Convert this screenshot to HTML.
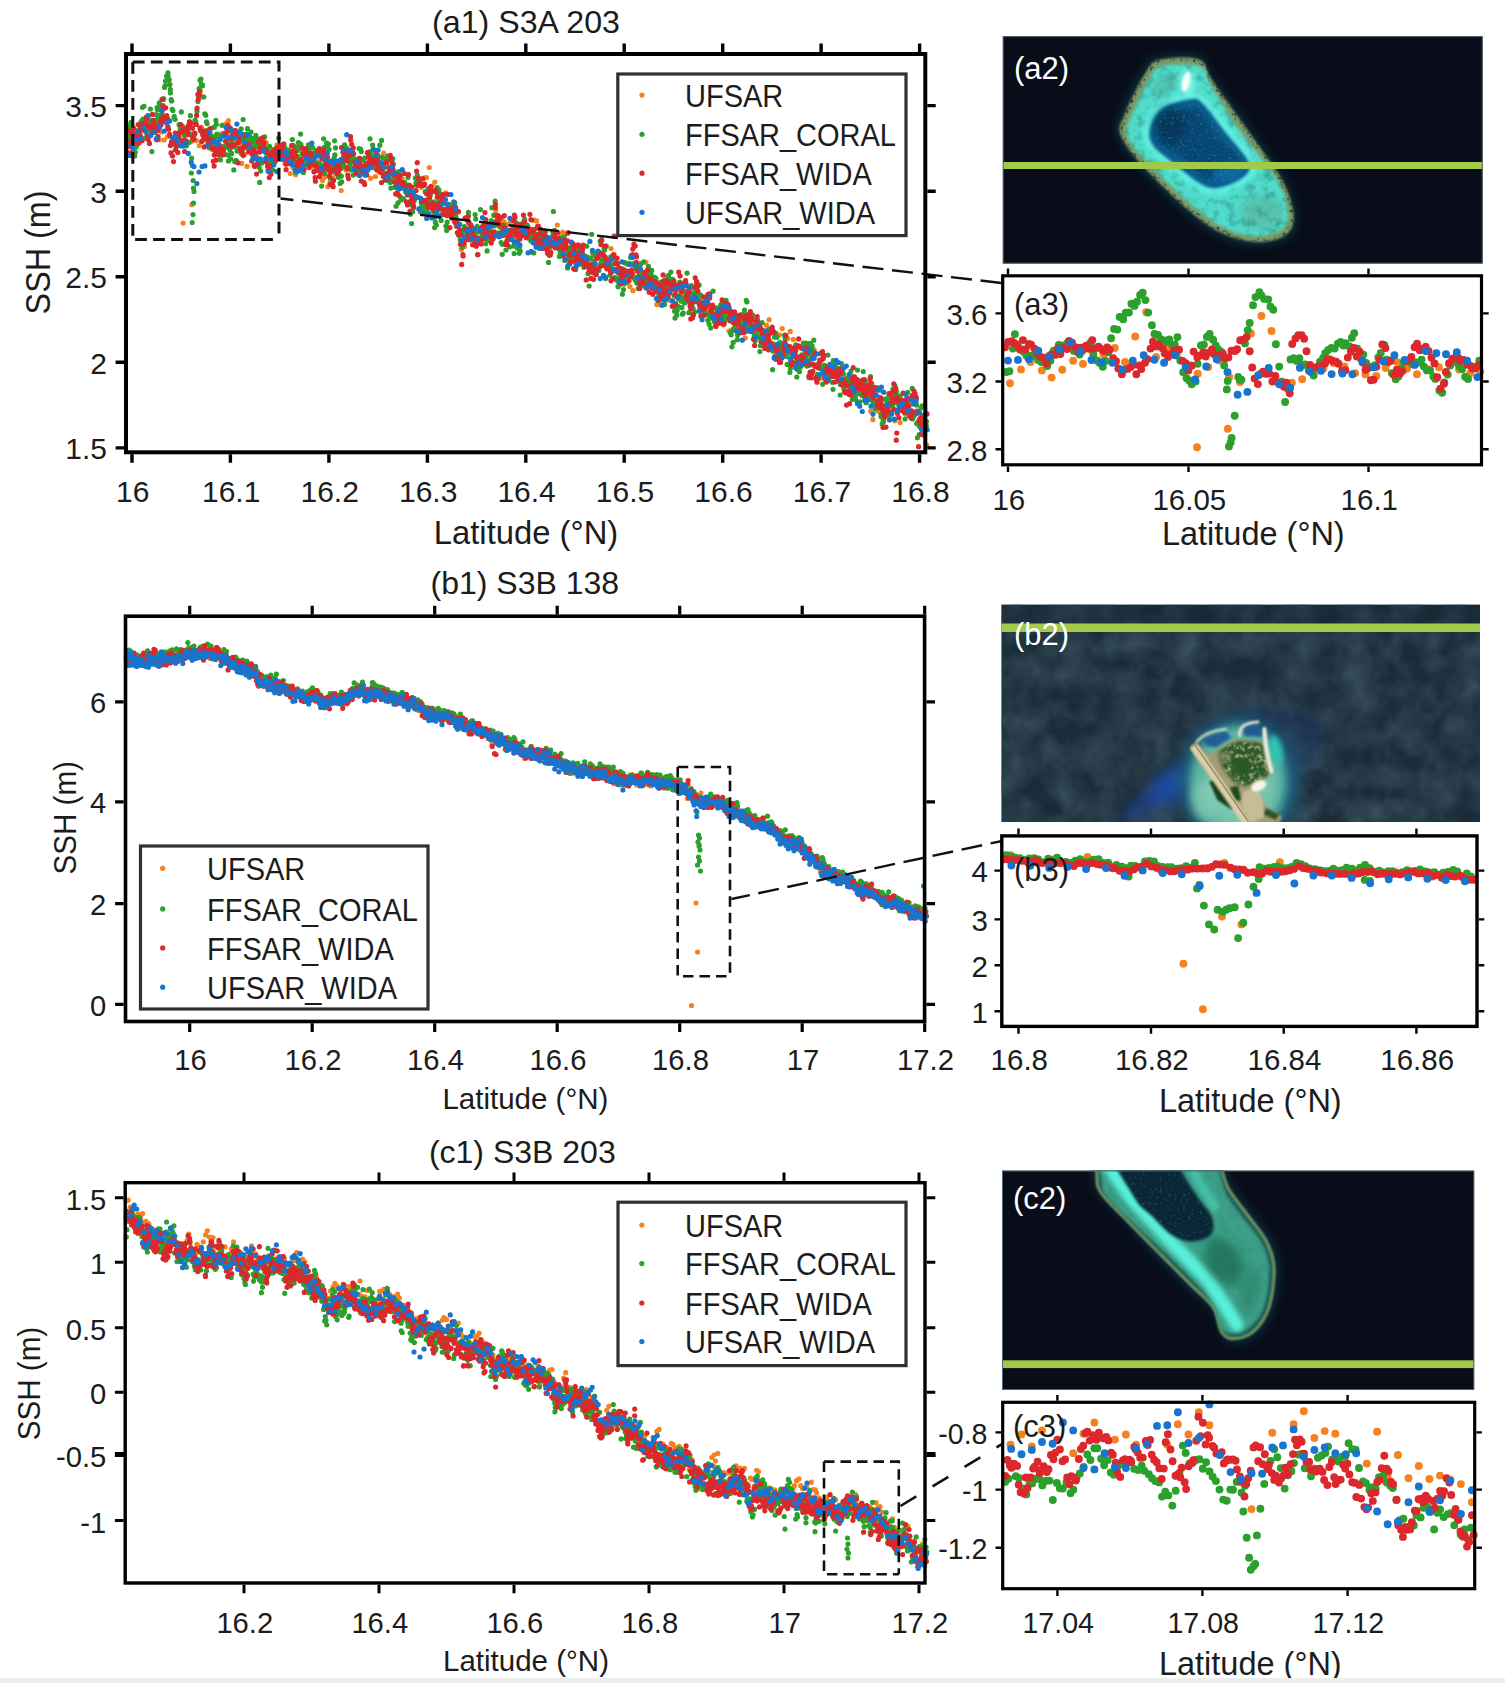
<!DOCTYPE html>
<html lang="en"><head><meta charset="utf-8"><title>SSH along-track comparison</title>
<style>html,body{margin:0;padding:0;background:#fff}svg{display:block}text{font-family:'Liberation Sans', Arial, Helvetica, sans-serif}</style></head><body>
<svg width="1505" height="1683" viewBox="0 0 1505 1683">
<rect width="1505" height="1683" fill="#fff"/>
<defs>
<clipPath id="ca2"><rect x="1002.7" y="36.1" width="480.1" height="227.6"/></clipPath>
<clipPath id="cb2"><rect x="1001.3" y="604.4" width="478.7" height="217.6"/></clipPath>
<clipPath id="cc2"><rect x="1002" y="1170.5" width="472.3" height="219.5"/></clipPath>
<filter id="bl0" x="-30%" y="-30%" width="160%" height="160%" color-interpolation-filters="sRGB"><feGaussianBlur stdDeviation="0.8"/></filter>
<filter id="bl1" x="-30%" y="-30%" width="160%" height="160%" color-interpolation-filters="sRGB"><feGaussianBlur stdDeviation="1.5"/></filter>
<filter id="bl2" x="-30%" y="-30%" width="160%" height="160%" color-interpolation-filters="sRGB"><feGaussianBlur stdDeviation="2.5"/></filter>
<filter id="bl3" x="-30%" y="-30%" width="160%" height="160%" color-interpolation-filters="sRGB"><feGaussianBlur stdDeviation="4"/></filter>
<filter id="bl4" x="-30%" y="-30%" width="160%" height="160%" color-interpolation-filters="sRGB"><feGaussianBlur stdDeviation="7"/></filter>
<filter id="bl5" x="-30%" y="-30%" width="160%" height="160%" color-interpolation-filters="sRGB"><feGaussianBlur stdDeviation="12"/></filter>
<filter id="sea" x="0" y="0" width="100%" height="100%" color-interpolation-filters="sRGB"><feTurbulence type="fractalNoise" baseFrequency="0.035" numOctaves="3" seed="7" result="n"/><feColorMatrix in="n" type="matrix" values="0 0 0 0 0.22  0 0 0 0 0.31  0 0 0 0 0.36  1.3 1.1 0 0 -0.85"/></filter>
<filter id="speck" x="0" y="0" width="100%" height="100%" color-interpolation-filters="sRGB"><feTurbulence type="fractalNoise" baseFrequency="0.35" numOctaves="2" seed="3" result="n"/><feColorMatrix in="n" type="matrix" values="0 0 0 0 0.25  0 0 0 0 0.75  0 0 0 0 0.75  2.2 0 0 0 -1.25"/><feComposite in2="SourceGraphic" operator="in"/></filter>
<filter id="speck2" x="0" y="0" width="100%" height="100%" color-interpolation-filters="sRGB"><feTurbulence type="fractalNoise" baseFrequency="0.22" numOctaves="2" seed="9" result="n"/><feColorMatrix in="n" type="matrix" values="0 0 0 0 0.72  0 0 0 0 0.70  0 0 0 0 0.55  3.0 0 0 0 -1.35"/><feComposite in2="SourceGraphic" operator="in"/></filter>
<filter id="mottle" x="0" y="0" width="100%" height="100%" color-interpolation-filters="sRGB"><feTurbulence type="fractalNoise" baseFrequency="0.11" numOctaves="3" seed="11" result="n"/><feColorMatrix in="n" type="matrix" values="0 0 0 0 0.20  0 0 0 0 0.56  0 0 0 0 0.50  1.8 0 0 0 -0.8"/><feComposite in2="SourceGraphic" operator="in"/></filter>
<filter id="mottle2" x="0" y="0" width="100%" height="100%" color-interpolation-filters="sRGB"><feTurbulence type="fractalNoise" baseFrequency="0.3" numOctaves="2" seed="5" result="n"/><feColorMatrix in="n" type="matrix" values="0 0 0 0 0.10  0 0 0 0 0.16  0 0 0 0 0.08  0 3.2 0 0 -1.55"/><feComposite in2="SourceGraphic" operator="in"/></filter>
</defs>
<g clip-path="url(#ca2)">
<rect x="1002.7" y="36.1" width="480.1" height="227.6" fill="#080d19"/>
<path d="M1157.1 56.5C1166.5 53.9 1189.3 52.3 1198.5 55.5C1207.7 58.8 1205.5 66.8 1212.1 76C1218.7 85.2 1229.6 98.8 1238.3 110.7C1246.9 122.6 1255.8 134.9 1264 147.1C1272.1 159.4 1281.7 172.5 1287.2 184C1292.6 195.6 1296.3 207.6 1296.7 216.4C1297.1 225.2 1295.5 232.1 1289.7 236.9C1283.9 241.8 1272.2 245.1 1261.9 245.5C1251.7 245.9 1239.5 243.7 1228.3 239.4C1217.1 235.1 1208.6 231 1194.6 219.9C1180.6 208.8 1157.1 186.8 1144.2 172.7C1131.3 158.6 1120.8 145.6 1117.1 135.3C1113.3 125 1117.7 121.5 1121.9 110.8C1126 100.2 1136.1 80.5 1141.9 71.4C1147.8 62.4 1147.6 59.2 1157.1 56.5Z" fill="#0c2f3c" filter="url(#bl3)"/>
<path d="M1159 60C1168.1 57.5 1190.2 56.2 1199 59.5C1207.8 62.8 1205.8 70.9 1212 80C1218.2 89.1 1228 102.8 1236 114C1244 125.2 1252.1 136.1 1260 147.5C1267.9 158.9 1277.9 171.4 1283.5 182.5C1289.1 193.6 1292.9 205.4 1293.5 214C1294.1 222.6 1292.6 229.3 1287 234C1281.4 238.7 1269.9 241.8 1260 242C1250.1 242.2 1238.2 239.8 1227.5 235.5C1216.8 231.2 1208.8 226.7 1195.5 216C1182.2 205.3 1160.4 184.8 1148 171.5C1135.6 158.2 1124.8 145.8 1121 136C1117.2 126.2 1121.6 122.8 1125.5 112.5C1129.4 102.2 1138.9 83.2 1144.5 74.5C1150.1 65.8 1149.9 62.5 1159 60Z" fill="#7d9a68" filter="url(#bl0)"/>
<path d="M1162.4 66.1C1170.9 63.9 1191.6 63 1199.8 66.4C1208.1 69.9 1206.4 78.1 1211.8 87C1217.2 95.9 1225.2 109.6 1232.1 119.8C1238.9 130 1245.5 138.1 1253 148.1C1260.5 158.1 1271.2 169.5 1277 179.8C1282.8 190.1 1287 201.6 1287.9 209.8C1288.7 218 1287.4 224.5 1282.2 228.9C1277 233.2 1266 235.9 1256.6 235.9C1247.3 235.8 1236 233.1 1226.1 228.6C1216.2 224.2 1209 219.1 1197.1 209.2C1185.2 199.3 1166.2 181.4 1154.7 169.4C1143.1 157.4 1131.7 146.2 1127.9 137.2C1124.1 128.2 1128.3 125 1131.8 115.5C1135.4 105.9 1143.9 88.1 1149 79.8C1154.1 71.6 1153.9 68.3 1162.4 66.1Z" fill="#4fdccc" filter="url(#bl1)"/>
<ellipse cx="1262" cy="212" rx="22" ry="17" fill="#5fae93" opacity=".55" filter="url(#bl3)"/>
<ellipse cx="1165" cy="85" rx="16" ry="10" fill="#4fae9a" opacity=".5" filter="url(#bl2)" transform="rotate(-40 1165 85)"/>
<path d="M1161.9 65.2C1170.5 63 1191.4 62 1199.7 65.5C1208 68.9 1206.4 77.1 1211.8 86C1217.3 94.9 1225.6 108.6 1232.6 119C1239.7 129.3 1246.5 137.8 1254 148C1261.6 158.2 1272.2 169.8 1278 180.2C1283.7 190.6 1287.9 202.2 1288.7 210.4C1289.5 218.7 1288.2 225.2 1282.9 229.6C1277.6 234 1266.5 236.8 1257.1 236.8C1247.7 236.8 1236.3 234.1 1226.3 229.6C1216.2 225.2 1208.9 220.1 1196.8 210.2C1184.7 200.2 1165.4 181.9 1153.7 169.7C1142.1 157.5 1130.7 146.2 1126.9 137.1C1123.1 127.9 1127.4 124.7 1130.9 115C1134.5 105.4 1143.2 87.4 1148.4 79.1C1153.5 70.8 1153.4 67.5 1161.9 65.2Z" fill="#3fb8a8" filter="url(#mottle)" opacity=".9"/>
<path d="M1159.7 61.3C1168.7 58.9 1190.5 57.6 1199.2 61C1207.9 64.4 1206 72.5 1212 81.5C1218 90.5 1227.4 104.2 1235.2 115.2C1242.9 126.3 1250.7 136.5 1258.5 147.6C1266.3 158.7 1276.5 171 1282.1 181.9C1287.7 192.8 1291.7 204.6 1292.3 213.1C1292.9 221.6 1291.5 228.3 1286 232.9C1280.5 237.5 1269.1 240.5 1259.3 240.7C1249.5 240.9 1237.8 238.4 1227.2 234C1216.6 229.7 1208.8 225 1195.8 214.5C1182.9 204 1161.7 184.1 1149.4 171.1C1137.2 158 1126.2 145.9 1122.5 136.3C1118.7 126.6 1123 123.2 1126.9 113.1C1130.7 103 1140 84.3 1145.5 75.6C1150.9 67 1150.8 63.8 1159.7 61.3Z" fill="none" stroke="#000" stroke-width="5" filter="url(#mottle2)" opacity=".75"/>
<path d="M1189 96.5C1195.7 95.7 1195.7 94.1 1202.3 100C1208.9 105.9 1220.6 121.4 1228.8 131.9C1237 142.4 1248.4 155.3 1251.3 163C1254.3 170.7 1251.5 173.7 1246.5 178.2C1241.5 182.7 1228.7 188.6 1221.4 190.2C1214 191.7 1210.2 191.3 1202.3 187.5C1194.4 183.6 1182.6 174.2 1173.8 167.1C1165 159.9 1153.8 151.6 1149.5 144.5C1145.2 137.4 1146.1 130.9 1148.2 124.4C1150.3 117.8 1155.2 109.9 1162 105.3C1168.8 100.6 1182.2 97.4 1189 96.5Z" fill="none" stroke="#62f2e6" stroke-width="9" filter="url(#bl2)" opacity=".85"/>
<path d="M1189.5 99.5C1195.8 98.8 1195.9 97.4 1202 103C1208.1 108.6 1218.2 123.2 1226 133C1233.8 142.8 1245.5 154.8 1248.5 162C1251.5 169.2 1248.8 172.2 1244 176.5C1239.2 180.8 1227 186.2 1220 187.5C1213 188.8 1209.3 188.2 1202 184.5C1194.7 180.8 1184.2 171.7 1176 165C1167.8 158.3 1156.7 151.1 1152.5 144.5C1148.3 137.9 1149.1 131.7 1151 125.5C1152.9 119.3 1157.6 111.8 1164 107.5C1170.4 103.2 1183.2 100.2 1189.5 99.5Z" fill="#0a5c8e" filter="url(#bl1)"/>
<path d="M1191.1 108.4C1196.3 108 1196.7 107.3 1201.1 112C1205.5 116.6 1211.2 128.5 1217.7 136.4C1224.1 144.2 1236.8 153.2 1240 159.1C1243.2 164.9 1240.6 168 1236.6 171.4C1232.6 174.8 1221.8 178.8 1215.9 179.5C1209.9 180.2 1206.6 179 1201.1 175.5C1195.5 172.1 1189.1 164 1182.5 158.8C1175.9 153.6 1165.4 149.5 1161.5 144.5C1157.6 139.5 1157.9 133.9 1159.3 128.9C1160.8 123.8 1164.8 117.6 1170.1 114.1C1175.4 110.7 1186 108.7 1191.1 108.4Z" fill="#073f6c" opacity=".75" filter="url(#bl2)"/>
<ellipse cx="1170" cy="125" rx="16" ry="18" fill="#06304f" opacity=".7" filter="url(#bl3)"/>
<ellipse cx="1228" cy="172" rx="16" ry="9" fill="#0f73ad" opacity=".7" filter="url(#bl2)" transform="rotate(-15 1228 172)"/>
<path d="M1190.2 103.4C1196 102.9 1196.2 101.8 1201.6 107C1206.9 112.2 1215.1 125.5 1222.3 134.5C1229.5 143.5 1241.7 154.1 1244.7 160.7C1247.8 167.3 1245.1 170.3 1240.7 174.2C1236.3 178.1 1224.7 182.9 1218.2 183.9C1211.6 185 1208.1 184.1 1201.6 180.5C1195 176.9 1186.4 168.3 1178.9 162.3C1171.4 156.2 1160.5 150.4 1156.5 144.5C1152.5 138.6 1153 132.7 1154.7 127C1156.4 121.3 1160.8 114.4 1166.7 110.5C1172.6 106.5 1184.4 104 1190.2 103.4Z" fill="#fff" filter="url(#speck)" opacity=".55"/>
<ellipse cx="1187" cy="83" rx="8" ry="13" fill="#8ffff0" opacity=".7" filter="url(#bl2)"/>
<ellipse cx="1186" cy="82" rx="3.8" ry="10" fill="#f8fffb" filter="url(#bl0)" transform="rotate(12 1186 82)"/>
<rect x="1002.7" y="162" width="480.1" height="7" fill="#a1ca4b"/>
</g>
<rect x="1003.2" y="36.6" width="479.1" height="226.6" fill="none" stroke="#5a6470" stroke-width="1"/>
<text x="1014" y="78.5" font-size="31" text-anchor="start" fill="#fff">(a2)</text>
<g clip-path="url(#cb2)">
<rect x="1001.3" y="604.4" width="478.7" height="217.6" fill="#1a2c39"/>
<rect x="1001.3" y="604.4" width="478.7" height="217.6" filter="url(#sea)"/>
<rect x="1001.3" y="604.4" width="478.7" height="19" fill="#13202e" opacity=".3"/>
<ellipse cx="1171" cy="786" rx="25" ry="15" fill="#1b4fae" opacity=".9" filter="url(#bl4)" transform="rotate(-38 1171 786)"/>
<ellipse cx="1142" cy="806" rx="24" ry="9" fill="#1b3f96" opacity=".7" filter="url(#bl4)" transform="rotate(-35 1142 806)"/>
<ellipse cx="1300" cy="742" rx="26" ry="30" fill="#1d3a68" opacity=".45" filter="url(#bl4)"/>
<ellipse cx="1262" cy="716" rx="30" ry="10" fill="#1d3a68" opacity=".45" filter="url(#bl4)"/>
<ellipse cx="1239" cy="781" rx="60" ry="65" fill="#1d5f80" filter="url(#bl4)"/>
<ellipse cx="1238" cy="782" rx="48" ry="56" fill="#5cb6a2" filter="url(#bl3)"/>
<ellipse cx="1240" cy="786" rx="34" ry="42" fill="#86ccb6" opacity=".7" filter="url(#bl3)"/>
<ellipse cx="1205" cy="800" rx="14" ry="20" fill="#8fd0b8" opacity=".55" filter="url(#bl3)"/>
<ellipse cx="1276" cy="750" rx="6" ry="15" fill="#2fc4b4" filter="url(#bl2)" transform="rotate(-12 1276 750)"/>
<path d="M1202.9 737.8L1225.3 730.7L1231.6 737.8L1215.7 747.4L1206.1 745.8Z" fill="#215f94" filter="url(#bl1)"/>
<path d="M1242.8 725.9L1258.8 724.3L1261.9 736.3L1244.4 736.3Z" fill="#1f5a90" filter="url(#bl1)"/>
<path d="M1190.2 748.2C1189.5 745.9 1194.6 742.9 1196.6 743.4C1198.5 744 1205.5 754.2 1209.3 753.8C1213.1 753.4 1229.6 740.6 1234.8 739.4C1240.1 738.2 1258.7 739.9 1261.9 741.8C1265.2 743.7 1266.7 755.3 1267.5 758.6C1268.4 761.9 1271.4 772 1270.7 774.5C1270 777.1 1261.7 782.3 1260.4 784.1C1259 785.9 1256.4 789.7 1257.2 792.1C1258 794.5 1265.9 805.6 1268.3 808C1270.7 810.4 1280.1 814.6 1281.1 816C1282 817.4 1281.4 821.7 1277.9 822.4C1274.4 823 1251.6 825.4 1246 822.4C1240.4 819.3 1226.4 797.7 1222.1 792.1C1217.8 786.5 1206.1 770.9 1202.9 766.6C1199.7 762.2 1190.8 750.5 1190.2 748.2Z" fill="#a39c76" filter="url(#bl0)"/>
<path d="M1218.9 751.4C1220.5 748.9 1233.8 742.2 1238 741.4C1242.2 740.6 1258.4 741.8 1261.1 743.4C1263.9 745.1 1265.2 754.6 1265.9 757.8C1266.6 761 1268.9 773.2 1268 775.3C1267.2 777.5 1259.5 778.3 1257.5 779.3C1255.4 780.4 1249.9 785.3 1247.6 785.7C1245.3 786 1237.4 784.7 1234.8 782.8C1232.3 780.9 1223.7 769.7 1222.1 766.6C1220.5 763.4 1217.3 753.9 1218.9 751.4Z" fill="#2c5a2a" filter="url(#bl1)"/>
<path d="M1218.9 751.4C1220.5 748.9 1233.8 742.2 1238 741.4C1242.2 740.6 1258.4 741.8 1261.1 743.4C1263.9 745.1 1265.2 754.6 1265.9 757.8C1266.6 761 1268.9 773.2 1268 775.3C1267.2 777.5 1259.5 778.3 1257.5 779.3C1255.4 780.4 1249.9 785.3 1247.6 785.7C1245.3 786 1237.4 784.7 1234.8 782.8C1232.3 780.9 1223.7 769.7 1222.1 766.6C1220.5 763.4 1217.3 753.9 1218.9 751.4Z" fill="#b8b08c" filter="url(#speck2)" opacity=".9"/>
<path d="M1215.7 753.8L1228.5 750.6L1231.6 760.2L1222.1 765Z" fill="#8a8a66" opacity=".6" filter="url(#bl1)"/>
<path d="M1231.6 760.2L1247.6 757L1250.8 772.9L1238 776.1Z" fill="#2a5a24" filter="url(#bl0)"/>
<path d="M1209.3 781.7L1215.7 779.3L1236.4 804.8L1231.6 809.6L1217.3 800Z" fill="#173f1b" filter="url(#bl0)"/>
<path d="M1265.9 808L1279.5 814.4L1275.5 820L1263.5 814.4Z" fill="#2c5526" filter="url(#bl0)"/>
<path d="M1230 787.3L1238 785.7L1241.2 800L1234 801.6Z" fill="#1f4a20" filter="url(#bl0)"/>
<path d="M1193.7 746.1L1247.6 824" stroke="#dccfa8" stroke-width="8.2" filter="url(#bl0)"/>
<path d="M1195 745L1250 824" stroke="#8c8462" stroke-width="1.3"/>
<path d="M1242.8 792.1L1257.2 787.3L1263.5 801.6L1263.5 817.6L1250.8 822.4L1241.2 804.8Z" fill="#c6bd98" filter="url(#bl0)"/>
<ellipse cx="1258.8" cy="785.7" rx="8" ry="5" fill="#f6f4ea" filter="url(#bl0)" transform="rotate(-25 1259 786)"/>
<path d="M1264.3 729.1Q1265.9 753.8 1271.5 771.3" stroke="#f0ead8" stroke-width="4.2" fill="none" stroke-linecap="round" filter="url(#bl0)"/>
<path d="M1239.6 735.5Q1238.8 722.7 1258 721.9" stroke="#e4e2cc" stroke-width="3" fill="none" stroke-linecap="round" filter="url(#bl0)"/>
<path d="M1196.6 741.8Q1206.1 730.7 1226.1 729.1" stroke="#c4d4bc" stroke-width="2.6" fill="none" stroke-linecap="round" filter="url(#bl0)"/>
<rect x="1001.3" y="623.5" width="478.7" height="8.5" fill="#a1ca4b"/>
</g>
<text x="1014" y="645" font-size="31" text-anchor="start" fill="#fff">(b2)</text>
<g clip-path="url(#cc2)">
<rect x="1002" y="1170.5" width="472.3" height="219.5" fill="#080d19"/>
<path d="M1090.6 1131.4C1072.5 1137 1091.1 1159.4 1091.9 1169.1C1092.8 1178.8 1090.4 1181 1095.6 1189.6C1100.8 1198.2 1113.4 1209.4 1123.3 1220.4C1133.1 1231.4 1143.7 1244 1154.6 1255.6C1165.6 1267.1 1178.9 1280.2 1188.9 1289.9C1198.9 1299.5 1209 1305.5 1214.7 1313.4C1220.3 1321.3 1219.4 1332.2 1222.8 1337.3C1226.1 1342.5 1229.2 1344.3 1234.7 1344.2C1240.3 1344.1 1249.8 1342.1 1256.2 1336.7C1262.6 1331.3 1269.3 1322.9 1273.2 1311.8C1277.2 1300.7 1279.9 1281.7 1279.8 1269.9C1279.7 1258.1 1277.1 1251 1272.5 1241.2C1267.9 1231.4 1259 1220.7 1252.2 1211.3C1245.4 1201.9 1240.6 1197.3 1231.9 1184.6C1223.2 1171.9 1223.6 1143.9 1200.1 1135C1176.5 1126.1 1108.6 1125.7 1090.6 1131.4Z" fill="#0b2b3a" filter="url(#bl3)"/>
<path d="M1094 1135C1076.7 1140.3 1095 1162.5 1096 1172C1097 1181.5 1094.7 1183.7 1100 1192C1105.3 1200.3 1118.1 1211.6 1128 1222C1137.9 1232.4 1149.2 1244 1159.5 1254.5C1169.8 1265 1181 1276 1190 1285C1199 1294 1208.2 1300.6 1213.5 1308.5C1218.8 1316.4 1218.2 1327.3 1221.5 1332.5C1224.8 1337.7 1227.7 1339.5 1233 1339.5C1238.3 1339.5 1247.4 1337.7 1253.5 1332.5C1259.6 1327.3 1265.9 1319.2 1269.5 1308.5C1273.1 1297.8 1275.3 1279.7 1275 1268.5C1274.7 1257.3 1272 1250.6 1267.5 1241.5C1263 1232.4 1254.3 1222.8 1248 1214C1241.7 1205.2 1237.5 1201.3 1229.5 1189C1221.5 1176.7 1222.6 1149 1200 1140C1177.4 1131 1111.3 1129.7 1094 1135Z" fill="#1d5c58" filter="url(#bl0)"/>
<path d="M1094.7 1135.7C1077.5 1141 1095.8 1163.1 1096.8 1172.6C1097.8 1182 1095.5 1184.2 1100.9 1192.5C1106.2 1200.8 1119 1212 1128.9 1222.3C1138.9 1232.6 1150.3 1244 1160.5 1254.3C1170.7 1264.6 1181.4 1275.2 1190.2 1284C1199 1292.9 1208.1 1299.6 1213.3 1307.5C1218.4 1315.4 1218 1326.4 1221.2 1331.5C1224.5 1336.7 1227.4 1338.5 1232.7 1338.6C1237.9 1338.6 1246.9 1336.8 1253 1331.7C1259 1326.5 1265.2 1318.4 1268.8 1307.8C1272.3 1297.3 1274.4 1279.3 1274 1268.2C1273.7 1257.2 1271 1250.5 1266.5 1241.6C1262 1232.6 1253.4 1223.2 1247.2 1214.5C1240.9 1205.9 1236.9 1202.1 1229 1189.9C1221.2 1177.6 1222.4 1150 1200 1141C1177.6 1132 1111.9 1130.5 1094.7 1135.7Z" fill="none" stroke="#7f9c5c" stroke-width="2.6" filter="url(#bl0)"/>
<path d="M1098.5 1139.7C1082 1144.6 1100.1 1166.6 1101.3 1175.8C1102.5 1185 1100.2 1187.1 1105.7 1195.1C1111.2 1203.2 1124.1 1214.4 1134.2 1224.1C1144.2 1233.8 1156.3 1244 1165.8 1253.1C1175.4 1262.2 1183.7 1270.5 1191.4 1278.7C1199.1 1286.8 1207.3 1294.2 1212 1302.2C1216.7 1310.1 1216.7 1321 1219.8 1326.2C1223 1331.4 1225.7 1333.3 1230.8 1333.4C1235.8 1333.5 1244.4 1331.9 1250 1327C1255.7 1322.1 1261.5 1314.3 1264.6 1304.2C1267.8 1294.1 1269.4 1277 1268.8 1266.7C1268.2 1256.3 1265.4 1250.1 1261 1241.9C1256.6 1233.7 1248.3 1225.4 1242.5 1217.5C1236.8 1209.7 1233.5 1206.6 1226.4 1194.7C1219.3 1182.9 1221.2 1155.7 1199.9 1146.5C1178.6 1137.3 1114.9 1134.8 1098.5 1139.7Z" fill="#3c9f86" filter="url(#bl1)"/>
<path d="M1097.4 1138.6C1080.8 1143.6 1098.9 1165.6 1100.1 1174.9C1101.2 1184.2 1098.9 1186.3 1104.4 1194.4C1109.8 1202.5 1122.7 1213.8 1132.7 1223.6C1142.7 1233.4 1154.7 1244 1164.4 1253.4C1174.1 1262.9 1183.1 1271.8 1191.1 1280.1C1199.1 1288.5 1207.5 1295.7 1212.3 1303.6C1217.2 1311.6 1217.1 1322.5 1220.2 1327.7C1223.4 1332.9 1226.2 1334.7 1231.3 1334.8C1236.4 1334.9 1245.1 1333.2 1250.8 1328.3C1256.6 1323.3 1262.5 1315.4 1265.8 1305.2C1269 1295 1270.7 1277.6 1270.2 1267.1C1269.7 1256.5 1266.9 1250.2 1262.5 1241.8C1258.1 1233.4 1249.7 1224.8 1243.8 1216.7C1237.9 1208.6 1234.4 1205.3 1227.1 1193.4C1219.8 1181.4 1221.6 1154.1 1199.9 1145C1178.3 1135.9 1114.1 1133.6 1097.4 1138.6Z" fill="#000" filter="url(#mottle)" opacity=".8"/>
<path d="M1103 1158 L1131 1198 L1172 1243 L1209 1281 L1227 1309 L1237 1325" stroke="#58efd8" stroke-width="13.5" fill="none" stroke-linecap="round" filter="url(#bl2)"/>
<path d="M1182 1150 L1201 1185 L1217 1210" stroke="#46c0a8" stroke-width="9" fill="none" filter="url(#bl2)"/>
<ellipse cx="1224" cy="1262" rx="17" ry="25" fill="#176248" opacity=".62" filter="url(#bl3)" transform="rotate(-30 1224 1262)"/>
<ellipse cx="1250" cy="1290" rx="8" ry="22" fill="#2a7c62" opacity=".6" filter="url(#bl3)" transform="rotate(15 1250 1290)"/>
<path d="M1108 1140C1113.3 1130.5 1153.8 1134.8 1166 1140C1178.2 1145.2 1176.2 1162 1181.5 1171.5C1186.8 1181 1192.4 1189.3 1197.5 1197C1202.6 1204.7 1209.8 1211.2 1212 1217.5C1214.2 1223.8 1214 1231 1210.5 1235C1207 1239 1197.4 1241.5 1191 1241.5C1184.6 1241.5 1178.5 1239.2 1172 1235C1165.5 1230.8 1158.3 1222.3 1152 1216C1145.7 1209.7 1141.3 1209.7 1134 1197C1126.7 1184.3 1102.7 1149.5 1108 1140Z" fill="#0a2536" filter="url(#bl1)"/>
<path d="M1109.5 1141.4C1114.5 1132.2 1154.3 1136.6 1166.2 1142C1178.1 1147.3 1176 1164.2 1180.9 1173.4C1185.8 1182.6 1190.6 1190 1195.5 1197.2C1200.4 1204.4 1207.9 1210.6 1210.2 1216.7C1212.4 1222.7 1212.4 1229.8 1209 1233.6C1205.7 1237.5 1196.4 1239.8 1190.2 1239.7C1184 1239.6 1178.1 1237.2 1172 1233C1165.9 1228.8 1159.5 1220.7 1153.5 1214.7C1147.5 1208.7 1143.3 1209.3 1136 1197.1C1128.7 1184.9 1104.4 1150.5 1109.5 1141.4Z" fill="#fff" filter="url(#speck)" opacity=".45"/>
<rect x="1002" y="1360.3" width="472.3" height="7.8" fill="#a1ca4b"/>
</g>
<rect x="1002.5" y="1171" width="471.3" height="218.5" fill="none" stroke="#5a6470" stroke-width="1"/>
<text x="1013" y="1208.5" font-size="31" text-anchor="start" fill="#fff">(c2)</text>
<path d="M127.1 147.2h0M129.5 139.7h0M132 142.7h0M135.1 152.6h0M137.9 137.9h0M140.8 138h0M142.9 121h0M145.4 137.9h0M148.3 125.2h0M151 120.1h0M153.4 125.7h0M156.7 121h0M159.4 139.6h0M161.8 132h0M164.1 140h0M167.5 136.7h0M169.4 135.8h0M172.1 144.1h0M175.2 140.5h0M177.4 142.2h0M180.4 141.9h0M183.2 127.9h0M185.8 132.6h0M188.3 125.3h0M191.2 141.6h0M193.7 139.2h0M196.4 140.6h0M199.3 145.7h0M201.5 127.2h0M204.2 140h0M207 145.8h0M209.9 146.9h0M212.5 149.7h0M215 141.9h0M217.8 143.9h0M220.3 134.2h0M222.9 133.3h0M225.8 123.8h0M228.4 120.7h0M231.1 134.8h0M233.7 141.8h0M236.3 141.9h0M239 144.2h0M241.8 163.4h0M244.4 154.5h0M247 166.4h0M249.9 149.1h0M252.7 144.2h0M255.3 140.9h0M257.9 143.5h0M260.4 146.1h0M263.1 140.3h0M266.2 142.5h0M268.5 154.2h0M271.1 152.9h0M274.1 150.9h0M276.9 145h0M279.1 157.1h0M282.4 150.7h0M285 163.4h0M287.5 163h0M290.3 173.5h0M292.9 167.5h0M295.6 174.7h0M297.8 169.3h0M301.2 161.8h0M303.9 165.4h0M306.1 155.7h0M308.9 162.3h0M311.3 158.4h0M314.1 170.3h0M316.8 165.1h0M319.5 161.1h0M322.6 180.5h0M325.1 177.1h0M327.8 186.8h0M330.1 182.7h0M333 178.3h0M335.5 174h0M338.4 176.5h0M341.2 190.5h0M343.8 162.7h0M346 170.1h0M349.3 154.9h0M351.5 153.8h0M354.6 169.5h0M357.3 164.1h0M359.3 171.8h0M362.2 172.9h0M365.2 172.5h0M367.8 169h0M370.6 178.3h0M372.7 167.7h0M375.5 176.5h0M378.1 171.1h0M380.8 165.3h0M383.6 153.1h0M386.3 161.4h0M389.2 172.3h0M392.2 162.8h0M394.9 174.8h0M397.5 173.6h0M400.1 185.7h0M402.1 178.5h0M405.2 184.7h0M408 190.4h0M410.3 187.6h0M413.3 195.7h0M415.8 197.8h0M418.5 178.9h0M421.2 187.3h0M424.1 177.9h0M426.5 177.6h0M429.3 167.5h0M432.1 186h0M434.8 182.1h0M437 198h0M439.7 195.5h0M442.8 196.8h0M445.6 192.8h0M447.8 204.2h0M450.4 207.2h0M453.5 216.2h0M456.1 226.2h0M458.3 232.5h0M461.3 249.4h0M464.4 246.4h0M466.8 235h0M469.7 223.1h0M472.1 228.6h0M475 232.3h0M477.1 230.7h0M480.3 230.3h0M483 235.3h0M485.1 230.9h0M488.4 240.5h0M490.5 225.7h0M493.8 215.4h0M495.8 210.8h0M498.9 217.2h0M501.6 218.3h0M504 221.5h0M506.7 224.9h0M509.8 223h0M512.5 239.3h0M514.8 228.7h0M517.4 229.5h0M520.2 239h0M523.2 225.1h0M525.7 228.7h0M528 226.5h0M530.6 229.5h0M534 220h0M536.5 220.9h0M538.9 237.6h0M541.4 239.8h0M544 240.7h0M547.3 253h0M549.8 239.7h0M552.4 243.6h0M555 244.7h0M557.3 225h0M560.5 234.4h0M562.7 232h0M565.3 245.2h0M568.7 254.2h0M570.8 247.9h0M574.1 252.9h0M576.1 264h0M578.9 255.3h0M581.8 258.8h0M584.4 266.4h0M587.4 257.4h0M589.5 261.5h0M592.3 268h0M595.2 263.6h0M597.4 256.4h0M600.5 266.4h0M603.1 259.2h0M605.9 260.5h0M608.7 266.8h0M611.1 248.6h0M614.1 254.3h0M616.9 262.2h0M619.3 280.2h0M622.2 278.1h0M624.2 276.9h0M627.4 282.2h0M629.9 286.5h0M632.9 290.7h0M634.8 276.8h0M637.9 280.5h0M640.9 278.5h0M643.4 279h0M645.8 262.3h0M648.9 283.8h0M651 280.4h0M654.3 286h0M656.8 304.6h0M659.7 304.6h0M661.8 297.4h0M664.9 296.4h0M667.3 300.1h0M670.4 300.3h0M672.6 301.3h0M675.1 296.1h0M677.7 285.1h0M680.5 294.6h0M683.1 291.2h0M686.4 301h0M688.5 296.1h0M691.5 309.1h0M693.8 297.4h0M696.8 300.4h0M699.7 298.1h0M702.5 305.3h0M704.6 307.2h0M707.3 309.8h0M709.8 315.3h0M713 315.8h0M715.1 322.3h0M718 322.5h0M720.7 323.3h0M723.3 324.9h0M726.3 318.7h0M729.1 331h0M731.9 330.2h0M734.4 322.9h0M737.2 315.7h0M739.9 322.6h0M741.9 332.4h0M745.2 338.1h0M747.6 323.3h0M750.3 323.8h0M752.6 324.6h0M755.5 325.7h0M757.9 330h0M760.8 328.4h0M763.6 335.7h0M766.4 325.2h0M769.1 319.7h0M771.5 329.9h0M774.5 337.2h0M776.8 337.1h0M779.4 334.8h0M782.2 328.6h0M785 342.7h0M787.8 338.6h0M790.2 331.4h0M793.4 339.4h0M795.4 362.5h0M798.8 357.6h0M800.9 365.8h0M803.4 364.5h0M806.5 362h0M809.2 360.8h0M811.8 348.3h0M814.1 349.5h0M817.2 366.8h0M819.8 378.5h0M822.7 377h0M825.3 380.1h0M827.6 372.7h0M830.5 373.4h0M832.9 365.5h0M836.2 371.9h0M838.2 369.5h0M841.2 371h0M844.2 378.1h0M846.8 380.4h0M849.5 390.4h0M851.8 375.9h0M854.5 393.1h0M857 390.2h0M859.9 383.5h0M862.8 395.6h0M865.2 388.6h0M868.3 398.5h0M870.7 411.3h0M872.9 419.7h0M876.2 410h0M878.3 411.3h0M881 399.5h0M884 407h0M886.8 414.2h0M889.5 409h0M892.1 409.3h0M894.8 420.8h0M897.4 413.9h0M900.1 422.5h0M903.1 411.3h0M905.2 413.8h0M907.8 414.1h0M910.6 399.1h0M913.2 415.1h0M915.8 413.7h0M918.9 424.7h0M921.2 425.1h0M924.5 430.6h0M926.8 445.1h0M183.1 223.1h0M191.9 204.7h0M200.5 91h0M202.5 97h0M169.9 84h0" stroke="#f5821f" stroke-width="5.2" stroke-linecap="round" fill="none"/>
<path d="M127.4 134.5h0M127.4 138.2h0M128.6 129.3h0M129 132.3h0M129.4 126.9h0M130.4 136.3h0M130.5 125h0M130.9 122.4h0M131.7 139.4h0M132.5 131.4h0M133.5 135.4h0M133.4 139h0M134.7 156h0M135.2 152.3h0M135.7 145.1h0M136.2 147.1h0M136.9 133.9h0M137.1 145h0M138.2 134.6h0M138.5 130.2h0M139.7 124.7h0M139.7 136h0M140.9 123.6h0M141.2 121.3h0M142.1 129.7h0M142.5 107.3h0M142.9 119.2h0M143.4 126.6h0M144 106.3h0M144.6 123.7h0M145.3 129h0M146.1 138h0M146.8 136.7h0M147.1 135.9h0M147.9 129.2h0M148.7 129.8h0M148.9 121.5h0M149.8 120.3h0M150.4 109h0M150.6 130.3h0M151.6 123.5h0M151.9 151.6h0M152.9 130.3h0M153.6 132.2h0M153.7 128.7h0M154.9 127.1h0M155.7 124.1h0M156 120.1h0M156.5 114.7h0M157.1 107.5h0M157.4 109.4h0M158.5 115.6h0M159.3 102.9h0M159.7 106.7h0M160.6 118h0M160.6 118.2h0M161.8 113.1h0M162 110.8h0M162.5 107.1h0M163.6 98.6h0M163.7 99.3h0M164.6 87.4h0M165.1 85.8h0M165.5 81h0M166.6 76.2h0M166.8 76h0M167.9 72.8h0M168.1 75.9h0M169.2 79.8h0M169.7 84.8h0M170.4 89.6h0M170.4 93h0M171.2 99.7h0M171.7 101h0M172.2 109.3h0M172.9 110.4h0M174 117.3h0M174.2 116.4h0M175.1 119.3h0M175.7 145.5h0M176.4 147h0M176.6 133.5h0M177.6 139.5h0M178.1 139.9h0M179.1 124.7h0M179 133.7h0M179.6 125.5h0M180.2 129.7h0M181.3 111.9h0M181.5 130.7h0M182.6 126.6h0M182.7 131.1h0M183.8 130h0M184.6 135.4h0M185 142.1h0M185.2 141.4h0M186.1 145.8h0M186.4 145.7h0M187.5 134.7h0M187.9 128.4h0M188.9 142.6h0M189.6 133.5h0M190 134.5h0M190.4 115.7h0M191.4 173h0M191.6 158h0M192.4 165.5h0M193.1 180.5h0M193.5 188h0M194.4 133.1h0M195.1 120.2h0M195.7 123.7h0M195.8 121.8h0M196.9 110.4h0M197 111.3h0M197.9 101.4h0M198.4 96.4h0M199.1 88.5h0M200 80.3h0M200.5 79.6h0M200.9 79h0M201.4 84.2h0M202.4 84.8h0M202.5 85.8h0M203.7 97h0M203.8 97h0M204.8 113.9h0M205.3 114.4h0M205.8 115.3h0M206.4 121.8h0M207.1 123.6h0M207.8 130.3h0M208.4 141.2h0M209.2 147.7h0M209.6 138.2h0M210.2 138.5h0M210.9 135.7h0M211.1 140.4h0M212 136.3h0M212.5 144h0M213.5 127.6h0M214 147.5h0M214.4 127.2h0M214.7 137.6h0M215.9 120.3h0M216.4 124.2h0M216.8 134.2h0M217.4 136.5h0M218 141.8h0M218.4 152.8h0M219.2 150.5h0M219.9 159.3h0M220.4 159.8h0M220.9 152.9h0M221.8 135.5h0M222 125.3h0M223.4 134.5h0M223.4 134.8h0M224.5 146.4h0M224.6 134.8h0M225.2 154.3h0M226.1 146.6h0M226.9 140.7h0M227.3 144h0M227.9 155h0M228.5 160.9h0M228.9 148.2h0M229.7 149.6h0M230.6 158.8h0M231.3 140.1h0M231.6 153.4h0M232.4 144h0M232.7 133.5h0M233.8 147h0M233.8 169.9h0M234.8 161.7h0M235.6 160.5h0M236 161.8h0M236.4 160.7h0M237.2 151.1h0M237.7 142.6h0M238.7 149.8h0M239.2 148.6h0M240 138.4h0M240.6 151.2h0M241.1 128.9h0M241.5 140.8h0M242.5 149.2h0M242.6 137h0M243.1 119.5h0M244.4 146.6h0M244.3 134.7h0M245.4 147.6h0M245.9 138.6h0M246.7 134.9h0M246.9 134.1h0M247.5 128.7h0M248.6 142h0M248.6 141.9h0M249.3 135.1h0M250 146.6h0M251.1 132h0M251 139.7h0M252.1 141.8h0M252.2 138.3h0M253.2 155.5h0M253.8 148.2h0M254.8 142.9h0M254.9 140.7h0M255.9 135.4h0M256.4 147.2h0M257.1 142.5h0M257.4 138.6h0M258 159.4h0M258.7 144.9h0M259.2 167.2h0M259.7 182.4h0M260.7 171.1h0M261.2 162.8h0M261.9 144.8h0M262.2 162.8h0M263.2 146.8h0M263.3 147.5h0M264.2 146.9h0M264.6 136.9h0M265.9 148.9h0M265.9 158h0M266.8 153.7h0M267.3 156h0M267.6 148.8h0M268.7 153.5h0M269.5 152.1h0M269.5 146.4h0M270.3 162.1h0M271.3 170.5h0M271.3 165.8h0M272.6 163.6h0M272.8 170h0M273.5 163.2h0M274 149.4h0M275.1 161.7h0M275.3 153h0M275.8 148.7h0M276.9 154.2h0M277.2 155.7h0M278 152.7h0M278.7 138.2h0M279.4 152.9h0M280.1 151.7h0M280.4 158.6h0M281.3 152h0M281.6 148.5h0M282.5 148h0M283 150.4h0M283.1 154.7h0M283.9 144h0M284.6 147.4h0M285.1 153.9h0M285.7 155.5h0M286.8 159.2h0M287 155.5h0M288 149.8h0M288.3 151.8h0M289.3 150.6h0M289.7 156.7h0M290.4 162.7h0M290.8 157h0M291.1 156h0M291.6 145.7h0M292.4 139.5h0M293.5 145.6h0M294 161.3h0M294.7 162h0M294.7 163.5h0M295.8 172.6h0M296.6 147.1h0M296.7 156.2h0M297.4 156.3h0M298 150.3h0M298.4 142.6h0M299.1 159.3h0M299.7 159.6h0M300.6 134.1h0M300.9 144.4h0M301.6 147.2h0M302.2 153.5h0M302.9 154.9h0M303.4 172.5h0M304.5 156.3h0M304.5 153.8h0M305.5 155.1h0M305.9 164.6h0M306.4 160.5h0M307.6 155.6h0M307.9 164.3h0M308.5 144.8h0M309 149.7h0M309.9 158.8h0M310.4 157.8h0M311.2 144.1h0M312.1 153.4h0M312.5 147.7h0M312.9 164h0M313.5 153.6h0M314 158.3h0M314.9 164.4h0M315.1 162.7h0M316 150.7h0M316.9 152.1h0M317.2 163.2h0M317.6 151.8h0M318.7 155.5h0M319.2 163.6h0M319.5 166.4h0M320.3 170.4h0M321 172.1h0M321.6 186.1h0M322.6 165.7h0M323.1 154.5h0M323.6 138.8h0M324.2 147.4h0M324.8 173.4h0M325.1 156h0M325.5 162.8h0M326.5 154.8h0M326.7 143.1h0M327.4 145.7h0M328.4 143.8h0M329.1 149.4h0M329.6 170.4h0M330.3 178.2h0M330.7 161.6h0M331.2 164.1h0M331.8 167.8h0M332.5 166.7h0M333.4 169h0M334.1 158.2h0M334.6 140.8h0M334.9 154.9h0M335.5 147.9h0M336.6 172.6h0M337.1 167.3h0M337.7 161.7h0M338.4 177.3h0M338.7 171.3h0M339.7 175.8h0M340.1 183.4h0M340.9 168.6h0M341.3 176.2h0M341.7 181.8h0M342.6 162.4h0M343.5 162.3h0M343.6 156.5h0M344.6 144.9h0M344.7 166.6h0M345.8 158.9h0M346.2 147.6h0M347.2 154.7h0M347.1 158.7h0M347.9 160.2h0M348.5 157.3h0M349.7 162.9h0M349.8 165h0M350.1 163.3h0M350.8 169.9h0M351.6 160.4h0M352.4 169.1h0M352.8 158h0M353.2 175.1h0M353.8 168.5h0M355 168h0M355.2 159.1h0M355.9 171.1h0M357 173.9h0M357.5 169.8h0M358.2 167h0M358.6 158.9h0M359.1 148.6h0M360 168.9h0M360.6 149h0M361.3 151.6h0M361.6 159.8h0M362.2 169.2h0M362.7 169.9h0M363.1 170.6h0M363.7 160.1h0M364.8 158h0M364.9 166.4h0M365.8 163.6h0M366.5 164.5h0M367 169.2h0M367.9 167.6h0M368.5 157h0M368.8 152h0M369.3 162.6h0M370 138.8h0M370.7 153.7h0M371.4 151.3h0M371.7 157.7h0M372.6 145h0M372.9 150.1h0M373.9 163.1h0M374.7 163.6h0M374.8 162.7h0M375.9 168.6h0M376.2 158.8h0M377.3 159.3h0M377.8 155.2h0M378.2 166.3h0M378.6 156.9h0M379.8 145.2h0M380.1 162.9h0M380.9 167.7h0M381.6 140.4h0M382.1 163.1h0M382.4 157.4h0M383.3 174.1h0M383.5 176.4h0M384.1 176h0M385.1 173.1h0M385.8 176h0M386.2 180.5h0M386.4 159.6h0M387.6 156.2h0M388.2 159.2h0M388.5 167.1h0M389.7 173.6h0M390.3 182.4h0M390.4 179.6h0M390.9 188.1h0M392.1 180.2h0M392.1 181.3h0M392.7 158.5h0M393.4 164.3h0M394.4 177.1h0M394.9 187h0M395.4 187.5h0M396.1 206.2h0M396.6 184.9h0M397.4 192.5h0M398 202.9h0M398.7 171.7h0M398.8 188.4h0M399.5 188.7h0M400.3 196.9h0M401.1 200h0M401.6 187.7h0M402.4 186.3h0M403.2 182.6h0M403.4 198.9h0M404 183.7h0M404.6 182.4h0M405 189h0M405.6 192.1h0M406.6 186.4h0M407.2 190.5h0M407.8 185.2h0M408 177.6h0M409 189.9h0M409.4 189.9h0M409.9 201.8h0M410.5 214.2h0M411.6 223.6h0M412.2 205.3h0M412.6 211.8h0M413.1 204.4h0M413.6 207.7h0M414.3 200.6h0M415.4 178h0M416.1 185.1h0M416 182.9h0M417.3 175.2h0M417.3 181.1h0M418.5 179h0M419.1 197.7h0M419.2 180.6h0M420.1 208.7h0M420.5 211.8h0M421.5 203.7h0M421.7 208.8h0M422.3 211.8h0M423.5 206.3h0M424 200.3h0M424.7 210.7h0M425.2 191.7h0M425.5 203h0M425.9 200.6h0M427.2 211.9h0M427.8 208h0M428.2 188.9h0M429.1 204.1h0M429.4 192.9h0M430.3 194.9h0M430.9 201.8h0M431.2 206.9h0M431.4 201.9h0M432.7 203.6h0M432.8 217.6h0M433.5 202h0M434.3 214.2h0M434.6 227.6h0M435.4 222.4h0M436.4 225.1h0M436.7 210.3h0M437.1 187.5h0M438.1 195.5h0M438.4 202.2h0M438.8 189.9h0M440.1 193.6h0M440.2 206h0M441.1 220.4h0M441.5 208.8h0M442.2 214.2h0M443.2 209.5h0M443.8 211.4h0M443.9 209.7h0M444.8 213.2h0M445.2 210h0M445.9 226.1h0M446.7 230.4h0M447.2 222.2h0M447.8 208.8h0M448.5 213.3h0M449 204.6h0M449.8 207.7h0M450.4 205.3h0M450.8 206h0M451.5 208h0M452.5 215.4h0M452.7 212.9h0M453.7 208.5h0M453.8 208.3h0M454.7 202.6h0M455 206h0M455.6 213h0M456 216.6h0M456.8 225.7h0M457.5 225h0M458.3 234.8h0M459.1 235.6h0M459.7 224.2h0M460.3 239.8h0M461.1 231.1h0M461.3 241.8h0M461.9 234h0M462.2 247.3h0M463.1 240.5h0M463.9 240.3h0M464.5 226.7h0M464.7 228.6h0M465.9 231h0M466.6 228.9h0M467.2 239.7h0M467.7 221.1h0M468.4 212.3h0M468.5 216.1h0M469 228.8h0M469.9 240h0M470.6 225.9h0M471 228.8h0M471.9 237.7h0M472.3 228.6h0M472.7 229h0M473.5 228.7h0M474.3 232.2h0M475.1 214.5h0M475.7 219h0M476.4 231.9h0M477.1 226.4h0M477 237.4h0M477.6 254.8h0M478.8 242.1h0M479.2 238.7h0M480 232.1h0M480.5 209.5h0M481.3 227.6h0M482 236.8h0M482.5 228.2h0M482.6 239.2h0M483.3 233.2h0M484.2 232.8h0M484.5 227.8h0M485 228.2h0M485.7 243.8h0M486.9 229h0M487.1 250.9h0M487.8 240.4h0M488.3 237.2h0M488.7 237.3h0M489.9 231h0M490.6 227h0M491.2 220.5h0M491.9 207.7h0M492.2 225.9h0M492.6 222.2h0M493.6 222.2h0M494.1 215.2h0M494.7 225.8h0M495.1 201.1h0M495.8 224.6h0M496.4 221.1h0M497.1 234.3h0M497.8 232.9h0M498.4 235h0M499.2 234.9h0M499.4 225.3h0M500.1 226.9h0M500.8 236h0M501.2 242.5h0M502.2 254.3h0M502.3 244.3h0M503.6 225.1h0M503.9 225.3h0M504.4 232h0M504.8 235.2h0M506 244.5h0M505.9 250h0M507 240.6h0M507.2 234.9h0M507.7 237.5h0M508.7 235.4h0M509.6 246.8h0M510.3 238.1h0M510.7 230.7h0M511.2 239.7h0M511.9 235.6h0M512.6 234.9h0M513.4 226.1h0M513.7 246.1h0M514.1 253.7h0M514.5 226.4h0M515.6 227.9h0M516.5 222.9h0M517.1 232.9h0M517.5 248.2h0M517.8 248.3h0M518.3 247.1h0M519.2 253.3h0M519.6 246.7h0M520.2 251.2h0M520.8 224.2h0M521.4 230.2h0M522.3 231.6h0M522.9 225.4h0M523.9 226.2h0M524.2 224.2h0M524.7 219.4h0M525.3 233.3h0M525.9 230.8h0M526.5 236.5h0M527.3 225.3h0M528.1 235.8h0M528.7 233.8h0M528.9 238.3h0M529.6 234.4h0M530.3 237.5h0M530.9 241h0M531.2 251.9h0M531.9 236.7h0M532.6 231.1h0M533.3 243h0M533.8 252.9h0M534.5 238.1h0M535.1 243.5h0M535.8 234.1h0M536.7 237.1h0M536.8 240.7h0M537.4 228.3h0M538.1 242.1h0M538.9 247.6h0M539.3 238h0M540.5 237.1h0M540.7 233.6h0M541.2 245h0M541.6 236.7h0M542.7 230.5h0M543.1 237.5h0M543.4 246.5h0M544.6 243.6h0M545.4 242.3h0M545.7 240.3h0M546.5 236.7h0M547.2 248.3h0M547.4 240.9h0M548.5 262.4h0M548.5 253.8h0M549.3 255.3h0M550 247.2h0M550.2 254.8h0M551 244.8h0M551.7 244.4h0M552.5 231.3h0M552.9 235.6h0M553.4 211.5h0M554.6 230.4h0M555.2 241.7h0M555.9 242.4h0M556.2 238.7h0M556.6 247.5h0M557.7 243.9h0M558 241.9h0M558.8 249.1h0M559.4 256.4h0M560 238.3h0M560.6 252.4h0M560.8 243.1h0M561.7 239.5h0M562.4 244.8h0M563 249.5h0M563.2 251.2h0M564.3 236.9h0M564.8 260.4h0M565.1 246.5h0M566.4 253.8h0M566.5 250.8h0M567.6 268h0M567.7 267.1h0M568.6 259h0M569.5 264.1h0M569.7 248.4h0M570.5 247.2h0M570.6 256.8h0M571.6 247.7h0M572.5 260h0M572.5 255.1h0M573.6 268.5h0M574.1 249.3h0M574.9 262h0M575.3 262.5h0M575.7 269.6h0M576.8 262.3h0M576.8 254.9h0M577.9 257.8h0M578.5 247.7h0M578.6 252.5h0M579.6 264.1h0M580 252.7h0M580.4 263.9h0M581.5 253h0M581.9 251.3h0M582.4 256.8h0M583.5 256.3h0M584 267.3h0M584.9 260.8h0M585.5 256.1h0M585.7 261.5h0M586.7 246.2h0M586.8 257.1h0M587.5 264h0M588 273.7h0M589.1 264.8h0M589.1 286h0M590 269.6h0M590.5 265.8h0M590.9 257.9h0M591.7 234.3h0M592.7 252.7h0M593.5 263.4h0M593.7 264.7h0M594.1 261.6h0M594.5 255h0M595.7 255.5h0M596.5 253.4h0M596.7 269.4h0M597.7 269.6h0M598.1 253.4h0M598.9 270.4h0M598.9 251.8h0M599.7 253.6h0M600.2 241h0M600.8 263.1h0M601.5 239.4h0M602 259.9h0M603 260h0M603.7 263.7h0M604.1 248.3h0M604.6 249.9h0M605.6 278.6h0M606.3 246.2h0M606.8 263.8h0M607.3 268.9h0M607.8 267.3h0M608.6 266.4h0M608.9 260.3h0M610 275h0M610.3 266.8h0M610.8 256.9h0M611.7 265.5h0M612 270.4h0M612.9 270h0M613.6 256h0M613.8 269.9h0M614.9 262.8h0M615 277.7h0M615.9 278h0M616.4 280h0M616.7 278.9h0M618.1 286.7h0M618.2 280.6h0M619 283.8h0M619.8 283.4h0M620.5 284.3h0M620.7 276.9h0M621.4 268.6h0M622.4 294.2h0M622.8 282.6h0M623.5 289.6h0M624.2 284h0M624.8 280.3h0M624.9 262.7h0M625.4 271h0M626.2 282.4h0M626.8 264.1h0M627.2 274.5h0M628.5 263.9h0M629.1 263.3h0M629.4 271.5h0M630.3 275.9h0M630.6 257.4h0M631.1 255.6h0M632.3 257.7h0M632.6 256.5h0M633.2 263.9h0M633.6 264.6h0M634.3 278.4h0M635.3 280.2h0M635.7 268.6h0M636.5 264h0M636.8 283.1h0M637.8 269.9h0M638.2 288.6h0M638.8 267.5h0M639.5 272.4h0M639.6 274.4h0M640.7 271.8h0M641.1 263.7h0M642 280h0M642.3 285.3h0M643.3 274.5h0M643.6 261.8h0M644.3 279h0M644.6 281.8h0M645.3 283.3h0M646.2 282h0M646.9 271.1h0M646.9 279.4h0M647.5 270h0M648.4 266.4h0M649.3 278.3h0M649.4 273h0M650.2 274.6h0M651.2 274.7h0M651.7 270.4h0M652.2 283.4h0M652.5 284.6h0M653.8 279.1h0M654.4 277.3h0M655 290.3h0M655 277.9h0M655.9 278.4h0M656.6 287.9h0M657.5 284.1h0M658.1 300.8h0M658.7 294.5h0M659.4 297.8h0M659.7 295.7h0M659.9 294.8h0M661 290.9h0M661 282.2h0M662.2 293.7h0M662.9 285.7h0M663.4 290h0M663.9 299.1h0M664.6 304.5h0M664.8 280.2h0M666.1 287.6h0M666.3 287h0M666.7 291.7h0M667.8 276.8h0M668.6 275.3h0M668.6 277.4h0M669.2 285.4h0M669.9 280.5h0M670.7 287.8h0M670.9 272.1h0M672 281.8h0M672.5 279.4h0M673.3 280.4h0M674.1 295.5h0M674.6 311.2h0M675 318.1h0M675.2 309.5h0M675.8 303.4h0M676.8 315.1h0M677.2 310.6h0M678.4 298.6h0M678.5 306.5h0M679.5 296.7h0M679.9 282h0M680.7 286.9h0M681.2 301.2h0M681.9 307.6h0M682.4 314.2h0M683.2 313.2h0M683.6 297.6h0M683.9 298.5h0M684.6 303h0M685.2 301.9h0M685.8 292.9h0M686.4 291.6h0M687.1 273.1h0M688.1 299.4h0M688.6 301.8h0M688.9 312.7h0M689.5 297.6h0M690.3 293.5h0M690.8 287.8h0M691.4 285.7h0M692 304.7h0M693.1 308.3h0M693.6 314.8h0M693.8 292.7h0M694.7 311.9h0M695.3 301.6h0M696 298.4h0M696.6 282h0M696.8 295.9h0M697.7 290.9h0M698.1 284.7h0M699.2 285.1h0M699.3 300.9h0M700.4 294.8h0M700.9 307.7h0M701.2 316.5h0M702.3 306.2h0M702.9 302.7h0M703.1 309.7h0M703.9 301.9h0M704.4 312.4h0M705.3 305.9h0M705.6 303.8h0M706 314h0M706.9 304.1h0M707.7 314.5h0M707.9 320.2h0M709.1 324.2h0M709.6 313.4h0M709.7 318.4h0M710.7 328h0M711.3 306.1h0M711.9 308.9h0M712.5 307.9h0M713.1 291.2h0M713.6 317.3h0M714.3 321.3h0M715.1 322.3h0M715.4 325.1h0M716.3 308.2h0M716.5 308.2h0M717.4 312.4h0M717.8 311.4h0M718.9 313.4h0M719.7 307h0M719.8 312.5h0M720.9 304.6h0M721.1 318.3h0M722.1 316.1h0M722.4 311.3h0M722.9 316.4h0M723.6 315h0M724.4 321.4h0M725.2 320.8h0M725.6 316.9h0M726.1 300.3h0M726.3 318.5h0M727.7 304.2h0M727.7 318.1h0M728.2 306.6h0M728.9 313.6h0M730 316.4h0M730.6 333.2h0M731.2 331.9h0M731.2 334.8h0M731.9 346.8h0M733.2 342.4h0M733.6 330.4h0M733.7 328.7h0M734.6 312.7h0M734.9 316.4h0M735.7 326h0M736.3 320.3h0M737.3 339.7h0M737.6 335h0M738.1 333.8h0M739.2 323.4h0M739.9 329.3h0M739.9 319.7h0M741 327.1h0M741.4 327.4h0M742.1 314.7h0M743 318.7h0M743.7 314.5h0M744.2 323.5h0M744.5 310.1h0M745.5 324.8h0M746.1 331.4h0M746.3 300.4h0M746.9 301.9h0M747.6 314.6h0M748.5 317.2h0M748.6 315h0M749.3 324h0M749.8 327.9h0M750.7 320.1h0M751.1 320.7h0M751.6 319.8h0M752.5 314.9h0M752.9 328.7h0M753.9 326.1h0M754.2 335.9h0M755.4 337.1h0M755.2 340.7h0M756 334.8h0M756.9 319.3h0M757.5 320.1h0M758 331.1h0M759 336.5h0M759.7 336.9h0M759.9 351.6h0M760.4 345.7h0M761.5 339h0M762 331.4h0M762.1 322.7h0M763.4 345.5h0M763.6 340.9h0M763.9 334.2h0M764.7 336h0M765.8 347.4h0M766 343.1h0M766.6 348.4h0M767 333.3h0M768.1 330h0M768.4 335.2h0M769.4 330.6h0M769.4 329h0M770.4 345.6h0M771 343.1h0M771.4 344.5h0M772.6 369.7h0M772.9 351.1h0M773.5 344.1h0M774.2 349.2h0M774.6 337.1h0M775.5 333h0M776.1 347.5h0M776.7 353.1h0M776.9 337.1h0M777.7 354.3h0M778.4 352h0M779.4 349.9h0M779.9 342.4h0M780.2 361.5h0M780.8 346.9h0M781.5 346.3h0M782 352.4h0M782.6 356h0M783.5 344.2h0M784.2 352.7h0M784.6 335.2h0M785 338.2h0M785.7 355.1h0M786.6 356.6h0M787.1 364.4h0M787.8 352.3h0M788.3 353h0M789 349h0M789.8 363.6h0M789.9 372.5h0M790.4 368.6h0M791 352.8h0M792.3 350.6h0M792.5 364h0M793.5 352.2h0M793.8 364.3h0M794 354.2h0M795.1 348.7h0M795.8 344.8h0M796.2 356.6h0M796.8 377h0M797.6 369.6h0M798.3 356.9h0M799 367.1h0M799.4 371.7h0M800.3 367.1h0M800.4 362.2h0M800.9 359.9h0M801.9 354.8h0M802.5 363.6h0M803.4 343.1h0M803.5 355.2h0M803.9 347.6h0M805 355.7h0M805.8 343h0M805.9 357.7h0M807 366.1h0M807.5 347.6h0M807.8 360.7h0M808.9 377.6h0M809.4 365.3h0M809.7 343.3h0M810.8 355.6h0M810.8 344.5h0M811.9 349.1h0M812.1 345.8h0M812.9 351.4h0M813.8 340.2h0M813.8 353.1h0M814.9 353.2h0M815.7 366.6h0M816.1 365h0M816.9 377.6h0M817.5 374.4h0M818.2 377.5h0M818.8 367.2h0M819.4 363.5h0M819.7 366.4h0M820.3 368.6h0M821.3 353.1h0M821.3 366.3h0M822.1 359.5h0M822.6 384.3h0M823.2 369.3h0M824.3 373.7h0M824.3 365.3h0M825.4 372.3h0M826.1 371.9h0M826.8 367.5h0M826.7 366.3h0M827.8 377h0M827.9 355.1h0M828.7 380.4h0M829.4 369.4h0M830.4 364.6h0M830.6 371.1h0M831.2 376.2h0M832.3 382.3h0M832.3 375h0M833 389.3h0M833.4 360.6h0M834.2 373.7h0M834.7 369.9h0M835.4 364.9h0M836.5 368.3h0M836.9 368.1h0M837.5 370.5h0M838.2 380.9h0M838.5 368.9h0M839.2 381.4h0M840.3 384.4h0M840.2 395h0M841.5 363.5h0M842.2 371.6h0M842.3 369.1h0M843.4 373.9h0M843.8 388.4h0M844.2 383.2h0M844.7 391.5h0M845.8 379.3h0M846.1 384.8h0M847.1 381.6h0M847.1 391.5h0M848 378.1h0M848.5 384.6h0M849.6 381h0M849.5 377.4h0M850.7 386.4h0M851 371.1h0M851.7 388.9h0M852.3 399.3h0M853 384.7h0M853.7 381.2h0M853.9 387.7h0M855.1 382.8h0M855.2 397.1h0M855.6 399.4h0M856.8 380.9h0M857.5 370.1h0M858.1 380.9h0M858.6 386.8h0M859 393.7h0M859.9 401.8h0M860.6 382h0M861 391.2h0M861.6 387.5h0M862.1 395.7h0M863.1 393.7h0M863.3 371.5h0M864.3 379.6h0M864.8 400h0M865.4 380.9h0M866.1 402.7h0M866.5 386.3h0M867.3 392.6h0M867.3 385.3h0M868.6 394.4h0M868.9 387.2h0M869.7 394.2h0M870.5 376.5h0M870.8 384.8h0M871.8 383.9h0M871.7 393.5h0M872.6 400.5h0M873.2 403.1h0M874.1 387.9h0M874.4 401.5h0M875.1 408.4h0M875.4 401.8h0M876.2 405.9h0M876.9 402.3h0M877.8 387.8h0M877.8 404.2h0M878.5 401.2h0M879.6 390.2h0M879.8 397.4h0M881 416.4h0M881 414.9h0M882.2 424h0M882.8 418.4h0M883.1 421.9h0M883.6 421.5h0M884.2 406.6h0M884.7 399h0M885.4 414.4h0M885.9 408.5h0M886.9 402.4h0M887.1 403.4h0M888.4 397.3h0M888.3 397.5h0M889.4 416.2h0M890.1 414.9h0M890.2 405.1h0M891.3 400h0M891.3 394.8h0M892.5 405.9h0M892.9 389h0M893.2 389.7h0M894.2 394.4h0M894.9 385.8h0M895.5 402.7h0M896.2 392.7h0M896.6 391.8h0M897 410.2h0M897.9 410.8h0M898.9 405.3h0M899.4 401.9h0M900.1 396.1h0M900 398.6h0M900.7 409.3h0M901.3 401.2h0M902.1 408.3h0M902.5 409.9h0M903.1 402h0M904 403.6h0M904.5 404.8h0M905 419h0M905.7 412.3h0M906.6 406.1h0M906.8 402.8h0M907.8 392.4h0M908.5 411.2h0M909.2 415.7h0M909.4 401h0M910 411.5h0M910.8 411.1h0M911.8 417.9h0M912.3 388.4h0M912.7 419h0M913.4 413.9h0M914 415.9h0M914.1 401.5h0M915.4 398.6h0M915.6 403.6h0M916.5 404.9h0M916.7 423.6h0M917.4 437.8h0M918.1 424.3h0M919.2 434.5h0M919.8 426.8h0M919.7 419.2h0M920.9 408.1h0M920.9 424.3h0M922.1 405.9h0M922.5 415.6h0M923.5 417.5h0M923.4 416.5h0M924.1 423.8h0M924.7 427.6h0M925.3 425.8h0M926.3 425.6h0M926.5 421.4h0M194 191.4h0M193 214.6h0M192.2 222.5h0M193.5 203h0" stroke="#2ca02c" stroke-width="5.2" stroke-linecap="round" fill="none"/>
<path d="M126.7 151.7h0M127.2 154.1h0M128.4 143.9h0M128.9 131.6h0M129.1 131.1h0M130.1 146.5h0M131 140.9h0M131.1 152.8h0M131.7 134h0M132.2 155.9h0M133.3 143.4h0M133.7 128.4h0M134.4 133.3h0M135.2 135.6h0M136 139.5h0M135.9 138.7h0M137.1 135.3h0M137.7 143.1h0M138.1 124.6h0M138.9 134.8h0M139.1 142.8h0M139.8 133.9h0M140.2 129.2h0M141 137.2h0M142.1 140.7h0M142.4 125.4h0M143.4 123.5h0M143.7 126.2h0M144.1 129.2h0M145 125.2h0M145.3 131.1h0M146.5 119h0M146.3 117.2h0M147.1 124.9h0M147.9 136h0M148.2 139.6h0M149.5 143.4h0M150.1 127.7h0M150.4 127.6h0M151 126.7h0M151.5 133h0M152.4 114.4h0M153.1 120.5h0M153.8 123.7h0M153.8 132h0M154.9 127.7h0M155.4 132.1h0M155.6 126.4h0M156.3 139.4h0M157.4 139.8h0M158 136.7h0M158.1 130.4h0M158.8 128.3h0M159.4 127.5h0M160.2 122.2h0M161.1 124.7h0M161.2 120.3h0M162 99.3h0M163.1 116.6h0M162.9 105.6h0M163.9 108.6h0M164.5 117.2h0M164.8 121.3h0M165.7 107.8h0M166.7 115.5h0M167.3 117.5h0M167.8 127.6h0M167.9 126.6h0M168.6 129.2h0M169.6 134.3h0M169.9 135.5h0M170.4 145.4h0M171 152.9h0M171.5 141.9h0M172.6 156h0M173.5 161.6h0M173.9 138.3h0M174.4 142.9h0M175.4 133.1h0M175.5 149.9h0M176.4 139.8h0M176.7 144.7h0M177.7 139.9h0M177.8 152.4h0M179 136.7h0M179.4 140.4h0M179.6 133h0M180.8 124.7h0M181.3 131h0M181.6 132.2h0M182.4 141.4h0M183 141.5h0M183.4 140.3h0M184.6 151.5h0M184.7 129.2h0M185.8 140.7h0M186.5 128.4h0M186.4 130.4h0M187.3 130.1h0M187.9 134.3h0M188.6 125.7h0M189.5 121.6h0M190 124.2h0M190.2 123.2h0M190.9 123h0M192 127.9h0M192.5 137.5h0M192.5 128.3h0M193.4 139.6h0M193.8 139.2h0M194.4 134.5h0M195 133.3h0M196.2 124.4h0M196.6 115.4h0M197.1 108.1h0M197.9 94.3h0M198.3 99.5h0M199.4 94.8h0M199.4 91.3h0M199.9 128h0M200.6 130.8h0M201.7 141.4h0M201.9 131.5h0M202.7 134.8h0M203.7 137.9h0M204.3 146.9h0M204.8 130.9h0M205.4 132.4h0M205.8 134.1h0M206.8 133.3h0M207.4 138.2h0M207.4 134.9h0M207.9 140.6h0M209.2 130.4h0M209.8 129.2h0M210.3 128.7h0M210.3 142.9h0M211.1 140.6h0M212.1 139.6h0M212.4 148.5h0M213.2 161.3h0M214.1 166.1h0M214.2 155h0M215.3 150.7h0M215.7 152.2h0M215.9 160.2h0M216.6 147.2h0M217.2 152.2h0M218.4 151.2h0M218.4 154.4h0M219.2 149.7h0M220.2 145.9h0M220.3 148.1h0M221.3 152.4h0M221.5 149.6h0M222 152.4h0M222.8 155h0M223.5 149.9h0M224.1 134.5h0M224.7 133.4h0M225.5 141.3h0M226.1 135.8h0M227.1 131.5h0M227.2 130.8h0M227.9 125.4h0M228.2 127.2h0M228.9 145.3h0M229.7 138.5h0M230.4 128h0M230.9 146.3h0M231.7 144.7h0M232.4 136.5h0M232.8 137.8h0M233.5 132.5h0M234.3 131.3h0M234.7 130.7h0M235.1 145.2h0M235.6 130.6h0M236.2 132.4h0M237.5 134.8h0M238.1 162.8h0M238.6 142.3h0M239.3 138.4h0M239.5 135.5h0M240.3 149.2h0M240.8 149.1h0M241.7 153.7h0M242 152h0M242.7 154.6h0M243.3 155.6h0M243.7 146.2h0M244.8 135.5h0M245.1 143h0M245.9 135.5h0M246.3 147.1h0M246.9 145.9h0M247.7 145h0M248.4 144h0M248.5 152h0M249.2 144.6h0M250.5 149.7h0M251 150.5h0M251.7 161.1h0M252.2 154.3h0M252.4 152h0M253.3 149.5h0M253.6 150h0M254.4 165.7h0M254.8 166.4h0M256 152.5h0M256.5 174.1h0M256.9 157.5h0M257.1 163.9h0M258.3 160h0M258.4 142.1h0M259.6 152.1h0M260.1 148.5h0M260.4 147.6h0M261.1 138.8h0M261.6 148.9h0M262.4 137.8h0M263.5 142.8h0M264 142.9h0M264.1 147h0M264.6 151.6h0M265.9 161.5h0M265.8 160.3h0M266.7 151.9h0M267.5 166.2h0M268 170.8h0M268.7 170h0M269.3 177.6h0M270.2 166h0M270.3 155.8h0M270.9 174.3h0M272.1 154.7h0M272 154.2h0M272.8 151h0M273.2 156.9h0M274.1 151.9h0M274.5 153.6h0M275.3 160.3h0M276.4 155.8h0M276.7 155.6h0M277 148.7h0M277.9 147.6h0M278.3 154.8h0M278.9 153.8h0M279.8 145.7h0M280.6 152.4h0M281 154.9h0M281.2 154h0M281.9 151.2h0M282.4 148.6h0M283.5 144.1h0M283.9 158.6h0M284.5 159.2h0M284.9 156.2h0M286.1 164.2h0M286.1 169.7h0M287.1 163.7h0M287.8 158.3h0M288.7 161.3h0M289.1 160.1h0M289.2 162.7h0M290.2 163.4h0M290.5 155.1h0M291.3 152.2h0M291.8 160.1h0M292.2 145.4h0M292.9 158.9h0M293.5 150.6h0M294.8 156.7h0M295.4 156.3h0M295.4 151.8h0M296 165.7h0M296.9 169h0M297.8 161.6h0M298.5 164.7h0M298.7 162.1h0M299.7 161.6h0M299.8 169.4h0M301 159.7h0M301.6 160.9h0M301.7 164.4h0M302.6 148.5h0M303.4 154.1h0M303.6 149h0M304.1 169.6h0M304.9 149.3h0M305.8 148.6h0M306.1 152.9h0M306.4 156.1h0M307.4 156.1h0M307.8 157h0M308.6 154.5h0M309.2 167.6h0M309.8 164.1h0M310.1 159.8h0M311.1 153.5h0M311.4 160.4h0M312.1 156.8h0M312.9 159.9h0M313.8 165.3h0M314 171.9h0M315.1 177.7h0M315.4 181.2h0M315.9 165.2h0M316.5 170.5h0M317.4 168h0M317.9 152h0M318.6 151h0M319.4 148.7h0M319.6 176.7h0M319.9 176.1h0M320.9 173.4h0M321.5 171.1h0M322.2 155.7h0M322.5 159.1h0M323.1 152.6h0M323.8 150.1h0M324.7 168.7h0M325.3 158h0M325.6 164.9h0M326.8 165h0M327.5 157.1h0M327.6 162.1h0M328.6 165.2h0M328.9 169.9h0M329.5 176h0M330 184.3h0M330.5 172.5h0M331 171.6h0M331.9 171h0M332.6 185.2h0M333.1 186.7h0M333.6 180.4h0M334.8 163.5h0M335.1 167.1h0M335.9 169.1h0M336.3 167.5h0M337.3 173.8h0M337.9 172.9h0M338.6 165.5h0M338.4 171.1h0M339.7 167.5h0M339.8 164.3h0M340.3 160.4h0M341.5 147.6h0M341.8 161h0M342.3 160.4h0M342.9 152.3h0M344.1 150.5h0M344.7 154.7h0M345.3 159h0M345.7 151.6h0M346.2 152.8h0M347.2 168.4h0M347.8 175.2h0M347.8 160.8h0M348.5 178.6h0M349 155.5h0M350.2 152.5h0M350.6 136.6h0M350.7 139.9h0M351.7 144.4h0M352.3 151h0M353.3 147.8h0M353.5 153.7h0M354.6 162.3h0M355.1 165.3h0M355.1 165.9h0M355.7 164.5h0M356.3 173.2h0M357.6 165.7h0M357.8 166.8h0M358.7 162.7h0M358.8 167.5h0M359.8 158.3h0M360.3 163.9h0M361.3 181.1h0M361.8 169h0M362 171.3h0M363.2 170.9h0M363.5 168.5h0M364.1 182.7h0M364.7 184.4h0M365.1 166.2h0M366 173.6h0M366.7 174.9h0M366.9 163.9h0M367.4 152.7h0M368.7 156.5h0M369.2 156.9h0M369.3 161.5h0M370.6 163.2h0M370.9 162h0M371.2 167.2h0M372.3 160.7h0M372.7 164.3h0M373.7 161.3h0M374.3 160.7h0M374.9 163h0M375.1 160.3h0M375.8 150.6h0M376.2 154.7h0M376.9 169.7h0M377.6 160.5h0M378 162h0M378.4 167.1h0M379.6 170.2h0M380.2 169.1h0M380.3 172.3h0M381.5 182.6h0M381.7 167.9h0M382.3 168.7h0M383.4 175.8h0M383.7 167h0M384.7 162.7h0M385.3 179.1h0M385.4 176.6h0M386.5 162.7h0M387.1 173.4h0M387.3 179.1h0M388.1 178.5h0M388.9 168h0M389.6 170.9h0M390.2 169.4h0M390.3 155.3h0M391 159.6h0M392.2 163.1h0M392.7 168.1h0M393 169.3h0M393.8 174.5h0M394.4 182h0M395 173.2h0M395.7 193.9h0M396.3 183.9h0M396.8 193.4h0M397.4 175.9h0M398.1 180h0M398.5 195.1h0M399.5 182.2h0M399.4 179.5h0M400.1 175.5h0M401.1 182.4h0M401.6 183.4h0M402.1 183h0M402.6 182.8h0M403.7 185h0M404.4 173.5h0M405 187.9h0M405.4 187.9h0M405.6 187.6h0M406.3 201.8h0M407.5 204.9h0M407.5 195h0M408.4 174.7h0M409.3 194.8h0M409.6 185.4h0M410 211h0M410.6 201.3h0M411.7 197.2h0M411.8 187.2h0M413 201.9h0M412.9 201.2h0M413.6 206.5h0M414.7 197.1h0M415.3 196h0M416.1 190.5h0M416.6 171.1h0M417.3 162.7h0M417.8 185.3h0M418.5 178.1h0M419 178.5h0M419.4 183h0M420.5 183.3h0M420.8 185.3h0M421.4 201.5h0M421.9 184.4h0M422.8 178.7h0M423.3 185.5h0M424.2 185.3h0M424.6 184.1h0M425.3 200.5h0M425.6 201.7h0M426.6 193.8h0M426.6 200h0M427.8 205.4h0M428 194.2h0M428.5 206.9h0M429.6 190h0M429.6 197.5h0M430.7 186.7h0M431.1 192h0M432 191.1h0M432.4 203.2h0M432.9 210.2h0M433.6 204.8h0M434.2 208.1h0M434.7 204.8h0M435.7 207.5h0M435.7 190h0M436.3 192.5h0M437.6 197h0M437.9 208.7h0M438.2 205.9h0M438.9 216.1h0M439.8 203.5h0M440.8 208.8h0M440.8 196.9h0M441.6 200.5h0M442.3 200.3h0M443.1 194.5h0M443.1 196.7h0M443.9 200.9h0M444.5 213.7h0M445 214.7h0M446 209h0M446.9 215.6h0M447.1 210.6h0M447.6 194.3h0M448.1 209.2h0M449.2 215.5h0M449.8 227.7h0M450.1 208.9h0M451 214.4h0M451.8 218.1h0M451.9 212.6h0M452.9 213.3h0M453.3 212.3h0M454.3 207h0M454.5 221.5h0M455.3 222.6h0M455.8 208.4h0M456.8 221.8h0M457.4 232.6h0M457.6 226.3h0M458.2 225.4h0M458.5 211.7h0M459.8 229.9h0M460.1 234.7h0M460.4 244.3h0M461.4 241.1h0M461.7 264.4h0M462.9 254.5h0M463.1 256h0M464.1 243.4h0M464.5 239.5h0M465.1 218h0M465.5 229h0M466.5 237.6h0M467.2 238.6h0M467.6 234.4h0M467.9 216.6h0M468.9 223h0M469.1 239.1h0M470.3 230h0M470.9 233h0M471.1 225.4h0M472 232.7h0M472.5 234.5h0M472.6 244.8h0M473.8 236.3h0M474.5 242.8h0M474.8 243.3h0M475.5 240h0M476.4 244.5h0M476.3 246.2h0M477.6 238.5h0M477.9 254.5h0M478.3 242h0M478.8 239.7h0M480.2 241.6h0M480.5 240.2h0M481.1 244h0M481.8 231.4h0M482.5 226.6h0M482.6 228.9h0M483.5 225.6h0M484.1 233.6h0M484.4 238.6h0M485 212.6h0M485.7 219.7h0M486.4 234.4h0M487.1 228.4h0M488.1 225h0M488.6 226.1h0M488.7 233.3h0M489.6 233.9h0M490.6 235.9h0M491.1 237.3h0M491.3 242.9h0M492.4 232.6h0M493 235.9h0M493.2 238.8h0M493.9 231.8h0M494.9 222.6h0M495.4 207.6h0M495.4 204.3h0M496.8 216.3h0M496.9 215.6h0M497.4 223.8h0M498.2 215.6h0M498.7 220.8h0M499.8 224.4h0M500 235.1h0M500.4 217.6h0M501.2 232.7h0M501.9 234.4h0M502.6 235.3h0M502.9 230.7h0M504.2 227.7h0M504.3 215.7h0M505 228.2h0M505.5 244.4h0M506.3 242.5h0M507.3 244.8h0M507.8 230.5h0M508.4 237.3h0M508.9 231.7h0M509 238.5h0M510 234.9h0M510.5 232.9h0M510.9 230.2h0M511.5 231h0M512.8 219.8h0M512.9 231.7h0M513.8 220.7h0M514.4 215.1h0M515 217.4h0M515.8 225.1h0M516.1 228.3h0M516.4 235.6h0M517.8 240.1h0M517.7 233.3h0M518.7 233.3h0M519.4 227.6h0M519.5 239h0M520.6 225h0M520.9 226.8h0M521.3 236h0M522.7 227.2h0M523.2 229.8h0M523.5 215.2h0M524 221.9h0M524.7 222h0M525.4 236h0M525.9 233.5h0M526.3 237.7h0M527.4 228.9h0M528 233.2h0M528.7 233.5h0M528.8 230.8h0M529.9 229.3h0M529.9 214.3h0M530.9 219.5h0M531.8 220h0M531.8 229.5h0M532.7 232.5h0M533.5 239.7h0M534 229.7h0M534.4 238.7h0M535.6 236.2h0M535.9 243.6h0M536.5 242.1h0M537.3 239.9h0M537.5 226.4h0M538.3 226h0M538.8 242.7h0M539.4 233.5h0M540.4 229.1h0M541.1 247.9h0M541.5 240.1h0M542.3 244.5h0M542.5 248.5h0M543.1 235.9h0M543.9 239h0M544.5 238.6h0M545.3 231.7h0M545.9 242.7h0M546.1 237.7h0M546.9 249.8h0M547.8 253.4h0M548 244.7h0M548.6 239.6h0M549 238.6h0M550.1 254.9h0M550.8 252.4h0M550.9 245.3h0M552 242.8h0M552.4 244.7h0M553.2 242.6h0M553.3 237.1h0M554.5 234.5h0M555 247.8h0M555.6 240.1h0M556.2 243h0M556.4 247.5h0M557.6 232.6h0M558.2 238.3h0M558.6 244.4h0M559.3 247h0M559.6 242.8h0M560.3 241.8h0M561.3 240.5h0M561.6 240.9h0M562.1 247.1h0M563.3 255.9h0M563.5 248.4h0M563.8 246.8h0M564.8 240.5h0M565.3 246.1h0M565.7 244.1h0M566.3 247.9h0M567.5 240.9h0M567.6 233.2h0M568.2 232.7h0M569 255.5h0M569.9 263.5h0M570.5 261.7h0M570.6 253.4h0M571.3 255.7h0M572.4 252.8h0M572.8 243.6h0M573.4 247.4h0M574.4 248.4h0M574.3 269.2h0M575.6 256.5h0M575.5 260.8h0M576.3 245.7h0M577.2 253.2h0M578.1 244.9h0M578.6 253.4h0M578.8 256.9h0M579.8 260.3h0M580.2 257.6h0M580.6 254.6h0M581.7 248.6h0M582.3 253.1h0M582.5 249.3h0M583.1 245.2h0M583.9 262.6h0M584.4 258.4h0M584.7 266.2h0M585.6 261.4h0M586.2 279.9h0M586.6 265.2h0M587.4 264.6h0M588.4 266.9h0M588.7 265.5h0M589.3 270.4h0M590.3 271.8h0M591 278.4h0M591.1 265h0M591.8 267.7h0M592.4 271h0M593.2 272.8h0M593.6 279.3h0M594.6 268.6h0M594.6 272.8h0M595.9 274.4h0M596.3 274.4h0M596.6 258.4h0M597.2 269.5h0M598.1 258.1h0M598.9 254.5h0M599.5 254h0M599.7 266.8h0M600.9 244.6h0M601.2 253.3h0M601.7 240.5h0M602.2 254.8h0M602.9 254.2h0M603.4 254.8h0M604.1 265.6h0M605.1 246.1h0M605.3 257.1h0M605.6 259.1h0M606.8 268.6h0M607.4 261.1h0M608 266.9h0M608.5 260.2h0M608.8 262.7h0M609.6 261h0M610.5 271.3h0M611 280.8h0M611.5 272.3h0M612.4 278.8h0M613.1 257.2h0M613.3 254.9h0M614.2 236.2h0M614.5 257.3h0M615.4 263.4h0M615.7 263.2h0M616.6 268.8h0M617.1 258h0M617.7 263.8h0M618.5 272.9h0M619.1 273.3h0M619.9 268.4h0M620.1 283h0M620.7 283.3h0M621.6 276.2h0M622.4 281h0M622.6 273.8h0M622.9 272.4h0M623.5 269.6h0M624.7 275.7h0M624.9 271.5h0M625.6 274.2h0M626.5 275.1h0M626.7 275.7h0M627.5 271.2h0M628.4 273.8h0M629 280.7h0M629.6 272.1h0M630.3 273.7h0M630.5 276.7h0M631.6 269.9h0M632.3 273.7h0M632.5 254.7h0M632.8 249.1h0M633.9 244h0M634 244.9h0M635.2 246.1h0M635.9 254.8h0M636.2 262.3h0M636.5 256.7h0M637.2 271.1h0M638.3 278.3h0M638.3 277.2h0M639.4 283.5h0M639.8 288.4h0M640.4 281.2h0M641 283.3h0M641.8 283.5h0M642.7 280.2h0M642.7 281.7h0M643.3 282.7h0M644.3 272.3h0M644.5 273.6h0M645.6 285h0M646.4 287.9h0M646.9 277.1h0M647.3 287.2h0M647.7 270.1h0M648.8 278.3h0M649.2 292.3h0M649.7 281.3h0M650.3 279.1h0M651 279.1h0M651.6 282.6h0M652 288.2h0M652.8 294.3h0M653.7 283.8h0M654 281.7h0M654.7 286.2h0M654.9 291.8h0M655.7 289.5h0M656.4 290.7h0M656.8 282.7h0M658.1 288.8h0M658.2 300.2h0M659.2 299.3h0M660 294.1h0M660.4 299.2h0M660.7 285.1h0M661.4 294.9h0M661.8 291.7h0M662.8 289h0M663.1 274.9h0M663.7 281h0M664.4 296.8h0M665.4 284.1h0M666 295.7h0M666.3 280.5h0M666.8 290.7h0M667.8 291.9h0M668.1 296.7h0M668.9 282.9h0M669.1 284.3h0M669.8 293h0M670.8 287.8h0M671.4 290.1h0M672.2 306.3h0M672.8 287.8h0M673.5 287.6h0M674 281.2h0M674.1 284.5h0M675.3 294.3h0M675.3 305.1h0M676.3 290.1h0M677.1 296.9h0M677.5 287.2h0M677.8 285.5h0M678.7 272.2h0M679.5 287.5h0M680.1 276h0M680.6 283.5h0M681.3 286.2h0M681.4 291.9h0M682.1 290.5h0M682.7 283.8h0M683.6 283.9h0M684.3 285.9h0M685.1 284.4h0M685.6 280.5h0M686.1 283.9h0M686.6 297.9h0M687.1 295h0M688.1 299.9h0M688.7 291.4h0M689.2 292.4h0M690.1 305.9h0M690.8 318.9h0M690.7 308.5h0M691.6 303.5h0M692.6 317.7h0M693 314.7h0M693.8 301.3h0M694 297.3h0M694.8 287.4h0M695.2 277.8h0M695.6 286.3h0M696.7 281.6h0M697.4 285.8h0M697.7 290.7h0M698.3 301.8h0M699.3 304.3h0M699.9 307h0M700.1 309.4h0M700.9 315.6h0M701.3 303.9h0M701.8 309.8h0M702.7 304.8h0M703.5 296.8h0M704.2 315.3h0M704.9 303h0M704.8 308.6h0M705.7 306.8h0M706.6 306h0M706.8 297.9h0M707.8 302.8h0M708 294.4h0M709.1 296.9h0M709.5 293.8h0M709.7 298.1h0M710.8 310.6h0M711.4 309.3h0M712 312.2h0M712.6 305.1h0M713.2 307.8h0M714.1 317.8h0M714.1 314.5h0M714.8 317.2h0M715.9 314.9h0M716 326.5h0M716.5 321.1h0M717.4 316.4h0M717.8 323.6h0M719 322.3h0M719.3 316.8h0M719.8 311.8h0M720.9 322.8h0M721.4 308.9h0M722.1 299.9h0M722.5 311.8h0M723.1 310.6h0M723.7 309.4h0M724.1 323.9h0M724.7 303.5h0M725.2 311.5h0M726.2 303.3h0M726.7 308.8h0M727.4 307.8h0M728.1 305.9h0M728.3 305h0M729.3 318.4h0M729.9 312.7h0M730.3 321h0M730.7 311.4h0M731.7 320.7h0M732.5 318.9h0M733.2 317.5h0M733.6 323.1h0M734.2 314h0M734.4 311.9h0M735.1 315h0M736.2 316.9h0M736.9 330.9h0M737.1 320.9h0M737.8 320.4h0M738.1 324.5h0M739 319.4h0M739.9 315.2h0M740.2 329.8h0M741 332.7h0M741.9 331.9h0M742.1 330.1h0M742.9 327.8h0M743.7 329.1h0M744 332.6h0M744.4 318.1h0M745.2 320.7h0M746.1 315.9h0M746.5 317.4h0M746.9 316.7h0M747.3 319.5h0M748.1 319.8h0M749 316.6h0M749.3 322.2h0M749.9 313.4h0M750.4 311.7h0M751.6 320.1h0M752 318.7h0M752.8 331.2h0M753.3 326h0M753.5 339.3h0M754.6 345.4h0M755.2 327.4h0M755.3 327.5h0M756.4 321.8h0M757.2 316.5h0M757.3 328.4h0M758 328h0M758.4 324.2h0M759.6 326h0M759.8 328.6h0M760.3 328.7h0M761 341.4h0M762.1 333.3h0M762.2 340.7h0M763.2 342.6h0M763.3 330.7h0M764.3 338.6h0M764.7 348.4h0M765.7 343.9h0M766.2 331.8h0M766.9 336.2h0M767.1 332.3h0M768.2 336.1h0M768.4 349.8h0M768.8 339.7h0M770.1 333.2h0M770.7 345.4h0M770.6 343h0M771.8 346.7h0M772.2 327.2h0M772.6 329.9h0M773.9 332.2h0M774.2 347.1h0M774.5 356.9h0M775.3 358.8h0M775.8 359.3h0M776.3 350.3h0M777.4 346h0M777.5 347.8h0M778.8 352.5h0M779.2 357h0M779.6 362.5h0M780.6 362.3h0M780.5 357.2h0M781.6 358.3h0M781.9 355h0M782.8 355.1h0M783.3 345.8h0M783.7 347.9h0M784.9 350.4h0M784.8 342.6h0M785.9 335.3h0M786.3 345.3h0M787.4 348h0M787.5 346.5h0M788 348.5h0M789.2 350.8h0M789.9 346.6h0M789.9 350.6h0M791.1 360.6h0M791.6 364.9h0M792 361.8h0M792.2 356.7h0M793.2 350.3h0M794 348.2h0M794.3 350.9h0M795 353.4h0M795.8 350.8h0M796.6 357.8h0M797.1 362.3h0M797.5 363.6h0M797.9 345.8h0M798.7 338.9h0M799.1 346.2h0M799.6 346.9h0M800.9 361.2h0M801.5 348.2h0M801.9 355.8h0M802.8 362.3h0M803.3 357.6h0M803.4 360.3h0M804.5 362.4h0M804.9 363.5h0M805.2 348.1h0M806 351.7h0M806.6 348h0M807.5 350.8h0M807.7 353.1h0M808.9 363.9h0M809 375.9h0M810.1 372.2h0M810.4 373.3h0M811.1 377.8h0M811.7 373.9h0M812 373.4h0M812.8 371.3h0M813.2 364.3h0M814.1 356.1h0M814.7 366.2h0M815 353.2h0M816.1 377.7h0M816.2 379.4h0M817 382.2h0M817.7 377.8h0M818.2 367.8h0M819 363.1h0M819.8 360.1h0M820.2 361.3h0M820.6 353.5h0M821.3 353.5h0M822.1 354.2h0M822.5 351.5h0M823.3 358.6h0M824 355.4h0M824.9 378.4h0M825.4 373.4h0M826 369.7h0M826.4 382.1h0M827.3 367h0M827.4 368.6h0M828.4 367.8h0M829.1 367.5h0M829.5 372.1h0M830.4 364.5h0M830.9 371.1h0M831.3 373.3h0M832.2 370.8h0M832.6 376.4h0M832.9 375.9h0M834.1 369h0M834.7 370.4h0M834.9 382h0M835.9 373.1h0M836.6 377.1h0M836.5 373.3h0M837.2 371.9h0M838.2 377.4h0M839 374.3h0M839.6 380.3h0M840 371.9h0M840.9 368.7h0M840.9 372.4h0M841.7 381.2h0M842.3 384.9h0M842.8 384.1h0M843.6 380.2h0M844.3 385h0M844.5 391.8h0M845.6 383h0M846.1 392.9h0M846.6 405.1h0M847.1 386h0M848 385.3h0M848.8 391.6h0M849.3 394.5h0M849.6 403.7h0M850.1 392.9h0M850.9 394.9h0M851.8 378.4h0M852.2 378.1h0M853 381.7h0M853.2 367.6h0M854.5 376.8h0M854.9 381.9h0M855.5 385.1h0M856 389.1h0M856.3 387.4h0M857.2 379.6h0M857.8 383.5h0M858.8 384.5h0M859.3 384.7h0M859.8 385.5h0M860.2 389h0M861.1 383.7h0M861.6 384.7h0M862.3 389h0M862.6 380.1h0M863.6 392.9h0M864.1 379.9h0M864.9 385.5h0M865.5 396.3h0M865.7 392.6h0M866.8 393.4h0M866.8 393.8h0M867.4 387.9h0M868 386h0M868.7 386.5h0M869.9 391.8h0M870.2 378.4h0M870.6 382.5h0M871.7 389.1h0M872.4 396.7h0M872.3 388.4h0M872.9 395h0M874 398.1h0M874.7 391.6h0M875.3 387.5h0M875.9 388.5h0M876.2 389.9h0M876.6 389.4h0M877.4 405.2h0M878 401.5h0M879 407.8h0M879.7 403.3h0M879.8 399.1h0M880.9 398.1h0M880.9 402.3h0M882.2 405.7h0M882.5 409.9h0M883 427.4h0M883.6 413.1h0M883.9 414.5h0M884.7 417.2h0M885.2 410.7h0M886 427.1h0M887 411.2h0M887.4 408.7h0M887.8 412.3h0M888.9 393.5h0M889.4 403.9h0M889.6 412.1h0M890.1 394h0M890.7 394.1h0M891.9 392.5h0M892.2 398.5h0M892.8 401.9h0M893.8 383.9h0M894.3 409.6h0M894.4 391.7h0M895.3 389.4h0M895.9 388.5h0M896.6 400.3h0M897 397.4h0M897.5 412.7h0M898.8 417.7h0M899 401.1h0M899.8 406h0M900 400.7h0M901.2 407.7h0M901.4 405.4h0M902.2 410.6h0M902.4 400.5h0M903.1 393.1h0M903.8 404.4h0M904.7 412.5h0M905.1 400.2h0M905.5 407.1h0M906.8 405.9h0M907 404.1h0M907.7 398h0M908.1 409.6h0M909 405.9h0M909.3 412.3h0M910.3 415.7h0M911.1 417.9h0M911.8 414.2h0M911.7 410.9h0M912.3 395.7h0M912.9 399.4h0M914 391.1h0M914.1 398.4h0M915 393.4h0M915.8 396.8h0M916.5 398.1h0M916.9 411h0M917.4 413.2h0M917.9 412.8h0M918.9 420.7h0M919.6 412.9h0M920.3 420.8h0M920.3 418.3h0M921.5 425.3h0M921.6 434.4h0M922.6 419.4h0M922.8 425.1h0M923.3 418.7h0M924.2 435.2h0M924.6 429.3h0M926 427.8h0M925.8 427.9h0M927.1 413.9h0M918.6 446.7h0M896.3 440.2h0M896.8 433h0" stroke="#dc282d" stroke-width="5.2" stroke-linecap="round" fill="none"/>
<path d="M126.7 145.1h0M129.3 155.5h0M132.7 148.3h0M135.4 139.8h0M137.7 132h0M140.6 138.8h0M143.4 127.5h0M145.8 131.7h0M148 115.7h0M150.8 135.6h0M154.1 132h0M156.4 138.6h0M159.3 126.5h0M162 110.8h0M164.3 131h0M166.9 123.2h0M169.7 120.9h0M172.5 138.2h0M175.1 136.6h0M178 140.5h0M180.8 145.8h0M183.1 146.1h0M185.9 142.9h0M188.3 153.4h0M191.2 162.2h0M193.9 166.6h0M196.9 183.6h0M199 172h0M202.1 166.6h0M204.9 165.9h0M207.5 145h0M209.9 132.3h0M212.9 141.8h0M214.9 141.8h0M218 144.2h0M220.3 139.5h0M223.4 136.2h0M226.1 127.4h0M228.3 137.8h0M231.3 130.3h0M234.4 137.9h0M236.9 124.1h0M239.3 132.2h0M241.7 134.1h0M244.4 142h0M247.7 134.8h0M249.7 147.1h0M252.9 158.9h0M255.1 156.9h0M257.9 160.1h0M260.4 159h0M263.8 150.7h0M265.9 158.5h0M268.5 171.5h0M271.1 159.3h0M273.8 164.9h0M276.8 171.6h0M279.6 152h0M282.5 159.3h0M285.2 152.1h0M287.8 154.9h0M290.2 161.3h0M292.6 165h0M295.1 170.4h0M298.3 171.1h0M301.2 170.4h0M303.7 166.1h0M306.5 158.4h0M309.2 160.9h0M311.9 143h0M314.1 158.9h0M317.3 156h0M319.3 155.9h0M322 168.4h0M325 159.2h0M327.4 152.8h0M330.5 161.2h0M333.1 163.7h0M335.4 160.9h0M338.7 161h0M341.3 159.3h0M343.6 149.8h0M346.7 134.7h0M349.1 150.1h0M351.6 151h0M354 169.3h0M356.9 162.1h0M359.5 175.5h0M362.7 169.8h0M364.8 175.1h0M367.9 170.1h0M370.4 166.9h0M373.4 149.2h0M375.5 155.6h0M378.1 150.1h0M381.1 162.5h0M383.9 167.6h0M386.9 178h0M389.4 175.1h0M392.1 166.8h0M394.7 172.8h0M396.9 186.6h0M400.2 188.6h0M402.3 169.7h0M405.6 189.5h0M407.8 192.3h0M410.5 191.4h0M413.5 192.5h0M416.2 196.8h0M418.8 208.9h0M420.9 198.6h0M423.5 213.6h0M426.7 218.4h0M429.1 214.3h0M431.9 218h0M434.8 217.3h0M436.9 212.1h0M439.9 216.4h0M442.7 204h0M445.5 199.5h0M447.8 204.6h0M450.9 194.5h0M453.7 201.8h0M455.7 208.7h0M458.9 224.9h0M461.5 240.8h0M464.1 237h0M467.1 230.7h0M469.4 231h0M472 238.4h0M474.4 229h0M477.7 239.7h0M480.2 230.2h0M482.5 217.5h0M485.5 236.6h0M488.5 227.9h0M490.6 225.2h0M493.6 224h0M496.2 235.6h0M499 236.7h0M501.4 234.3h0M504 232.5h0M506.7 230.2h0M509.9 218.3h0M512.3 239.7h0M514.5 242.3h0M517.7 242.6h0M519.9 244.8h0M522.7 230.2h0M525.4 232.9h0M528 252.8h0M531.1 251.5h0M533.6 242.3h0M536.1 247.2h0M539.1 248.3h0M541.9 247.6h0M544.5 240.2h0M546.8 243.3h0M549.8 238.1h0M552.6 242.7h0M555.4 244.3h0M557.5 243.4h0M560.2 240.9h0M562.8 253.8h0M565.5 259.5h0M568 265.7h0M571.4 242h0M574 253.2h0M576.4 266.2h0M578.8 263.8h0M581.9 255h0M584.1 257.2h0M587 259.4h0M589.9 241.4h0M592.5 250.3h0M595.1 264h0M597.9 251.1h0M600.2 278.6h0M603.5 275.4h0M605.7 277.4h0M608.3 263.6h0M611.4 259h0M613.5 269.6h0M616.7 271.6h0M619.2 281.7h0M622.1 261.8h0M624.6 281.8h0M627.4 275.3h0M629.9 264.5h0M632.5 256.9h0M635.4 265.5h0M637.9 278.1h0M640.4 268.5h0M643.4 277.6h0M645.9 287.7h0M648.3 286.5h0M651.1 283.8h0M654.3 287.3h0M656.3 298.5h0M659.6 290.1h0M662.1 305.2h0M664.4 300.2h0M667.1 298.4h0M669.8 291.2h0M672.4 300.9h0M675.2 288.4h0M678 297.2h0M680.6 286.8h0M683.7 285.9h0M685.9 285.3h0M689 287.7h0M691.8 298.3h0M693.8 297.2h0M696.4 298.9h0M699.3 311.1h0M702.1 319.7h0M704.7 302.7h0M707.3 300.8h0M709.8 295.6h0M712.9 316.7h0M715.3 319.5h0M718.3 310.6h0M721 319.1h0M723.1 306.4h0M726.2 306h0M729.1 307.7h0M731.7 319.2h0M734.1 317.6h0M736.8 331h0M739.8 331.4h0M742.3 340.2h0M745.2 323.8h0M747.3 329.2h0M750.6 331.5h0M752.6 328.3h0M755.4 337.7h0M758 325.1h0M761.2 339.4h0M763.6 338.1h0M766 331.1h0M769.2 345.3h0M771.5 348.3h0M774.2 358h0M777.4 344.3h0M779.9 353.4h0M782 357.4h0M785.3 345.1h0M787.6 350.3h0M790.4 359.2h0M793 354.4h0M795.8 368.1h0M798.6 362.8h0M801.2 365.4h0M803.6 349.1h0M806.2 361.9h0M809.5 350.6h0M812 358.9h0M814.2 358.3h0M817.1 354h0M819.6 374.6h0M822.8 371h0M825 376.9h0M828.1 378.9h0M830.1 364.4h0M833.3 366.4h0M836.2 360.3h0M838.6 362.5h0M841.1 378.9h0M843.7 368.1h0M846.3 366.1h0M849.1 374.5h0M852.2 387.1h0M854.5 391.9h0M857.4 403.4h0M859.7 406.2h0M862.3 411.5h0M865.1 400.6h0M868.1 399.9h0M871 406.2h0M873 414.2h0M876.2 395h0M878.4 389.4h0M881.4 387.1h0M883.7 392.2h0M887 404.7h0M889.5 420h0M891.8 413.8h0M894.4 419.2h0M897.3 410.6h0M900.4 406.2h0M902.8 403h0M905.7 394.5h0M908.2 410.5h0M911 399.3h0M913.6 404h0M916.1 400.9h0M918.6 412.6h0M921.6 429.5h0M923.8 431.4h0M927.2 429.7h0" stroke="#1874cd" stroke-width="5.2" stroke-linecap="round" fill="none"/>
<path d="M126.8 657.1h0M127.5 655.1h0M128.8 658.6h0M129.8 658h0M130.5 660.3h0M131.4 657.1h0M132.8 658.4h0M133.6 659.1h0M134.6 661.3h0M135.1 656.1h0M136.6 661.1h0M137.5 659.8h0M138.4 656.4h0M139.7 660.6h0M140.6 660.3h0M141.8 662.8h0M142.5 659.9h0M143.7 659.7h0M144.6 659h0M145.6 663.2h0M146.2 660.2h0M147.7 660.2h0M148.9 665.6h0M149.6 660.7h0M150.8 658h0M151.8 660.8h0M152.2 662h0M153.5 660.4h0M154.4 658.7h0M155.2 661.3h0M156.2 663h0M157.8 662.1h0M158.6 659.8h0M159.9 658.5h0M160.3 660.1h0M161.5 656.2h0M162.5 657.7h0M163.3 658.9h0M164.8 657.7h0M165.9 655.1h0M166.5 658.6h0M167.7 654.3h0M168.8 659.8h0M169.6 659.5h0M170.2 661.5h0M171.4 655.9h0M172.4 656.4h0M173.8 659.5h0M174.5 660.1h0M175.2 654.1h0M176.7 655.9h0M177.4 654.2h0M178.2 656.6h0M179.8 659.2h0M180.7 653.4h0M181.9 655.1h0M182.4 650.8h0M183.9 654.3h0M184.9 653.8h0M185.7 654.2h0M186.6 650h0M187.4 653.6h0M188.9 653.3h0M189.3 654.5h0M190.3 653.1h0M191.2 651.4h0M192.6 652.9h0M193.4 654.9h0M194.5 658.4h0M195.7 654.7h0M197 652.2h0M197.2 653.9h0M198.5 655.6h0M199.4 654.6h0M200.8 654.9h0M201.8 650.3h0M202.5 656h0M203.4 656.8h0M204.7 655.1h0M205.8 651h0M206.5 650.8h0M207.4 649.6h0M208.3 655.8h0M209.8 658.3h0M210.8 653.9h0M211.6 653.6h0M212.7 652.2h0M213.6 654.6h0M214.2 653.8h0M215.6 654.7h0M216.9 653.3h0M217.8 653.1h0M218.5 655.1h0M219.4 655.2h0M220.2 653.3h0M221.6 656.5h0M222.3 657.9h0M223.6 656.2h0M224.8 659.7h0M225.7 659.2h0M226.8 657h0M227.8 659.7h0M228.2 658.8h0M229.9 662h0M230.4 661.2h0M231.4 663.3h0M232.3 664.8h0M233.9 661.6h0M235 663.1h0M235.3 667.4h0M237 663.2h0M237.9 662.3h0M238.5 664.4h0M239.2 664.9h0M240.2 664.5h0M241.3 661.1h0M242.9 666.9h0M243.5 668.2h0M244.7 662.2h0M245.7 668.9h0M246.9 672.2h0M247.2 662.6h0M248.9 671.2h0M249.3 672.5h0M250.4 670.7h0M251.6 671.4h0M252.4 673.3h0M253.3 674.9h0M254.7 673.8h0M255.9 675h0M256.5 679.4h0M258 673.9h0M258.7 676.8h0M259.5 676.3h0M260.5 679.9h0M261.3 680.8h0M262.8 683.9h0M263.6 686.4h0M264.4 683.5h0M265.9 685.4h0M266.6 684.2h0M267.7 684.3h0M269 687.5h0M269.2 682.1h0M270.3 688.1h0M271.9 684.8h0M272.4 684.5h0M273.3 681.7h0M274.3 683.8h0M275.4 685.3h0M276.3 689.4h0M277.9 685.1h0M278.6 687.1h0M279.8 686.5h0M280.5 692.6h0M282 689.1h0M282.3 690.7h0M283.9 688.4h0M284.4 690.3h0M285.5 687.7h0M286.5 688.7h0M287.9 688.8h0M288.6 692.9h0M289.4 692.2h0M290.6 692.4h0M292 691.9h0M292.7 692.2h0M293.7 693.7h0M294.4 692.9h0M295.5 696.5h0M296.6 693h0M297.3 688.9h0M298.6 693.7h0M299.4 697h0M300.7 694.3h0M301.7 696.3h0M303 698.2h0M303.5 696.3h0M305 694.8h0M305.5 695.3h0M306.4 693.9h0M308 699.7h0M308.4 696.9h0M309.2 700.1h0M310.7 699h0M311.6 696.8h0M312.5 695.1h0M313.3 696.3h0M314.5 697.8h0M315.3 695.1h0M316.3 697h0M317.8 695.9h0M318.8 696.4h0M319.8 696.4h0M320.5 700.5h0M321.5 703.4h0M322.3 705.9h0M323.5 704.2h0M324.4 708h0M325.5 703h0M326.4 706.7h0M327.9 703.1h0M328.7 702.4h0M329.7 703.1h0M330.6 700.2h0M332 703.6h0M333.1 700.4h0M333.3 699.8h0M334.9 700h0M335.6 701.5h0M336.8 701.2h0M338 699.8h0M338.6 703h0M339.6 699.8h0M340.7 699.2h0M341.7 701.2h0M342.9 703.8h0M344 701.3h0M344.4 704.5h0M345.8 699.2h0M346.7 698.5h0M347.3 699h0M348.5 695.9h0M349.5 698.8h0M351 694.6h0M351.3 696.5h0M352.7 697.1h0M353.6 694.7h0M354.4 690.9h0M355.4 690.2h0M357 693.7h0M357.8 689.4h0M358.3 689.1h0M360 690.9h0M360.4 691.1h0M361.8 692.4h0M362.4 691.9h0M363.9 693.2h0M365 691.3h0M365.8 689.8h0M366.4 694.1h0M367.3 691.7h0M368.5 694.8h0M369.8 694h0M370.3 696.7h0M371.9 695.1h0M372.7 692.1h0M373.6 691.7h0M374.8 692.2h0M376 691.3h0M376.4 691.3h0M377.4 690.2h0M378.9 689h0M379.4 691.4h0M380.8 694.2h0M381.7 694h0M382.6 692.1h0M383.9 695.8h0M385 696.3h0M386 693.4h0M386.5 697.2h0M387.7 700h0M388.5 694.8h0M389.8 700.4h0M391 698.4h0M391.4 695h0M393.1 695.9h0M393.5 699.3h0M394.9 699.3h0M395.9 696.4h0M397.1 697.5h0M397.5 695.7h0M398.4 696.3h0M399.5 697.8h0M400.9 698.8h0M401.6 697.2h0M402.8 697.7h0M403.8 697.6h0M404.8 701.6h0M406 701.9h0M406.8 702.7h0M407.7 698.3h0M409.1 703.6h0M409.7 701.5h0M411 702.8h0M411.5 703.6h0M412.8 703.8h0M413.3 703.6h0M414.9 702.1h0M415.8 704.3h0M417.1 704.1h0M417.8 710.1h0M418.8 710.7h0M419.6 708h0M420.8 709.2h0M421.7 707.2h0M423.1 709.5h0M424.1 710.1h0M425 715.2h0M426 716.3h0M426.4 711.6h0M427.7 714.8h0M428.9 715.7h0M429.9 718.4h0M430.5 713.6h0M431.5 715.5h0M432.3 716.8h0M433.9 709.5h0M434.8 709.7h0M435.8 715.1h0M436.8 716.4h0M437.3 715.9h0M438.9 716.8h0M439.5 715.3h0M440.4 715.1h0M441.6 717.3h0M442.4 717.2h0M443.5 716.8h0M445 712.7h0M445.6 719.2h0M447.1 719.2h0M447.6 717.1h0M448.8 720.2h0M449.5 719.8h0M450.4 718.1h0M451.9 721h0M452.4 719.1h0M453.9 721.7h0M454.8 722.3h0M455.4 718.2h0M456.4 725.1h0M457.4 720.4h0M458.5 723.6h0M459.6 717.5h0M461 722.5h0M461.5 721.3h0M463.1 722.1h0M463.8 722.5h0M464.8 724.8h0M465.6 727.8h0M467.1 728.3h0M467.7 724.3h0M469 728.5h0M469.8 729.1h0M470.8 726h0M471.7 725.1h0M472.7 732.3h0M473.7 731h0M475.1 730.3h0M475.8 731.1h0M476.5 730.3h0M478 727.8h0M479 727.9h0M479.8 733.1h0M481 728.3h0M481.7 731.5h0M482.4 734.9h0M483.9 729.4h0M484.8 733.2h0M485.8 728.9h0M486.5 730h0M488 738.4h0M488.8 736h0M489.5 733.4h0M491.1 735.1h0M492.1 744.5h0M492.5 738.5h0M494 739.5h0M494.9 739.2h0M495.6 741.5h0M496.4 742.7h0M498 738.2h0M498.4 742.6h0M500 740.8h0M500.4 742.6h0M501.9 742.9h0M502.5 740.7h0M503.9 742.1h0M504.9 742.2h0M505.9 741.1h0M507.1 742.3h0M508.1 744.4h0M508.6 748.4h0M509.8 745.1h0M510.6 745.9h0M512 748.9h0M512.5 742.1h0M513.9 753.2h0M514.7 748h0M515.9 746.8h0M516.6 748.6h0M517.6 748.1h0M519.1 746.2h0M519.5 748.9h0M520.6 750.4h0M521.5 751.3h0M522.4 753.4h0M524.1 751.5h0M524.8 758.4h0M525.8 754.7h0M527.1 753.9h0M527.6 755.6h0M528.5 753.7h0M529.9 751.7h0M531.1 753.1h0M531.6 752.7h0M532.5 756.4h0M533.7 752.5h0M534.6 757.2h0M536.1 754.7h0M536.7 757.5h0M538.2 751.5h0M538.5 756.7h0M539.6 755.1h0M540.9 758.3h0M542.2 753h0M543 757.9h0M544 754h0M545.2 758.6h0M546.1 757.1h0M546.7 759.1h0M548.1 757.5h0M548.7 756h0M550 758h0M551.1 762.2h0M551.5 760.3h0M552.7 759.7h0M554.1 755.9h0M555 760.5h0M556.1 760.3h0M556.5 760.7h0M558 764.5h0M558.5 760.3h0M560.1 761.2h0M561 763.5h0M561.5 765.7h0M563 764.9h0M563.4 767.3h0M564.5 768.5h0M565.5 764.1h0M566.9 766.2h0M567.7 768.9h0M568.8 769.9h0M569.7 766.7h0M570.7 765.8h0M571.9 767.5h0M572.9 773.3h0M574 769.4h0M574.7 772.5h0M575.8 769.8h0M576.8 768.6h0M577.6 768.3h0M578.5 769.7h0M579.7 771.1h0M580.9 771.9h0M582.2 769.8h0M582.8 772.4h0M583.8 771.9h0M584.8 772.9h0M585.7 768.1h0M587.2 770.4h0M587.7 771.9h0M589 769.8h0M590.2 770.4h0M591.2 770.3h0M591.5 773.6h0M592.9 776.5h0M593.6 774h0M594.6 772.4h0M595.8 773.5h0M597 771.3h0M598.2 771.1h0M598.7 774.1h0M600 771.4h0M600.5 774.7h0M602 773.3h0M602.8 771.3h0M603.9 771.7h0M604.6 773.1h0M605.6 773.3h0M607.2 777.7h0M607.9 775.6h0M609 771.4h0M610 773.6h0M610.6 772h0M611.9 772.5h0M612.9 777.7h0M614.1 783.7h0M614.6 778.2h0M616.2 777.2h0M617.1 777.7h0M617.9 780.1h0M618.9 780.5h0M619.6 784.9h0M620.6 778.4h0M621.9 779.8h0M622.6 781.7h0M624.2 779.4h0M624.7 781.8h0M625.7 783.6h0M626.8 784.6h0M627.9 782.8h0M629.2 781.9h0M629.5 782.6h0M630.5 779.3h0M632 774.7h0M633.2 779.8h0M634.2 782.4h0M634.8 778.9h0M635.6 780.9h0M636.7 785h0M638.2 779.7h0M638.8 779h0M639.6 778h0M640.7 781.1h0M642.1 775.7h0M642.7 782.4h0M644.2 780.2h0M644.5 781h0M645.6 778h0M646.5 782.1h0M648.2 783.5h0M648.7 785.3h0M649.9 779.8h0M650.9 785.9h0M652.1 774.8h0M653.3 780.7h0M653.5 780.2h0M654.6 783.5h0M656.2 780.8h0M657 781.1h0M657.5 777.5h0M658.6 786.4h0M660 780.7h0M660.9 781.5h0M661.9 781.5h0M662.6 783.2h0M664.2 783.4h0M665.1 786.3h0M666.1 780.1h0M666.9 781.6h0M668.2 783.5h0M669.2 785.3h0M670 782.2h0M670.8 784.6h0M672 778.1h0M673 783h0M674.1 786.3h0M675 781.9h0M676.1 790.5h0M677.2 785.1h0M677.9 787.8h0M678.9 788.3h0M680.1 781h0M680.6 787.1h0M682 791.4h0M682.6 788.6h0M684.2 787.3h0M685.2 788.5h0M685.5 789.5h0M686.6 789.8h0M687.5 798.5h0M689.2 792.2h0M690 791.2h0M691 794.9h0M692 795.3h0M692.7 798.8h0M693.5 795h0M694.6 803.3h0M695.9 800.4h0M696.7 802.2h0M697.8 801.9h0M699 802.3h0M700.3 802.9h0M700.8 805h0M702.1 802.7h0M702.8 801.8h0M704.1 804.6h0M705.2 805.4h0M705.7 807.1h0M707 804.1h0M707.7 802.4h0M709 801.5h0M709.8 799.2h0M710.6 806.3h0M711.9 800.8h0M712.6 799.4h0M713.8 804.7h0M715.1 804.5h0M716.2 804h0M717.2 806.3h0M718.3 799.4h0M719.3 804.5h0M719.8 799.7h0M721.1 800.9h0M722.1 805.5h0M723 807.6h0M724.1 808.9h0M724.8 806.8h0M726.2 808.3h0M726.8 806.6h0M727.9 810.2h0M728.6 813.5h0M730 806.9h0M731.2 807.2h0M731.9 808.2h0M732.7 809h0M733.6 808.6h0M734.6 810.2h0M735.7 809.2h0M736.9 814.1h0M737.7 810.3h0M739 811.9h0M740.1 818h0M741.1 818.3h0M742.2 814.8h0M742.7 815.1h0M744.2 816.6h0M745 816.1h0M745.9 813.7h0M746.8 817.3h0M748.3 818.4h0M748.7 816.4h0M750 822.8h0M750.9 822.5h0M751.6 817.1h0M752.7 826.3h0M753.8 825.8h0M754.8 823h0M755.7 822.7h0M757.1 823.6h0M757.8 824h0M759.2 820.4h0M760.2 823.3h0M761.2 824.9h0M761.6 825.6h0M762.8 822.6h0M764 826h0M765.1 828.4h0M766.2 824.5h0M767 829.9h0M768 827.6h0M769.3 830.1h0M769.6 828.5h0M771.2 826.2h0M772 831.4h0M772.7 829h0M774.3 831.6h0M775.1 831.5h0M775.8 832.7h0M776.6 833.5h0M778.1 835.6h0M778.6 834.7h0M779.9 836.8h0M781.3 838.4h0M782.1 834h0M783.2 839.9h0M784.3 835.6h0M785.2 840.2h0M785.8 840.5h0M786.9 839.4h0M788 843.3h0M789.3 842.4h0M789.9 843.2h0M790.6 842.2h0M792.3 842.8h0M792.7 842h0M793.8 844.3h0M795.3 840.6h0M796.4 846.2h0M797.2 845.6h0M798.2 843.2h0M798.9 844.8h0M799.9 842.6h0M801.1 846.3h0M802.2 847.8h0M802.6 850.2h0M804.3 848.9h0M805.3 847h0M805.7 851.9h0M807 856h0M808 850.1h0M809.1 854.8h0M809.7 854.4h0M810.9 857.8h0M812.3 859.8h0M813.3 859.2h0M814.1 859.5h0M815 862.3h0M816.2 864.5h0M816.8 863h0M817.8 864.7h0M819.4 867.7h0M819.7 868.6h0M820.8 872.1h0M822.3 871h0M823.3 869.5h0M823.8 868.5h0M824.8 874.2h0M826.1 871.4h0M826.8 873.8h0M827.9 872.5h0M828.9 873.7h0M829.7 873.6h0M830.9 872.6h0M831.8 873.6h0M833 878.6h0M833.9 871.9h0M834.9 880.1h0M835.8 877.6h0M837 874.2h0M837.8 881.2h0M839 880.1h0M840.1 878.7h0M841.4 878.9h0M841.8 879.8h0M843.1 876.3h0M844 879.8h0M844.8 879.6h0M845.7 879.8h0M847.2 881h0M847.9 880.6h0M849 884.9h0M849.8 881.7h0M851.2 878.8h0M852.4 886.4h0M853.4 885.9h0M853.8 885.2h0M854.9 887.6h0M855.9 885.4h0M856.8 885.9h0M858 888h0M859.4 886.5h0M860.1 887.4h0M861.4 890.5h0M862.4 889.9h0M863.2 892.8h0M864.2 888h0M865 892.1h0M866.1 891.9h0M866.7 894.7h0M867.7 891.4h0M869 894.3h0M870.2 892.3h0M871.2 887.9h0M871.8 890.1h0M872.9 893.7h0M873.8 893.1h0M874.8 891.4h0M876 893.6h0M876.8 894.2h0M877.8 895.5h0M878.8 898h0M880 899.1h0M880.7 898.2h0M881.9 899.3h0M883.2 900.4h0M884.2 904.3h0M885.4 895.5h0M886.1 902.6h0M887 905.9h0M887.9 904.1h0M889.1 901.5h0M890.1 899.1h0M890.9 902.4h0M892.1 901.2h0M892.8 904.6h0M894 903.1h0M894.8 901.5h0M895.9 904h0M896.8 904.2h0M897.7 905.9h0M898.9 902h0M900.4 903.7h0M901.1 904h0M902 907h0M902.9 905.2h0M904.4 907.5h0M905.2 907.8h0M906.4 907.1h0M907.2 908.9h0M907.9 906.2h0M908.8 909.6h0M909.8 912.4h0M910.9 909.7h0M912.1 912.3h0M913.2 914.5h0M914.2 912.4h0M915 912.5h0M915.9 912.7h0M917.3 909.4h0M918.1 914.4h0M918.9 915.9h0M920.4 912.2h0M920.8 916.1h0M921.9 914.1h0M923.4 915.4h0M923.8 916.7h0M925.4 917.2h0M926.1 916.8h0M699.5 845h0M696 903h0M697.5 952h0M691.5 1005.5h0M701 793h0" stroke="#f5821f" stroke-width="5.2" stroke-linecap="round" fill="none"/>
<path d="M126.5 655.6h0M127.4 658h0M128.2 651.8h0M129 650.2h0M129.7 654.8h0M130.2 654.1h0M130.5 651h0M131.3 655.8h0M132.1 660.7h0M133.2 655.2h0M133.5 655.8h0M134.3 659.2h0M135.5 655.4h0M136.1 655.6h0M137.1 655.1h0M137.2 656.7h0M138 664.2h0M138.7 656.1h0M139.2 660.9h0M140.1 657.7h0M140.8 658.2h0M141.8 659.9h0M142.6 656.2h0M143 656.7h0M143.8 659h0M145 659.2h0M145.4 664.7h0M145.9 655.1h0M146.6 653.9h0M147.6 650.8h0M148.6 662.3h0M149 655.7h0M149.9 656.9h0M150.3 653.7h0M151 653.6h0M151.6 658.1h0M152.6 653.9h0M153.8 659.5h0M153.9 662.1h0M154.9 657.7h0M155.3 658.4h0M156.4 652.9h0M156.9 661.4h0M158.1 654.6h0M158.8 654.8h0M159 654.6h0M160 660.4h0M161 656h0M161.5 657h0M161.9 653.2h0M162.6 652.4h0M163.9 652.1h0M163.9 654h0M165.3 655.3h0M165.8 652h0M166.7 657.6h0M167 654.5h0M168.2 656h0M168.9 658.3h0M169.7 651h0M170.3 657.1h0M171 657.3h0M171.3 651h0M172 649.8h0M172.8 657.1h0M173.7 656.7h0M174.8 655.2h0M175 659.9h0M176.1 649.4h0M176.6 648.9h0M177.1 655.9h0M178.3 658h0M179.2 657.7h0M179.4 653.1h0M180 650.7h0M180.9 649.5h0M181.8 654.2h0M182.6 651.1h0M183.1 651.8h0M183.9 654.2h0M184.6 653.7h0M185.8 652.5h0M186.2 650h0M186.7 650.2h0M187.8 642.6h0M188.2 655.7h0M188.8 647.5h0M189.9 651.5h0M190.4 651.6h0M191.2 651.2h0M192.1 647h0M192.4 654.2h0M193.4 647.3h0M194 646.1h0M194.5 650h0M195.6 651.3h0M196.5 651.5h0M197.3 653.4h0M197.6 653.6h0M198.5 654.3h0M199.1 649.5h0M199.9 648h0M200.7 647h0M201.4 649.4h0M202 651.7h0M203.2 646.1h0M203.7 649.8h0M204.2 651.2h0M204.9 654.7h0M206.1 652.7h0M206.2 654.2h0M207.6 644.1h0M208.3 653.2h0M208.5 654.5h0M209.4 651.4h0M210.4 649.5h0M211 646h0M211.4 648.7h0M212.1 656.1h0M212.7 658.6h0M213.6 651.1h0M214.5 657.1h0M214.9 651.6h0M216.3 650.8h0M217 647.7h0M217.2 656.3h0M218.3 650.7h0M218.5 649.9h0M219.8 653.2h0M220.3 655.5h0M221 652.2h0M222.2 653.1h0M222.7 655.4h0M222.9 655.3h0M223.9 649.7h0M224.5 656.2h0M225.2 662.6h0M226.4 662.9h0M226.6 651.6h0M227.6 659.7h0M228 658.1h0M229.4 662.3h0M229.4 660.1h0M230.2 664.1h0M230.9 661.5h0M231.7 658.4h0M232.8 659.3h0M233.6 660.6h0M234.5 663.2h0M235.3 657.2h0M235.8 657.4h0M236.4 663.1h0M236.9 659.6h0M238 662.5h0M238.4 660.4h0M239.5 662.7h0M239.7 665.7h0M241.1 662.4h0M241.5 661.8h0M242.5 660.9h0M242.8 660.1h0M243.9 665.2h0M244.7 662.3h0M245 664.4h0M246.1 664.5h0M246.9 661.2h0M247.5 666h0M247.9 665.6h0M248.6 669.4h0M249.5 672.7h0M250.5 671.4h0M251.1 666.3h0M251.4 671.8h0M252.3 671.8h0M252.7 673.1h0M254.1 672.7h0M254.6 670.6h0M255.6 666.3h0M256.3 676h0M257.1 671h0M257.8 674.9h0M257.9 672.9h0M259.3 676.8h0M259.5 677.3h0M260.5 678.1h0M261.4 677.4h0M261.8 675.3h0M262.8 676.7h0M263.1 681.1h0M263.9 681.2h0M264.5 681.3h0M265.5 679.5h0M266.5 680.5h0M266.6 676.9h0M267.4 678.6h0M268.6 676.6h0M268.9 681.6h0M269.7 683.4h0M270.8 679.3h0M270.9 675h0M272 682.5h0M272.8 679.2h0M273.8 687.7h0M274.4 682.4h0M274.7 678.4h0M275.3 683.8h0M276.4 674.2h0M277 688.8h0M277.6 686.6h0M278.2 683.8h0M279.3 681.7h0M279.8 688.2h0M281.1 687.2h0M281.1 691.9h0M282.1 686.5h0M282.8 691.3h0M283.4 680.6h0M284.7 689h0M285.2 687.7h0M286 685.4h0M286.7 691.8h0M287.7 688.7h0M288 687.7h0M288.9 686h0M289.1 691.4h0M290 687.4h0M290.9 694.4h0M291.9 688.6h0M292.2 689.2h0M293.5 690.8h0M293.7 689.4h0M294.3 690h0M294.9 691.6h0M295.8 689.9h0M296.4 692.3h0M297.7 689.2h0M298.4 694.2h0M298.9 692.4h0M299.7 696.7h0M300 693.8h0M300.8 694h0M302.2 691.6h0M302.5 691h0M303.1 693.6h0M304.1 694h0M304.7 696.2h0M305.4 693h0M306.5 698.7h0M306.8 692.5h0M307.6 691.6h0M308.6 699.7h0M308.7 698.1h0M309.5 693.8h0M310.7 689.8h0M311.2 692.6h0M311.8 697.4h0M312.5 687.9h0M313.7 690h0M314.6 690.6h0M315.2 693.2h0M315.4 690.5h0M316.1 692.3h0M317.4 699h0M317.7 694.2h0M318.4 693.3h0M319.5 697.9h0M319.7 696.2h0M320.8 695h0M321.9 697.9h0M322.1 700.5h0M323 701.8h0M323.8 699.4h0M324.2 703.2h0M324.9 701.1h0M326.2 699.7h0M327 701.8h0M327.2 704.8h0M328.3 697.1h0M329 700.6h0M329.3 699.2h0M330.2 693.7h0M331.1 695.3h0M332 698.9h0M332.4 693.5h0M332.8 699.9h0M333.9 700.3h0M335 700.8h0M335.5 702.7h0M336.2 700.3h0M336.9 697.2h0M337.6 697.6h0M338.5 695.5h0M339.3 697.8h0M339.8 698h0M340.5 694.3h0M341.4 692h0M341.6 695.6h0M342.7 699.5h0M343.5 694h0M343.7 695.3h0M344.8 695.1h0M345.6 694.9h0M346.5 696.1h0M347.1 697.9h0M348 695.5h0M348.8 696h0M349 695.3h0M350.2 693.1h0M350.4 690.7h0M351.3 690h0M351.8 693.6h0M352.6 688.4h0M353.2 690.3h0M354.2 682.9h0M355.3 691.6h0M355.7 688.6h0M356.4 688.4h0M357.4 685h0M358.2 690.4h0M358.9 688.6h0M359.6 694h0M359.9 686.2h0M360.8 690.3h0M361.4 690.7h0M362.5 682.2h0M363.3 689h0M364.1 690.4h0M364.7 690.9h0M365.2 690.5h0M366.2 689.6h0M366.3 689.4h0M367.1 692.6h0M368 689.3h0M368.8 692.5h0M369.7 690.2h0M369.9 692.5h0M370.7 688.9h0M372 687.2h0M372.4 682.7h0M372.8 682.6h0M374 684.1h0M374.4 691.4h0M375 687.2h0M376 691.7h0M376.6 693.1h0M377.2 686h0M378.1 692.3h0M379.1 690.6h0M379.5 689.5h0M380.3 692.1h0M380.9 687h0M381.7 687.4h0M382.3 692.6h0M383.5 688h0M384 690.2h0M384.4 692.5h0M385.7 690.8h0M385.9 691.7h0M386.6 695.8h0M387.4 689.7h0M388.5 692h0M389.2 692.2h0M389.6 699.3h0M390.7 700.7h0M391.4 700.3h0M392.3 693.2h0M392.7 699h0M393.6 698.1h0M394.5 693.2h0M395.1 698.6h0M395.6 694.6h0M396.6 698.2h0M397.2 696.5h0M398 694.6h0M398.8 694.5h0M399.7 698.5h0M400 696.6h0M401 695.8h0M401.8 698.5h0M402.2 692.4h0M402.6 699.5h0M403.7 697.1h0M404.4 694.8h0M405 696.5h0M406.1 695.3h0M406.4 701.8h0M407 699.6h0M408.3 700.9h0M409.2 702.1h0M409.5 700.2h0M410.6 699.2h0M410.8 703.2h0M412 698.2h0M412.2 701.1h0M413 703.3h0M414 698.3h0M414.2 702h0M415.6 701.6h0M415.8 709.2h0M417 701.3h0M417.8 699.9h0M418.1 700.7h0M419.1 703.1h0M419.9 703.1h0M420.7 701.9h0M421 703.4h0M421.8 703.6h0M422.3 704.6h0M423.6 708.7h0M423.7 709.8h0M424.7 707.4h0M425.4 715.4h0M425.9 708.9h0M427.4 707.5h0M427.8 710.6h0M428.5 710.9h0M429.4 718h0M430.1 714.6h0M430.6 713.9h0M431.5 712.2h0M431.9 708.1h0M433 708.9h0M433.1 717h0M434.6 712.2h0M434.8 712.8h0M435.5 711.1h0M436.7 713.3h0M437 712.2h0M438.1 711h0M438.3 708.4h0M439.7 713.6h0M440.5 714.3h0M440.7 710.6h0M441.8 715.4h0M441.9 714.8h0M443.1 713h0M444 710.6h0M444.7 710.9h0M444.9 711.8h0M445.6 715.7h0M446.3 712.4h0M447.7 719.4h0M448.1 711.7h0M448.9 716.2h0M449.6 716.6h0M450.2 721.4h0M450.9 715.6h0M451.9 712.9h0M452.1 717.7h0M453.5 716.7h0M453.9 713.8h0M454.9 716.1h0M455.3 721.3h0M456.1 717.3h0M456.7 716.9h0M457.3 722.9h0M458.1 718h0M458.7 728.3h0M460 716.9h0M460.3 714.1h0M461 718.1h0M461.5 717.4h0M463 721.3h0M463 720.9h0M464.3 724.5h0M465.2 726.9h0M465.2 726.3h0M466.4 724.5h0M467.2 725.7h0M467.7 723.1h0M468.6 729.4h0M468.9 727.7h0M470 724.3h0M470.9 721.4h0M471 726.2h0M472.4 720.6h0M472.6 725.2h0M473.7 724.9h0M474.6 725.3h0M475 723.4h0M475.6 724.6h0M476.4 731.3h0M477.5 732h0M478.1 731.9h0M478.8 723.6h0M479.5 726.6h0M480.1 727.9h0M481.1 727.8h0M481.5 732.9h0M482.2 732.7h0M482.8 730.4h0M483.6 731.9h0M484.1 729.4h0M485.6 728.8h0M485.9 733.4h0M486.4 733.6h0M487 734.7h0M488.2 735.7h0M489.1 734.9h0M489.2 731.6h0M490.3 730.2h0M490.7 734.5h0M491.7 737.5h0M492.7 734.2h0M493.1 731.1h0M494.1 735.2h0M494.6 736.9h0M495 737.7h0M496.4 739.6h0M496.8 736h0M497.9 733.3h0M498.1 739.1h0M498.8 735.8h0M499.8 740.6h0M500.5 735.5h0M500.9 734.3h0M502.1 743.6h0M502.7 741.9h0M503.5 741.9h0M504 744.2h0M505.1 742.6h0M505.2 738.7h0M506 749.9h0M507 744.6h0M507.6 737.5h0M508.4 741.1h0M508.9 741.7h0M510.2 739.5h0M510.5 743.7h0M511.5 746.3h0M512.3 740.5h0M512.6 747.2h0M513.8 737.5h0M513.9 742.3h0M515 739.3h0M515.6 745.4h0M516.6 743.3h0M517.2 744.6h0M518.2 745.4h0M518.8 743.8h0M519 746.9h0M520 749.9h0M520.5 746.7h0M521.7 748.9h0M522 747.3h0M523 741.8h0M524 752.7h0M524.3 753.5h0M524.9 750.2h0M526.1 753.9h0M526.3 749.9h0M527.3 754.3h0M528.2 752.4h0M528.5 749.8h0M529.6 754.8h0M530.1 750.3h0M531.2 746.4h0M532 750.6h0M532.6 750.2h0M533.2 753h0M533.9 754h0M534.4 752.4h0M535 752.7h0M536.2 750.3h0M537.2 758.7h0M537.6 754.7h0M538.2 749.6h0M538.8 752.3h0M540.1 750.1h0M540.3 751.2h0M540.8 752.2h0M541.5 752.9h0M542.5 755.2h0M543.1 751.8h0M543.8 754.4h0M544.5 755.3h0M545.4 754h0M546.2 748.4h0M546.7 752.8h0M547.7 752.5h0M548.6 760.7h0M549 755.4h0M550.1 756.8h0M550.7 750.2h0M551.7 756.6h0M552.3 756.7h0M552.8 758.1h0M553.3 758.1h0M554.2 757.2h0M554.8 754h0M555.6 761.7h0M556.8 758.9h0M557.3 765.6h0M558.2 757.8h0M558.8 758h0M559.3 762.2h0M559.9 758.2h0M561.1 753.5h0M561.7 760h0M562.2 760.4h0M562.8 763.5h0M563.6 761.3h0M564.8 766.6h0M565.4 761h0M565.7 770.8h0M566.5 765.7h0M567.3 765.7h0M567.9 762.4h0M568.8 763h0M569.8 773.3h0M570.7 764h0M571.2 767.3h0M571.9 771.6h0M572.5 769.8h0M572.9 762.8h0M574.3 765.5h0M574.9 766h0M575.2 766h0M576.1 764h0M577 769.4h0M577.7 763.4h0M578.1 768.5h0M579.3 768.4h0M579.8 768.1h0M580.6 768.1h0M581.3 767.6h0M582.2 766.6h0M582.9 768.1h0M583.5 768h0M584.4 765.1h0M584.7 761.9h0M585.7 769h0M586.5 766.9h0M586.9 771h0M587.4 770.6h0M588.7 769.9h0M589.2 772.4h0M590.3 763.9h0M590.5 768.1h0M591.3 771.3h0M592.2 765.6h0M593 777.5h0M593.8 773.9h0M594.5 774.4h0M595 774.1h0M595.6 768.3h0M596.8 772.2h0M597 770.4h0M597.8 768h0M598.9 769.5h0M599.3 767.6h0M600 763.8h0M601 767.5h0M601.4 772.3h0M602.3 766.3h0M603.4 767.4h0M603.7 769.8h0M604.4 770.8h0M605.1 768.4h0M605.7 767.1h0M607 772.5h0M607.3 771.8h0M608 771.6h0M608.7 767.1h0M609.8 772.8h0M610.5 769.7h0M611.3 772.9h0M611.4 772.1h0M612.2 770.2h0M613.3 767h0M614.4 778.1h0M615 774.6h0M615.8 777.9h0M616 778.1h0M616.9 778.7h0M618 780.7h0M618.2 773.4h0M619.4 775.2h0M619.7 774.4h0M620.3 771.7h0M621.6 776.2h0M621.9 779h0M623 773.3h0M623.3 784.6h0M624 780.1h0M624.9 777.1h0M625.9 783.1h0M626.4 783.2h0M626.8 780.6h0M628 779.8h0M628.8 778.9h0M629.4 778.2h0M630 775.4h0M630.4 776.8h0M631.7 776.3h0M631.8 776.1h0M632.7 775.4h0M633.3 777.7h0M634.1 776h0M634.7 779.8h0M635.5 778.5h0M636.6 778.3h0M637 776.6h0M638 781.1h0M638.9 777.4h0M639.6 777.8h0M639.8 777.9h0M640.9 773h0M641.4 773h0M642.2 774.2h0M643.2 779.3h0M643.6 780.6h0M644.4 777.3h0M645.7 780.1h0M646.2 778.7h0M647 777.9h0M647.6 772.4h0M648 778.7h0M648.6 776h0M649.5 778.8h0M650.7 774.6h0M650.8 781.7h0M651.9 779.8h0M652.7 774.9h0M653.3 779h0M653.8 783.5h0M654.9 777.6h0M655.4 779.5h0M655.9 778h0M656.7 774.6h0M657.9 782.9h0M658.7 783.1h0M659.2 776.2h0M660 775.1h0M660.7 779.5h0M661.1 783h0M661.7 780.4h0M662.9 777.8h0M663.2 782.3h0M663.9 781.9h0M664.6 788h0M665.5 780.7h0M666.3 776.6h0M667.1 776.6h0M667.8 788.2h0M668.2 784.6h0M669.5 780.4h0M670.3 775.5h0M671 785.3h0M671.8 778.9h0M672.6 780.8h0M672.7 789.8h0M673.5 785.7h0M674.4 782.9h0M674.9 783.1h0M676 780.2h0M676.5 785.2h0M677.5 781.8h0M678 785h0M678.5 784.8h0M679.7 786.7h0M680.1 779.9h0M681.1 792.7h0M681.9 790.3h0M682 786.4h0M683.3 788.8h0M683.5 784.7h0M684.4 787.2h0M685.4 790.1h0M685.8 785h0M686.6 785h0M687.1 791.3h0M687.8 790h0M688.9 793.3h0M689.4 791.9h0M690.3 791.6h0M691.2 788.5h0M691.6 793.2h0M692.3 794h0M693.2 792.6h0M694 791.5h0M695.1 794.5h0M695.7 798.1h0M696.1 794.7h0M697 797.5h0M697.3 799.5h0M698.2 799.9h0M699 802.7h0M700.1 801h0M700.2 797h0M701.3 798.1h0M701.7 802.2h0M702.6 801.6h0M703.7 800.2h0M704.4 800.7h0M705.1 802.6h0M705.6 805.5h0M706.8 799.3h0M706.8 798h0M707.9 804.9h0M708.3 797.9h0M709.6 796.4h0M709.7 799.3h0M710.7 794.2h0M711.3 799.8h0M712.3 798.6h0M713.2 797.5h0M713.4 802h0M714.2 796.8h0M715.3 797.7h0M715.7 798.4h0M716.2 801.5h0M717.1 797.8h0M717.8 804h0M718.6 801.9h0M719.3 803.7h0M720 802.1h0M720.9 802.7h0M721.4 803.5h0M722.5 806.8h0M723.3 801.5h0M723.5 802.7h0M724.7 805h0M725 805.9h0M726 808.2h0M726.6 805.3h0M727.5 800.4h0M727.9 803.9h0M728.6 803.3h0M730 812.1h0M730.2 808.5h0M730.8 813.1h0M731.7 805.3h0M732.5 806.6h0M733.3 806.2h0M733.7 804.2h0M734.6 805.8h0M735.7 808h0M736.3 812.5h0M737 802.6h0M737.6 806h0M738.1 813.4h0M739.2 811.5h0M739.9 816.5h0M740.2 812.1h0M741.1 816.9h0M742 811.1h0M742.8 813.5h0M743.6 812.8h0M743.8 811.2h0M744.8 812.8h0M745.9 813.4h0M746.6 810.4h0M747.4 816.8h0M748 809.7h0M748.9 812.6h0M749.6 817.1h0M750.1 814.5h0M750.4 817.7h0M751.7 816.8h0M752 820h0M752.8 819.5h0M754 827.1h0M754.3 820.8h0M754.8 815.6h0M756.1 823.1h0M756.3 819.2h0M757.5 826.1h0M758.1 820.4h0M758.7 821.4h0M759.4 825h0M759.9 824.4h0M761 821.1h0M761.3 819.9h0M762 818.8h0M762.8 818h0M763.9 822.4h0M764.4 822.6h0M765.2 823h0M765.8 825h0M766.5 826.4h0M767.5 816.2h0M768.3 829.8h0M768.6 822.7h0M769.4 824.7h0M770 825.7h0M771.3 821.8h0M772.1 823h0M772.9 828.5h0M773.7 826h0M773.7 828.1h0M774.8 828.1h0M775.8 834h0M776.2 830.9h0M777.3 830.3h0M777.9 834.7h0M778.4 832.6h0M779.1 832.1h0M779.8 833.7h0M780.4 830.7h0M781 833.3h0M781.9 832.7h0M783.1 835.6h0M783.2 837.7h0M784.3 836.7h0M785.3 829.8h0M785.4 836.5h0M786.5 839.5h0M787.3 838.4h0M787.5 837.4h0M788.8 838.7h0M789.4 835.8h0M790.3 839.5h0M791 842.4h0M791.3 841.5h0M791.9 835.6h0M793 842.2h0M793.9 837.6h0M794.6 838.1h0M795.1 841.9h0M796.1 840.2h0M796.6 844h0M797 848.2h0M797.8 843h0M799.1 837.5h0M799.4 843.1h0M800.1 850.2h0M801 844.4h0M802 842.1h0M802.6 848.7h0M803.2 850.7h0M803.8 847.6h0M804.4 845.9h0M805.5 850.6h0M806.2 851.6h0M806.9 851.7h0M807.9 856.7h0M808.1 855.2h0M809.3 852.1h0M809.7 849.4h0M810.7 854.3h0M811.2 853.8h0M811.8 859.8h0M812.9 856.7h0M813.7 857.9h0M814.2 857.4h0M814.5 857.9h0M815.2 859.4h0M816.3 863.2h0M817.1 856.2h0M817.3 858h0M818 865.8h0M819.3 865.7h0M819.9 864.6h0M820.7 866.8h0M821.1 866.3h0M822.3 857.5h0M822.6 865.4h0M823.1 859.5h0M824.3 863.3h0M824.9 865.4h0M825.6 867.5h0M826.3 871.5h0M827.5 867h0M828.1 867.5h0M828.8 866.5h0M829.2 869.9h0M829.8 872.3h0M831 873.2h0M831.5 872.5h0M831.8 873h0M833.3 871h0M833.7 869.6h0M834.2 875.9h0M835.2 877h0M835.7 873.7h0M836.7 875.8h0M837.1 882.3h0M838 873.1h0M838.4 871.6h0M839.8 877.7h0M840.3 875.4h0M840.7 875.3h0M842 880.6h0M842.6 872.2h0M843.5 879.4h0M843.8 879.1h0M844.6 874.4h0M845 880h0M846.1 877.4h0M846.7 880.3h0M847.6 883.3h0M848.2 876.3h0M849 880h0M850.1 881.6h0M850.6 878.5h0M850.9 879.4h0M851.6 877.4h0M852.2 879.6h0M853.7 881.9h0M853.8 880.6h0M855 883.2h0M855.3 884.8h0M856.3 883.9h0M857.2 889.1h0M857.4 889.2h0M858.8 884.4h0M859.1 885.2h0M860 883.1h0M860.5 881.2h0M861.3 888.1h0M862.1 882.6h0M863 896.9h0M863.3 888.8h0M864.3 893.1h0M865.1 888.6h0M866.1 889.4h0M866.3 883.8h0M867.1 889h0M868.2 889.4h0M868.7 890h0M869.6 893.4h0M870.4 885h0M870.8 886.2h0M871.4 889.5h0M872.6 890.5h0M872.9 891.2h0M873.5 892.4h0M874.8 890.9h0M875 894h0M875.9 895h0M876.9 894.8h0M877.1 896h0M878.4 891.4h0M879.1 896.9h0M879.9 893.3h0M880.2 894.4h0M880.8 897.4h0M881.9 904.7h0M882.2 892.3h0M883 895h0M884.2 898h0M884.9 898.1h0M885.2 896.2h0M886 900.5h0M886.8 902.2h0M887.9 901.9h0M888 896.8h0M888.7 891.8h0M889.4 900.6h0M890.7 897.5h0M891.3 905.5h0M891.5 904.4h0M892.3 905h0M893 900.1h0M893.9 899h0M894.7 896.3h0M895.8 901.4h0M896.6 902.9h0M896.9 903.1h0M898 898.2h0M898.8 907.1h0M899.4 910.7h0M899.6 902.7h0M900.8 905.9h0M901.4 900h0M901.8 904.2h0M902.5 902.9h0M903.9 907.9h0M904.2 906.8h0M905.2 911.6h0M905.5 910.4h0M906.3 903.1h0M907.5 909.4h0M908.1 907.6h0M908.5 912.3h0M909 902.7h0M910.5 907.7h0M910.9 917.1h0M911.5 908.7h0M912.1 907h0M913.4 912.1h0M913.4 910.9h0M914.4 909h0M915.2 905.9h0M916.3 909.6h0M916.3 910h0M917 906.7h0M917.7 910.9h0M918.9 907h0M919.9 908h0M920.2 913.9h0M921 914.1h0M921.9 912.2h0M922.1 908.9h0M923.1 910.7h0M924.2 918.6h0M925 910.4h0M925 908.4h0M925.9 911.7h0M697 812h0M698.5 835h0M699.5 838h0M698 842h0M699 846h0M700 850h0M698.5 857h0M699.5 861h0M697.5 865h0M700.5 871h0M923.5 886h0" stroke="#2ca02c" stroke-width="5.2" stroke-linecap="round" fill="none"/>
<path d="M126.7 656.9h0M127.2 661.4h0M128 661.3h0M128.8 653.7h0M129.1 655.6h0M130.2 660.7h0M130.9 664.8h0M131.2 661.2h0M132 658.5h0M132.9 657.8h0M133.5 656.5h0M134.1 653h0M135.5 658h0M136 661.9h0M136.3 659.8h0M137.6 661.5h0M138.3 659.2h0M139.2 658.9h0M139.5 661h0M140.3 665.1h0M141.4 656.4h0M142.1 657.2h0M142.2 655.4h0M143.6 653.2h0M143.7 658.2h0M144.4 655.6h0M145.7 658.4h0M146.4 656.8h0M146.8 658.1h0M147.7 658.6h0M148 657.6h0M148.8 656.9h0M150.2 653.4h0M150.2 657h0M151.2 659.9h0M152 657.6h0M152.6 661h0M153.4 653h0M154 649.4h0M155.2 660.4h0M155.3 650.4h0M156.7 659.8h0M157.1 663.9h0M157.4 660.1h0M158.6 659.8h0M159.4 661.9h0M160.1 656.3h0M160.6 657.8h0M161.7 665.1h0M161.8 660.9h0M163.3 659.7h0M163.5 658.2h0M164.2 655.7h0M164.7 661h0M166.2 665h0M166.6 660.5h0M167.2 656.9h0M168.3 654.5h0M168.3 654.9h0M169.3 657.3h0M170.4 662.9h0M171.1 654.8h0M171.4 653h0M172.7 658h0M172.7 655.6h0M173.8 656.1h0M174.9 661.6h0M175.5 656.7h0M175.9 655.5h0M176.8 659.9h0M177.6 657.3h0M177.9 660.1h0M179 656.5h0M179.7 658h0M180.7 655.7h0M181.2 652.9h0M182.1 657.8h0M182.1 661h0M183.1 650.4h0M183.7 654.7h0M184.9 655h0M185.2 658.3h0M185.9 652.5h0M186.8 652.9h0M187.2 653.3h0M188.4 652h0M188.8 656.5h0M190.2 657.2h0M190.3 650.3h0M191.1 656.9h0M192.2 657.9h0M192.8 655.5h0M193.3 659h0M193.9 654.3h0M194.9 656.4h0M195.7 652.3h0M196.4 654.2h0M196.7 657.9h0M197.7 651.8h0M198.6 650.4h0M199.5 654.6h0M199.9 649h0M200.7 653.2h0M201.8 653h0M201.8 649.4h0M203.3 655.6h0M203.5 660.1h0M204.5 646h0M204.8 645.9h0M206.2 650.7h0M206.9 652.9h0M207 656.3h0M207.7 653h0M208.5 653.2h0M209.5 649.6h0M210.2 654.2h0M211.1 649.9h0M211.8 654.5h0M212.2 656.2h0M213.1 653.2h0M213.5 657.6h0M214.8 655.7h0M215.4 652.6h0M215.9 654.4h0M216.5 647.7h0M217.2 653.6h0M218.3 649h0M219.2 652.1h0M220 652.8h0M220.4 657.6h0M221.2 660.9h0M222.2 654.5h0M222.6 657h0M223 657.2h0M223.7 660.1h0M224.4 655.9h0M225.1 660.7h0M226.3 655.9h0M227.2 663.1h0M227.3 658.2h0M228.1 669.9h0M229.4 665.7h0M230.1 665.5h0M230.8 661.6h0M231 661.1h0M232 662.6h0M232.7 657.3h0M233.7 663.9h0M234.5 666.7h0M234.7 664.1h0M235.3 661.4h0M236.6 661.3h0M237.3 661h0M237.8 667.8h0M238.8 662.1h0M239.5 662.2h0M240.1 664.6h0M240.5 661.9h0M241.5 663.9h0M241.8 667.3h0M243.2 663.3h0M243.3 666.1h0M244.2 667.4h0M245.2 665.6h0M245.8 668h0M246.9 665.2h0M247 672.1h0M247.8 667.1h0M248.5 672.2h0M249.7 671.9h0M250.5 674.7h0M250.7 672.9h0M251.5 663.9h0M252 667.1h0M253.3 673.9h0M253.6 676.2h0M254.5 674.7h0M255.1 672.5h0M256.3 680.8h0M256.5 677.1h0M257.7 684.2h0M258.5 679.6h0M258.6 686.1h0M260 674.4h0M260.5 681.5h0M260.9 682.4h0M261.8 680.7h0M262.9 683.5h0M263.5 681.9h0M264.4 682.1h0M264.5 683.1h0M265.6 686h0M265.8 684.7h0M267.3 680.9h0M267.3 685.7h0M268.4 679.2h0M269.3 684.3h0M269.5 678.1h0M270.5 681.7h0M271.1 682.9h0M272 682.9h0M273.1 682.6h0M273.2 687.7h0M273.9 683.9h0M274.9 681.9h0M275.5 685.7h0M276.3 688.6h0M277.4 684.2h0M277.7 687.7h0M278.3 688.2h0M279.3 682.9h0M280.2 690.5h0M280.7 688.3h0M281.8 690.1h0M282 682.3h0M283.3 688.3h0M283.3 687h0M284.4 687h0M285.3 686.5h0M285.5 690.5h0M286.7 690.4h0M287.6 692.2h0M287.7 694.3h0M288.5 688h0M289.3 691.3h0M290.1 692.6h0M290.5 697.1h0M291.9 693h0M292.3 686.1h0M293 689.7h0M294.1 692.5h0M294.4 693h0M295.3 693h0M295.9 692.2h0M296.9 692.6h0M297.6 692.7h0M298.2 690.5h0M299.3 696.6h0M299.8 693.7h0M300.8 693.5h0M301.3 700.6h0M302 694.1h0M302.9 697.9h0M303.4 697h0M303.8 701.6h0M304.9 699.8h0M305.3 695.4h0M306.3 701h0M306.8 700.1h0M307.9 695.5h0M308.4 696.2h0M308.9 695.5h0M309.7 694.7h0M310.7 694.2h0M311.5 696h0M312.1 691.8h0M312.7 694.6h0M313.2 697.8h0M314.1 698.4h0M315.1 695.8h0M315.6 701.1h0M316.6 699.8h0M317.2 690.6h0M317.8 697.9h0M318.9 696.3h0M319.7 695.5h0M319.8 697h0M320.9 701h0M321.6 701.5h0M322.1 698.1h0M322.6 697.9h0M324 701.5h0M324.7 700.9h0M325.3 700.6h0M326.2 703.1h0M326.5 700.6h0M327.2 697.4h0M328.2 701h0M328.6 703.3h0M329.5 708.8h0M330.5 699.7h0M330.8 696.8h0M331.8 700.9h0M332.1 702.4h0M332.8 702.3h0M333.9 702.6h0M334.4 701.2h0M335 693.5h0M335.8 698.9h0M336.4 701.2h0M337.3 701h0M338 697.9h0M338.9 702h0M339.4 703.5h0M340.5 698.6h0M341.5 702.2h0M341.9 695.4h0M342.7 708.3h0M343 702.1h0M344.1 702.8h0M345.2 700.9h0M345.7 695.1h0M346.4 697h0M347 699h0M347.4 703.3h0M348.4 701.8h0M349.4 699.9h0M349.7 695.9h0M350.4 690.4h0M351.6 696.5h0M352.3 699.5h0M352.9 693.7h0M353.6 695.6h0M354 695.6h0M355.3 692.9h0M355.4 693.8h0M356.5 692.4h0M356.8 688.7h0M357.8 690.4h0M358.7 695.9h0M359.3 692.7h0M360.2 687.4h0M361 693.8h0M361.8 689.7h0M362.6 689.6h0M362.9 689.8h0M363.5 690h0M364.2 693.1h0M365.3 697.4h0M365.6 693.6h0M366.7 690.2h0M367.3 694.5h0M368 694.4h0M369.1 690.8h0M369.5 693.2h0M370 691h0M371 694.6h0M371.8 688.8h0M372.2 690.6h0M373.2 692h0M373.8 694.9h0M374.6 699.9h0M375.1 689.8h0M376.1 690.2h0M376.8 692.8h0M377.7 695.5h0M378.4 693.5h0M378.7 691.7h0M379.7 692.7h0M380.7 698.1h0M381.3 699.4h0M382.2 697.9h0M382.4 690.9h0M383.2 690.6h0M384 691.1h0M384.8 693.2h0M385.4 694.6h0M386.1 694.9h0M387.2 699.7h0M387.7 692.8h0M388.3 701.3h0M389.2 694.9h0M389.8 697.1h0M390.4 693.6h0M391 698.6h0M392 699.7h0M392.7 697.6h0M393.9 702.5h0M394.3 702.9h0M395.2 700.3h0M395.8 698.4h0M396.4 704.1h0M397.1 699h0M398.1 698.8h0M398.6 700.4h0M399.5 697.4h0M400.4 700h0M400.6 701.5h0M401.2 700.5h0M402.6 700.5h0M403.1 699.7h0M403.3 696.4h0M404.6 701.6h0M405 704.4h0M405.5 701.5h0M406.4 694.3h0M407.7 698h0M408 703.9h0M408.9 700.2h0M409.3 706.9h0M410.5 702.2h0M411.3 698.7h0M411.4 705.6h0M412.3 697.5h0M412.8 701.7h0M413.7 702.5h0M414.6 705.7h0M415.2 704.2h0M416.2 703.1h0M416.7 704.3h0M417.3 702.8h0M418.3 703.5h0M418.7 707.2h0M419.6 705.3h0M420.8 708.9h0M421 703.6h0M422.2 715.7h0M422.5 711.2h0M423.2 709.6h0M424.3 712.5h0M424.8 717.6h0M425.9 713.9h0M426.2 713.5h0M427 715.8h0M427.9 711.5h0M428.8 709.9h0M429.2 708.8h0M429.9 713.6h0M430.6 715.6h0M431.1 712.7h0M432.3 710h0M432.8 711.5h0M433.5 714.8h0M434.4 714.5h0M434.8 718.9h0M435.8 718.4h0M436.7 713.7h0M437 713.6h0M437.6 713.1h0M438.3 715h0M439.6 714.7h0M440.4 715.3h0M440.5 715.5h0M441.4 720.4h0M442.2 720.8h0M442.6 713.5h0M443.9 718.2h0M444.6 717.6h0M445.1 717.2h0M445.7 716.1h0M446.9 717.2h0M447.7 715.5h0M448 713.1h0M449 722.1h0M449.1 721.4h0M450.3 722.6h0M451 717.3h0M451.9 716.1h0M452.6 722h0M453.1 719.6h0M453.5 719.6h0M454.7 720h0M455.7 726.1h0M456 720.1h0M456.9 718.5h0M457.3 727h0M457.9 720.3h0M459 723.8h0M459.6 726.6h0M460.2 718.7h0M460.9 723.4h0M462.2 727h0M462.6 723h0M463 718.2h0M464.2 729.2h0M464.6 724.5h0M465.4 719.6h0M466.4 726.1h0M466.7 728.8h0M467.5 728.2h0M468.2 723.7h0M469.1 733.8h0M470.1 725.5h0M470.5 730h0M471.4 733.9h0M472.2 727.5h0M472.8 727.4h0M473.9 727.5h0M474.6 724.3h0M475.2 730.5h0M475.4 727.1h0M476.8 732.9h0M476.9 723.5h0M477.6 731.9h0M478.8 723.5h0M479.7 728.5h0M479.8 727.7h0M480.9 728h0M481.3 732.8h0M482 736.5h0M483 733.9h0M483.9 730.6h0M484.8 731.7h0M485 734.6h0M485.7 729.4h0M486.7 734.3h0M487.1 730h0M488.2 731.5h0M488.5 731.3h0M489.6 733.8h0M490.2 735.6h0M491.2 739.3h0M491.6 738.3h0M492.2 746.4h0M493.2 738h0M493.7 735.7h0M494.5 734.6h0M495.1 739.9h0M496.3 739.2h0M497 741.9h0M497.3 743.6h0M498.6 743.4h0M499.1 737.6h0M499.4 741.3h0M500.4 740.9h0M501.3 742.9h0M501.7 740.6h0M503 742.4h0M503.2 739.9h0M504.1 740.3h0M504.8 738.1h0M505.4 749.1h0M506 745.4h0M507 747.4h0M507.4 742.8h0M508.3 745h0M509 747.9h0M510.2 744.4h0M511 743.9h0M511.2 746.5h0M511.8 748.1h0M513 743.7h0M513.4 747.2h0M514.3 743.3h0M515.2 742.3h0M515.9 744.3h0M516.5 752.2h0M516.9 746.4h0M517.6 752h0M518.9 751.1h0M519 749.9h0M520.4 752.6h0M520.8 753h0M521.7 754.2h0M522.2 755.2h0M522.8 754.6h0M523.8 750.3h0M524.3 755.8h0M525.5 753.7h0M525.7 758h0M526.7 754.2h0M527.5 755.9h0M528.2 754.6h0M528.6 750h0M529.3 756.9h0M530.6 748h0M531.1 751.7h0M531.4 758.5h0M532.6 749h0M533.6 755h0M534.3 757.2h0M534.8 754.9h0M535.6 758.3h0M536.3 756.8h0M536.5 751.7h0M537.5 753.9h0M538.6 752.7h0M538.8 754.5h0M539.6 754.7h0M540.6 754.9h0M541 750.6h0M541.6 751.3h0M542.7 757.3h0M543.5 756.3h0M543.8 757.3h0M545.2 749.9h0M546 756.7h0M546 750.6h0M547.2 758.2h0M547.9 756.6h0M548.3 757.6h0M548.8 760.5h0M550.3 758.4h0M550.8 758.6h0M551.6 758.6h0M552 761.8h0M552.7 763.5h0M553.5 761.6h0M554 757.8h0M554.8 761.5h0M556 758.5h0M556.4 760.4h0M557.6 759.6h0M558.2 756.3h0M558.3 757.6h0M559.7 766.1h0M560.2 764.4h0M560.7 762.6h0M561.7 762.1h0M562.6 767.2h0M562.7 763.3h0M563.6 767.1h0M564.3 768.6h0M565 763.4h0M566.2 772.5h0M566.9 768.7h0M567.7 765.8h0M568.1 769.8h0M568.9 766.9h0M569.4 766.5h0M570.5 765.9h0M571 768.1h0M571.7 767.9h0M572.7 766.2h0M572.9 765.5h0M574 767.3h0M574.7 768.7h0M575.7 771.1h0M576 768.8h0M577.1 773.6h0M577.5 772.7h0M578.7 770.3h0M579.1 771h0M579.5 774.9h0M580.2 767.9h0M581.1 772.1h0M581.6 767.4h0M582.3 772.7h0M583 774h0M584.2 765.7h0M584.8 768.1h0M585.9 769.9h0M586.2 773.3h0M587.1 770.4h0M587.7 773.2h0M588.3 768.8h0M588.8 769.5h0M590.3 769.1h0M590.4 767.9h0M591.3 770.8h0M592.1 772.1h0M592.8 772.3h0M593.5 778.6h0M594.2 778.7h0M595.1 775.1h0M595.5 777.8h0M596.7 771.9h0M597.5 769.2h0M598.2 770.9h0M598.4 778.5h0M599.7 775.8h0M600.1 775.7h0M600.7 771.6h0M601.9 769.1h0M602.6 777.9h0M602.8 771.5h0M603.5 773.1h0M604.6 768.8h0M605.4 774.5h0M605.9 771.9h0M606.8 780.6h0M607.7 772.5h0M608.5 771.7h0M608.6 772.3h0M610 777h0M610.5 781.5h0M610.8 777.7h0M611.4 779.1h0M612.6 782.1h0M613.3 779.3h0M613.9 779.2h0M614.6 773.3h0M615.6 771.8h0M616.2 781.9h0M616.7 773.8h0M617.3 779.1h0M618.5 779.7h0M619.1 777.2h0M620.1 775.7h0M620.3 780.8h0M621 782h0M621.8 777h0M623.1 781.4h0M623.3 782.2h0M623.9 781h0M624.8 776.4h0M625.6 783.2h0M626.3 785.2h0M627.4 782.7h0M628.1 779.9h0M628.7 786h0M629.1 777.6h0M630.2 781.3h0M630.4 780.9h0M631.4 781.2h0M632.1 780h0M632.6 777.1h0M634 779h0M634.4 777.6h0M635.2 779.2h0M635.4 779.8h0M636.9 779.1h0M637 775.9h0M638.3 783h0M638.9 780.4h0M639 782.6h0M640.6 778.4h0M640.7 778.1h0M641.7 785h0M642.6 781.1h0M642.9 780.9h0M643.4 785.1h0M644.3 778.8h0M645.3 778.5h0M645.8 777.8h0M647 775.8h0M647.4 773.9h0M648 775.5h0M649.1 783.8h0M649.4 779.4h0M650 778.7h0M651.5 784h0M652.1 777.8h0M652.5 779.7h0M653.4 780.3h0M653.7 783.1h0M654.8 782.6h0M655.7 781.5h0M655.8 778h0M657.2 780.9h0M657.7 782.5h0M658.7 781.1h0M659 788.2h0M659.9 784.9h0M660.8 782.9h0M661.4 786.6h0M662.3 780.6h0M662.3 787.1h0M663.1 781.1h0M664.4 783.1h0M664.7 786.3h0M665.9 784.3h0M666.3 782.2h0M667.4 781h0M667.7 783.1h0M668.5 784.5h0M669.4 784.4h0M670.3 785.4h0M670.7 781.6h0M671.6 785.5h0M672.5 782.2h0M672.7 785.4h0M673.9 782.8h0M674.6 783h0M675.5 782.4h0M675.9 782.5h0M676.5 786.5h0M677 786.9h0M678 782.2h0M678.5 786.5h0M679.6 784.5h0M680.2 792.5h0M681.2 789.4h0M681.3 785.3h0M682.1 787.4h0M683.1 787h0M683.4 791.4h0M684.6 791.9h0M685.2 790.7h0M685.9 793.3h0M687 791.3h0M687.8 784.1h0M688.2 780.5h0M688.7 797.7h0M689.5 796.3h0M690.4 790.8h0M690.8 789.8h0M691.8 792.4h0M692.9 798.3h0M693.7 796.5h0M693.9 802.9h0M694.8 797.5h0M695.5 795.3h0M696.3 798.4h0M697.1 797.3h0M698 802.4h0M698.6 803h0M699.1 798.2h0M700.2 800.1h0M700.9 806.4h0M701 799h0M702.2 801.4h0M702.6 800.5h0M703.1 798.4h0M704 800.7h0M705 799.9h0M705.3 805.6h0M706.1 804.6h0M707.2 803.7h0M707.9 807.5h0M708.3 800.2h0M709 806.7h0M710.3 801.2h0M710.6 806h0M711.7 807.3h0M712.5 805.8h0M713.2 800.7h0M713.6 803.2h0M714.2 799.4h0M715.3 798h0M715.8 803.4h0M716.6 799.7h0M717.5 796.9h0M718.2 803.4h0M718.7 801.8h0M719.8 801h0M720.1 805.3h0M721.1 805h0M722 807.3h0M722.7 797.4h0M722.8 802.9h0M723.5 804.1h0M724.3 804.9h0M725.4 807.8h0M725.8 807h0M727 813.2h0M727.6 807h0M728.3 809.3h0M728.6 810.5h0M729.4 809.4h0M730.7 805.1h0M730.8 808.6h0M731.5 809.9h0M732.7 803.4h0M733.4 813.7h0M733.9 810.8h0M734.6 810.4h0M735.7 812h0M735.9 810.1h0M736.9 811.9h0M737.5 812.5h0M738.5 811.4h0M739.3 813.1h0M739.7 817.4h0M740.9 813.1h0M741.1 815.8h0M742 817.8h0M742.9 817.7h0M743.6 820.5h0M744.1 816.2h0M744.8 814.5h0M745.6 817.7h0M746.6 816.4h0M746.9 818.7h0M747.9 824.1h0M748.6 818.4h0M749.4 817.2h0M749.9 818.5h0M751.2 819.2h0M751.2 816.8h0M752.2 823.8h0M752.7 819h0M753.4 825.4h0M754.6 821.7h0M755 823.3h0M755.7 825.7h0M756.2 826.1h0M757.6 821.9h0M757.8 819.5h0M759 821.5h0M759.9 827.2h0M760.3 827.3h0M760.7 828.1h0M761.8 823.9h0M762 828.7h0M763.3 818.1h0M763.6 823.4h0M764.2 824.9h0M765.5 824.4h0M766.2 827.1h0M766.4 826.5h0M767.8 826.4h0M768.2 825.6h0M769.1 831.1h0M769.6 828.2h0M770.1 829.8h0M770.9 829.7h0M771.7 825.4h0M772.5 828.4h0M773.2 830.3h0M774.4 830.4h0M774.6 828.4h0M775.3 829.4h0M776.6 828.7h0M777.2 833.8h0M777.9 833.2h0M778.1 838.6h0M778.8 832.5h0M780.1 837.7h0M780.7 835.3h0M781 835.5h0M781.8 840.1h0M782.5 837.5h0M783.4 838.8h0M784.4 840.2h0M785.2 841.6h0M785.3 843.7h0M786.8 839.5h0M787.4 836.9h0M788.2 840.2h0M789 842.7h0M789.2 841.9h0M790.2 841.7h0M791.2 838.7h0M791.4 837.5h0M792 843h0M792.7 845.1h0M793.4 844.9h0M794.5 846.7h0M794.8 844.4h0M795.6 844.1h0M796.7 845.2h0M797.6 843.3h0M797.7 847.5h0M799.1 840.1h0M799.6 844h0M800.6 843.9h0M801.1 846.6h0M801.6 846.1h0M802.4 849.9h0M803 850.9h0M804 849.7h0M804.2 858.3h0M805.3 853.9h0M806.4 856.5h0M807.1 849h0M807.5 850.6h0M808.3 850.2h0M809.1 848.6h0M809.7 854.1h0M810 858.5h0M811 858.3h0M811.9 857.9h0M812.9 856.8h0M813 856.5h0M814.1 857.9h0M814.8 856.5h0M815.2 859.8h0M816 865.2h0M816.9 860h0M817.5 861.2h0M818.1 866.4h0M819 862.7h0M819.9 866.5h0M820.8 864.2h0M821.4 867.3h0M821.7 866.4h0M822.5 865.5h0M823.5 876.4h0M823.9 868.4h0M825.3 872.1h0M826.1 867.9h0M826.2 867.3h0M826.8 870.3h0M828.2 873.8h0M828.8 871.2h0M829.6 870h0M830.1 874.3h0M830.7 874.1h0M831.5 878.4h0M832.4 872.2h0M833.2 874.9h0M833.4 873.7h0M834.1 872.6h0M834.8 873.4h0M835.9 879.6h0M836.9 876.3h0M837.6 874.7h0M837.8 875.3h0M839 878.2h0M839.8 876h0M840.1 880.4h0M840.8 881.9h0M842 878.4h0M842.2 880.7h0M843.4 880.8h0M843.9 881.6h0M844.2 876.7h0M845.6 875.7h0M846 878.7h0M846.6 878.6h0M847.3 877.3h0M848.4 881.6h0M849.2 883.6h0M849.9 886.9h0M850.8 880.2h0M851.2 880.6h0M851.6 885.1h0M852.9 881.3h0M853.7 884.2h0M853.7 885.3h0M854.7 888.4h0M855.7 887.8h0M855.9 887.7h0M857.3 885.3h0M857.5 887.3h0M858.5 894.2h0M859 887.5h0M859.6 891.7h0M860.9 888.5h0M861.3 891.7h0M862.4 897.5h0M863 899.1h0M863.9 894.9h0M864.2 894.8h0M864.8 894.1h0M865.9 886.4h0M866.3 890.2h0M867.4 887.5h0M868.1 891.9h0M868.9 889.6h0M869 896.3h0M869.9 890.1h0M870.9 890.7h0M871.7 884.1h0M872.4 894h0M872.8 890h0M873.9 893.2h0M874.3 893.9h0M875 896.4h0M876.1 892.9h0M876.4 892.4h0M877.2 896.5h0M878.2 898h0M878.7 896.4h0M879.3 897.4h0M880.7 902.2h0M881.3 898h0M882 898.7h0M882.8 901.3h0M883.4 901.2h0M883.9 903.8h0M884.5 903.3h0M885.6 902.7h0M885.9 897.6h0M887 899.2h0M887.6 903.9h0M888.1 897.5h0M889.2 898.7h0M890.1 902.4h0M890.6 900.1h0M891.2 902.5h0M892 907.4h0M892.7 900.9h0M893.5 895.8h0M894 906.2h0M895.1 900.1h0M895.7 903.5h0M896.3 905.1h0M897.3 904.4h0M897.8 908.1h0M898.3 905.3h0M899.4 907.2h0M900.3 904.7h0M900.2 903.3h0M901.5 909.7h0M901.9 910.7h0M902.7 906.3h0M903.3 906.1h0M904.5 910.3h0M905.2 907.2h0M905.5 907h0M906.8 902.2h0M907 910.4h0M908.2 908.5h0M908.8 908h0M909.2 914.4h0M909.9 915.1h0M910.9 908.4h0M911.7 911h0M912.1 910.8h0M912.8 910.8h0M914.1 918.1h0M914.8 915.6h0M915.5 918h0M915.7 910.7h0M916.9 909h0M917.2 910.4h0M918.4 913h0M919 914.3h0M919.5 913h0M920.7 916.4h0M921.2 915.1h0M921.7 918.3h0M922.2 913.4h0M923.2 916.1h0M923.8 914.9h0M924.8 911.1h0M925.3 913h0M926 915.5h0M494.5 753.5h0M496 754.5h0" stroke="#dc282d" stroke-width="5.2" stroke-linecap="round" fill="none"/>
<path d="M126.2 657.2h0M127.9 652.7h0M128.3 665.4h0M129.3 659.5h0M130.5 657.8h0M131.8 652.9h0M132.7 665h0M133.2 662.3h0M134.8 657.9h0M135.6 665.8h0M136.7 666.6h0M137.4 663h0M138.1 658.6h0M139.8 661.8h0M140.7 660.1h0M141.5 659.9h0M142.1 665.3h0M143.2 662.6h0M144.9 663.3h0M145.4 666.3h0M146.8 663.6h0M147.2 656.3h0M148.4 667.2h0M149.2 656.1h0M150.3 661.2h0M151.3 659.5h0M152.2 664.2h0M153.7 659.8h0M154.3 657.3h0M155.7 663.3h0M156.5 664.9h0M157.3 659.2h0M158.8 666.3h0M159.9 655.1h0M160.5 659.6h0M161.4 651.9h0M162.7 662.3h0M163.7 659.1h0M164.3 655.9h0M165.6 659h0M166.5 659.8h0M167.9 660.2h0M168.3 658.7h0M169.3 658.5h0M170.3 660.6h0M171.5 661.5h0M172.3 658.2h0M173.8 661.4h0M174.5 656.9h0M175.6 663.2h0M176.2 661.6h0M177.5 661.4h0M178.5 655.9h0M179.8 656.5h0M180.7 656.5h0M181.8 658.9h0M182.8 663.5h0M183.6 656.3h0M184.5 655.6h0M185.5 651.3h0M186.4 653.9h0M187.9 657.2h0M188.8 652.5h0M189.8 657.1h0M190.3 657h0M191.3 654.3h0M192.2 660.2h0M193.7 654.3h0M194.5 650.1h0M195.8 657.8h0M196.3 658.3h0M197.2 654h0M198.8 653.4h0M199.8 657.5h0M200.7 653.9h0M201.8 655.9h0M202.3 657.6h0M203.6 651.4h0M204.2 657h0M205.2 657.2h0M206.9 653.8h0M207.4 655.4h0M208.2 654.1h0M209.6 654.3h0M210.4 654.2h0M211.6 658.1h0M212.6 654.2h0M213.9 655.2h0M214.2 659.1h0M215.6 659.4h0M216.5 655.9h0M217.4 656.3h0M218.7 657.4h0M219.9 657h0M220.8 665.6h0M221.5 656h0M222.7 658.5h0M223.9 663.2h0M224.4 655.9h0M225.7 660.5h0M226.3 657h0M227.5 660.5h0M228.7 660.7h0M229.7 666.5h0M230.7 661.8h0M231.7 662.7h0M232.8 667.5h0M234 662.3h0M234.6 667.4h0M235.3 664.4h0M236.2 669.2h0M237.4 671.7h0M238.4 668.5h0M239.7 672.3h0M240.5 669.9h0M241.2 665.3h0M242.5 672.8h0M243.3 667h0M244.5 666.2h0M245.8 672.3h0M246.2 675h0M247.6 673.2h0M248.8 668.7h0M249.4 677.2h0M250.7 672.5h0M252 674.6h0M252.7 675h0M253.4 673h0M254.5 675.4h0M255.5 667.4h0M256.6 674.5h0M257.3 679.4h0M258.5 681.7h0M259.5 685.4h0M260.9 681.8h0M261.4 681.1h0M262.8 683.8h0M263.3 685.8h0M265 682.5h0M265.4 685h0M266.6 680.1h0M268 689.7h0M268.8 682.7h0M269.5 683.8h0M270.8 681.5h0M271.4 684.6h0M272.3 689.8h0M273.3 687.8h0M274.7 692.8h0M275.8 679.6h0M276.8 685.9h0M277.4 685.6h0M278.2 692.4h0M279.3 693.4h0M280.8 688.8h0M281.8 687h0M282.5 685.4h0M283.2 688.1h0M284.3 687.7h0M285.9 687.9h0M286.3 693.9h0M287.8 693.7h0M288.7 692.5h0M289.7 692.5h0M290.7 693.4h0M291.7 693.2h0M292.9 701.3h0M293.5 695.2h0M294.9 701h0M295.8 696.5h0M296.8 696h0M297.9 696.5h0M298.4 690.9h0M299.7 696.1h0M300.7 694.3h0M301.6 692.6h0M302.9 693.9h0M303.8 696.6h0M304.7 699.1h0M305.5 697.5h0M306.9 701.4h0M307.8 698.4h0M308.7 703.9h0M309.3 701.4h0M310.6 700.1h0M311.3 697.2h0M312.8 698.2h0M314 699.2h0M315 696.8h0M315.8 696.8h0M316.4 697h0M318 697.8h0M318.6 699.7h0M319.5 703.4h0M320.7 707.4h0M321.3 700.3h0M322.4 702.3h0M323.9 699.1h0M324.4 707.4h0M325.4 704.4h0M326.5 704.6h0M327.9 702.9h0M328.5 705.3h0M329.6 702.2h0M330.6 700.9h0M331.3 703.5h0M332.3 701.3h0M333.4 697.2h0M334.8 699.3h0M336 701h0M336.6 703.1h0M337.6 702.6h0M338.6 699.8h0M339.8 698.2h0M340.8 703.9h0M342 698.6h0M342.6 699.6h0M343.3 700.2h0M345 698.6h0M345.5 701h0M346.9 699.2h0M347.6 697.5h0M348.4 693.8h0M349.6 698.3h0M350.9 697.7h0M351.9 691.2h0M353 691.9h0M353.7 694.5h0M354.8 694.8h0M355.8 693.8h0M356.5 692.9h0M357.9 692.2h0M358.8 695.4h0M359.5 690.3h0M360.7 692.4h0M361.9 687.8h0M362.6 694.3h0M363.4 685.3h0M364.6 700.7h0M366.1 692.3h0M366.5 700.9h0M367.6 693.9h0M368.8 694.4h0M369.7 699.7h0M370.3 690.8h0M371.3 696h0M373.1 694.8h0M373.6 694.1h0M374.5 691h0M375.4 696.1h0M376.4 690.5h0M378 691.6h0M378.8 696.5h0M379.6 691.4h0M380.9 693.5h0M381.4 696.1h0M382.9 698.7h0M383.5 694.5h0M384.5 696.8h0M386 701h0M386.5 698.2h0M387.4 697h0M388.4 699.4h0M390.1 694.1h0M390.8 698.4h0M391.9 700.4h0M392.4 700.7h0M394.1 704.2h0M395 696.3h0M395.9 700h0M396.5 698.8h0M397.6 699.9h0M398.7 699.1h0M399.6 698.9h0M400.7 703.5h0M402 701.6h0M402.9 695.2h0M404.1 706.2h0M404.4 704.3h0M405.3 703.2h0M406.9 703.1h0M408.1 709.7h0M409 702.8h0M409.3 706.3h0M411 701.8h0M412.1 702.1h0M413 698.5h0M414.1 701h0M414.6 708.4h0M416.1 703.5h0M417 707.2h0M418.1 706h0M419 708.2h0M420 709.6h0M420.9 707.8h0M422 709.4h0M423 707.4h0M424 712h0M425.1 712.3h0M425.5 715.8h0M426.6 712.5h0M427.9 714.2h0M428.7 720.6h0M429.4 717.1h0M430.8 710.6h0M432 720.1h0M432.8 714.9h0M433.7 713.6h0M434.7 713.5h0M435.9 721.2h0M436.9 718.3h0M437.9 718.7h0M438.7 713.3h0M440 715.3h0M440.4 717.3h0M442 724.7h0M443 717.5h0M443.7 714.4h0M445.1 715.1h0M445.4 714.2h0M446.6 715.4h0M447.7 717.4h0M448.6 714.9h0M450 717h0M450.7 718.3h0M452.1 720.1h0M452.6 722.2h0M453.4 721.6h0M455.1 719.5h0M456 726.4h0M457 720.9h0M457.6 729.2h0M458.6 719.9h0M459.8 726.1h0M461.1 726.6h0M461.4 722.8h0M462.4 719.8h0M463.5 729.3h0M464.8 728.9h0M466 730h0M466.8 728.9h0M467.6 725.3h0M468.8 726.4h0M470.1 724.7h0M471.1 727.1h0M472 726.1h0M472.8 723.1h0M474.1 729.7h0M474.4 728.3h0M475.5 731.1h0M476.6 729.5h0M478.1 730.7h0M478.4 733.9h0M479.4 730h0M480.7 731.9h0M482.1 729.9h0M482.5 729.1h0M483.4 732.4h0M484.8 733.2h0M485.5 733h0M486.4 735.2h0M488.1 733.2h0M489.1 738.6h0M489.6 737.7h0M490.5 739.8h0M491.8 737.6h0M492.6 736h0M493.4 737.2h0M495 734.6h0M495.9 742.3h0M496.8 742.4h0M497.4 739.5h0M499.1 745.2h0M499.9 738.8h0M500.9 735.1h0M501.4 743.7h0M502.7 738.3h0M503.8 741.3h0M504.5 740.9h0M505.6 744.2h0M507.1 750.3h0M507.9 750.1h0M508.7 749.5h0M510.2 746.8h0M510.6 744.2h0M512.1 744h0M512.5 748.8h0M513.9 752.7h0M514.6 745.7h0M516.2 746.3h0M516.8 748.5h0M518 751h0M518.6 745.8h0M519.6 745.3h0M520.7 754.2h0M521.9 754.2h0M522.9 750.5h0M524.1 752.4h0M524.7 752.2h0M526.2 756h0M527 751.2h0M527.4 751.2h0M529.1 750.5h0M530 756h0M531 750h0M532.1 753.5h0M532.7 755.9h0M533.4 758.1h0M535 756.9h0M536 755.2h0M536.9 758.8h0M537.6 749.6h0M539 759.6h0M539.8 761h0M541 757h0M541.5 757.6h0M543.2 754h0M543.5 752.6h0M544.8 762.4h0M546.1 762.9h0M546.7 758.4h0M547.8 752.3h0M548.6 763.4h0M549.6 752.8h0M550.8 762.2h0M551.7 759.5h0M552.5 761.9h0M553.9 763.6h0M554.7 769h0M555.8 760.5h0M556.7 765.2h0M558 764.7h0M558.9 771.8h0M560.2 761.4h0M561 766.4h0M561.6 764.7h0M563.2 769h0M563.6 767.6h0M565.1 765.4h0M566.1 771.3h0M567.1 762.1h0M567.5 769.1h0M568.6 766.5h0M569.7 770.3h0M570.5 767.8h0M571.9 770.2h0M573.2 764.3h0M573.6 770.3h0M574.9 772.4h0M576.1 771.6h0M576.7 768.9h0M577.9 776.2h0M578.5 774.7h0M579.7 770h0M581.2 766.3h0M581.9 773.8h0M582.5 776.4h0M583.6 766.9h0M585.1 767.1h0M585.6 769.2h0M586.7 773.7h0M587.6 770.6h0M589 773.7h0M589.9 776.2h0M590.5 772h0M592 772.2h0M593 772.9h0M593.6 773.7h0M594.8 774.6h0M596.1 774.8h0M597.2 775.7h0M597.8 772.4h0M598.6 777.3h0M599.7 773.3h0M600.9 771.6h0M601.5 771.2h0M602.5 776.1h0M603.6 775.8h0M605.1 771.7h0M605.8 776.2h0M607 777.5h0M607.6 777.8h0M608.9 780.7h0M610.1 777.5h0M610.6 777.9h0M611.9 777.3h0M612.8 780.5h0M613.8 778.8h0M615 775.3h0M616.2 777.8h0M617.1 782.1h0M617.7 784.5h0M619 783.5h0M620.1 779.6h0M620.5 779.2h0M621.7 779h0M622.9 789.9h0M623.9 784.3h0M625 782.4h0M626.2 782h0M626.6 781.9h0M627.5 782.1h0M628.8 777.6h0M629.8 783.7h0M631.2 777.8h0M632.1 782.3h0M633.2 781.9h0M633.9 782.4h0M634.7 780.2h0M635.9 783.1h0M637 782h0M637.6 781.4h0M639.1 781.6h0M640.1 785.9h0M640.9 785.5h0M642.1 785.7h0M643 782h0M644 779.1h0M645.2 781.4h0M646 781.2h0M647.2 780.1h0M648.1 781.1h0M648.5 780.4h0M649.7 781.8h0M650.8 783.8h0M651.7 779.4h0M653.1 784.8h0M653.6 781.7h0M655.2 783.8h0M655.8 781.6h0M657.3 780.7h0M657.7 787.1h0M658.6 784.9h0M659.7 786.3h0M660.7 780.8h0M661.7 784.6h0M662.8 783.7h0M663.9 785.2h0M665.1 784.4h0M666.1 780.6h0M667.2 782.2h0M667.9 785h0M669.2 781.6h0M669.8 785.7h0M670.9 785.9h0M672.1 784.7h0M672.7 785h0M674 785.6h0M674.9 784.8h0M676 790.1h0M677.1 790.6h0M678.2 790.6h0M679 793.5h0M679.9 785.9h0M680.7 784h0M682 792h0M682.8 787h0M684 788.7h0M684.6 786h0M686.1 793.1h0M687.1 792.7h0M687.6 791.6h0M688.9 790.7h0M689.7 797.6h0M690.7 792.4h0M691.5 792.5h0M692.7 800.7h0M694.1 805h0M695 804.3h0M696.1 810.8h0M696.7 816.5h0M697.9 802h0M699.1 803.5h0M699.8 804.8h0M701 797.7h0M702.2 806.5h0M702.8 802.4h0M703.7 807.6h0M704.7 805.7h0M706 797.2h0M707 798h0M707.9 803.7h0M708.7 801.9h0M710 803.1h0M710.9 802.3h0M712.2 801.1h0M712.9 802.4h0M714.3 802.7h0M714.8 803.3h0M716.2 802.7h0M717 804.8h0M717.8 808h0M718.7 803.9h0M719.6 800.7h0M721.1 802.4h0M722.3 805.9h0M723.2 804.8h0M724.1 803.4h0M724.7 810.6h0M725.6 809.5h0M727.1 808.7h0M728.1 808.5h0M729 816.4h0M730.1 808.1h0M730.9 807.4h0M732.2 812.2h0M733.1 817.4h0M734.1 811.2h0M734.6 811.6h0M736.2 815.8h0M737.2 815.9h0M738.2 813.4h0M739.1 816h0M740.1 811.2h0M741.3 820.6h0M741.8 816.4h0M742.8 811.8h0M743.8 813.4h0M744.7 821.3h0M746.2 820.7h0M746.6 822.3h0M748.1 817.5h0M748.8 819.6h0M749.7 821.1h0M751 825.4h0M752 822.6h0M752.8 827.7h0M753.8 824.9h0M754.8 825.2h0M755.8 827h0M756.8 826.3h0M758.1 824.2h0M758.6 826.1h0M759.7 825.3h0M761.3 828.7h0M762.1 823.2h0M762.9 826.7h0M764 824h0M764.8 828.9h0M766 824.8h0M767.3 826.4h0M768.4 826h0M768.9 832.1h0M770 824.9h0M771 825.9h0M771.9 833h0M773.1 831h0M774.3 830.3h0M775.1 835h0M775.7 834.9h0M777.3 833.9h0M777.9 839.2h0M778.7 837.1h0M780 844.1h0M780.8 835.8h0M782.2 841h0M783 843h0M784 842.2h0M784.9 840.2h0M786.2 845.6h0M787.2 842.6h0M788.3 848.8h0M788.8 845.6h0M790.3 847.6h0M791.2 842.3h0M791.8 840.1h0M793.1 844h0M794 850.7h0M795 840.7h0M795.8 843h0M796.6 848.7h0M797.7 848.2h0M798.6 842.2h0M800.3 842.1h0M801.3 839.1h0M802.2 853h0M803.3 847.5h0M804.1 848.5h0M805.3 848.2h0M805.6 857.6h0M806.6 854h0M807.8 857h0M809.3 859.5h0M809.8 864.2h0M811 854.9h0M812.2 859h0M813.2 860.6h0M813.7 858.4h0M815.3 863.1h0M815.9 866.5h0M816.7 866.9h0M817.9 866.6h0M819.2 867.3h0M820 862.9h0M821.2 873.1h0M821.7 875.5h0M822.7 865.5h0M823.8 866.6h0M825.2 872.4h0M825.7 873.7h0M826.7 875.2h0M828.1 872.2h0M828.8 878.8h0M830.4 872.4h0M830.8 876.7h0M831.6 870.3h0M832.8 880.9h0M834.4 869.4h0M835.3 878.2h0M835.9 875.8h0M837.4 883.7h0M837.9 879.5h0M839.4 880.3h0M840.4 883.4h0M841.4 878.5h0M841.9 879.4h0M842.6 879.9h0M844.3 875.9h0M845.4 880.9h0M845.8 881h0M846.8 883h0M847.6 886.5h0M849.1 878.6h0M849.8 885.5h0M851.2 877.6h0M852.3 885.5h0M852.7 885.9h0M854 885.5h0M855.2 887.8h0M855.8 889.3h0M857.2 893h0M858 890.2h0M858.8 894.6h0M859.8 889.7h0M860.7 890.7h0M862.2 886.9h0M863.2 894.4h0M864.1 892.3h0M865.4 891.4h0M865.7 889.7h0M867.4 893.8h0M867.8 893.8h0M869.3 893.6h0M870 891.4h0M871 893.4h0M871.8 891.7h0M872.8 896.3h0M874.1 893.6h0M875 897.5h0M876.2 896h0M877.1 897.6h0M877.8 899.6h0M879.4 900.7h0M879.9 901.6h0M880.9 899.5h0M882.3 901h0M883 898.6h0M884.4 904.3h0M885.4 906.6h0M886.4 903.4h0M886.8 902.5h0M887.8 904.9h0M889.1 905.7h0M889.7 904.2h0M890.7 903.7h0M891.7 906.3h0M893.4 902.4h0M894.3 901.1h0M895.1 903h0M896 904.4h0M897.1 900.5h0M898.3 907.6h0M899 903.7h0M900 909h0M901.3 909.6h0M902.5 910.9h0M903.4 906.7h0M904.2 903.8h0M905.5 905.6h0M906.1 906.1h0M907.4 907.1h0M908 908.3h0M909 909h0M910.1 918.1h0M910.7 908.5h0M911.8 912.8h0M913.3 916.8h0M914.4 910.2h0M914.9 913.3h0M916.4 915.7h0M917 916.8h0M918.2 916h0M919.5 914.6h0M920.2 915.1h0M921 918.1h0M922.1 915.5h0M923.3 916h0M924.2 916.4h0M925.2 921.2h0M926.4 916.1h0" stroke="#1874cd" stroke-width="5.2" stroke-linecap="round" fill="none"/>
<path d="M126.3 1200.8h0M128.2 1200.1h0M130.2 1207.1h0M132.1 1212.4h0M134.5 1215.8h0M136.7 1216.1h0M138.4 1214h0M140.5 1217.9h0M142.6 1213.6h0M144.8 1221.9h0M146.1 1221.3h0M148.8 1223.8h0M150.4 1228.9h0M152.9 1229.1h0M154.7 1237.5h0M156.3 1237.7h0M158.6 1238.5h0M160.5 1239.1h0M162.5 1236.2h0M164.7 1242.2h0M167.1 1237.8h0M168.8 1239.3h0M170.6 1238.8h0M172.7 1242.1h0M175.2 1244.1h0M176.5 1244.9h0M178.6 1258.4h0M180.9 1246.3h0M183.2 1248.6h0M184.7 1257.5h0M186.9 1240.8h0M188.9 1234.1h0M190.7 1249h0M193.3 1252h0M195.1 1254h0M197.1 1244.4h0M198.9 1252h0M201.3 1248.5h0M203.2 1241.9h0M205.6 1234.9h0M207.3 1230.8h0M209.5 1237.1h0M211.1 1238h0M213 1237.5h0M215 1246.8h0M217.8 1247.4h0M219.5 1252h0M221.1 1254.9h0M223.5 1258.8h0M225.1 1246.9h0M227.8 1264h0M229.3 1254.2h0M231.2 1249.1h0M233.6 1241.9h0M235.9 1250.8h0M237.7 1253h0M239.5 1262.6h0M241.5 1258.7h0M243.7 1266.9h0M246.1 1261h0M247.7 1257.6h0M250.1 1263.2h0M251.5 1245.9h0M253.8 1253.6h0M256 1254.3h0M257.7 1258.9h0M259.8 1258.6h0M262.2 1263.4h0M264.3 1269.7h0M266 1262.7h0M267.8 1257.2h0M270 1261.1h0M272.2 1258.2h0M273.8 1264h0M276.5 1261.8h0M277.8 1261.3h0M280.5 1272.2h0M282.5 1270.9h0M284.5 1258.7h0M286 1276.9h0M288.7 1274.4h0M290.4 1269.3h0M292.1 1270.1h0M294.5 1260.7h0M296.7 1252.6h0M298.7 1262.1h0M300.3 1265.3h0M302.6 1259h0M304.8 1261.8h0M306.1 1273h0M308.6 1283.6h0M311 1277.2h0M312.9 1288.8h0M314.9 1288.1h0M316.4 1277.4h0M318.5 1292.2h0M320.3 1287.2h0M322.7 1301.5h0M324.6 1301.3h0M326.5 1298.3h0M328.9 1298.5h0M330.5 1291h0M333.1 1286.9h0M334.9 1283.4h0M337.1 1286.2h0M339.3 1295.6h0M341 1298.8h0M343.3 1287.6h0M344.7 1285.7h0M347.1 1289.3h0M349.1 1286.5h0M351.4 1292.6h0M353.4 1288.6h0M354.9 1291.6h0M356.8 1294h0M359.3 1294.3h0M361.3 1296.3h0M363.1 1297.5h0M365 1296.9h0M367.5 1290.4h0M369.3 1308.2h0M371.1 1311.8h0M373 1310.9h0M375.5 1303.2h0M377.1 1304.1h0M379.7 1291.3h0M381.6 1291.1h0M383.7 1289.3h0M385.6 1295h0M387.5 1289.1h0M389.7 1294.3h0M391.2 1296.7h0M393.6 1296.6h0M395.4 1297.3h0M397.6 1294h0M399.4 1298h0M401.7 1309.1h0M404.2 1305.5h0M406.1 1316.6h0M407.8 1312.5h0M409.7 1315.5h0M411.6 1313.2h0M413.7 1318.6h0M415.9 1322.1h0M417.6 1318.4h0M420.4 1317.8h0M421.9 1317h0M423.9 1327.1h0M425.7 1323.5h0M428.5 1328.3h0M430.2 1332.2h0M432.3 1329.4h0M433.8 1325.7h0M436.4 1328.7h0M438.3 1323.1h0M440.2 1326.6h0M442.5 1320.1h0M443.9 1317.7h0M446.5 1319.6h0M448.4 1326.1h0M450.1 1327.5h0M452.3 1321.5h0M454.3 1323.1h0M456.1 1324.3h0M458.4 1323h0M460.6 1332.4h0M462.4 1336.2h0M464.6 1343.9h0M466.5 1345.3h0M468.9 1342.1h0M470.3 1343h0M472.3 1353.5h0M474.8 1336.8h0M477 1335.9h0M479.1 1333.2h0M481.1 1340h0M482.8 1342.3h0M484.6 1347h0M486.8 1349.7h0M488.6 1354.4h0M490.8 1352.8h0M493 1355.1h0M495 1360.1h0M496.6 1366.3h0M498.7 1362h0M500.8 1357.7h0M503 1356.8h0M505.3 1361.1h0M506.8 1358.6h0M508.8 1368.4h0M510.9 1357.3h0M513.6 1356h0M515.1 1363.8h0M517.6 1366.3h0M519.4 1374.7h0M521.3 1371.3h0M523 1371.2h0M525.4 1375h0M527.6 1365h0M529.2 1366.5h0M531.3 1370.5h0M533.4 1371.8h0M535.8 1371.8h0M537.9 1365.9h0M539.9 1384.7h0M541.3 1373.1h0M543.9 1375.5h0M545.2 1372.6h0M548 1378.6h0M549.7 1370h0M552 1369.5h0M553.7 1381.7h0M555.4 1384.2h0M557.4 1398.1h0M559.5 1387h0M561.8 1387h0M563.7 1378.2h0M565.7 1372.7h0M567.6 1387.2h0M570.2 1387.6h0M572.3 1392.5h0M573.8 1398.1h0M575.7 1398.5h0M577.8 1403.7h0M579.9 1399.4h0M582.4 1399.6h0M584.4 1394.5h0M586.2 1389.6h0M588.3 1401.9h0M590.1 1399.8h0M592.1 1397.4h0M594.5 1406.9h0M596.5 1403.5h0M598.2 1421.7h0M600 1412.3h0M602.1 1424.5h0M604.5 1418.8h0M606.7 1410.3h0M608.8 1406.3h0M610.2 1414.2h0M612.1 1418.1h0M614.8 1425.6h0M616.3 1423.2h0M618.9 1419.7h0M620.6 1413.5h0M622.4 1416.1h0M624.5 1427.1h0M626.5 1430.6h0M628.4 1428.9h0M630.6 1425.7h0M632.6 1435.2h0M634.6 1437.1h0M636.9 1441.9h0M639.1 1440.6h0M640.6 1436.6h0M643.2 1448.4h0M645 1435.6h0M647.1 1442.3h0M649.2 1446.6h0M650.7 1448.6h0M652.7 1444.2h0M655.4 1443h0M656.9 1431.4h0M659.1 1429.4h0M661.2 1445.4h0M663 1444h0M665.3 1453.8h0M666.8 1447.6h0M668.9 1449.9h0M671.2 1443.4h0M672.9 1444.4h0M675 1447.6h0M677.4 1451.6h0M679.3 1446.3h0M681.4 1454.3h0M683.2 1457.5h0M685.2 1451.4h0M687.2 1456.7h0M689.2 1469.6h0M691.8 1459.5h0M693.7 1474.1h0M695.6 1473.2h0M697.8 1484.3h0M699.6 1488.7h0M701.7 1484.6h0M703.9 1475.4h0M705.4 1471.6h0M707.7 1471.6h0M709.4 1465h0M711.8 1457.5h0M714 1466.6h0M715.5 1461h0M717.8 1453.4h0M720.1 1473.4h0M721.7 1479h0M723.9 1472.6h0M726.3 1481.5h0M727.9 1473.1h0M730 1472.4h0M732.3 1477.4h0M733.9 1475h0M736 1465.8h0M738.4 1470.5h0M740 1468.2h0M742.3 1471.7h0M744.5 1468.3h0M746.4 1488.9h0M748.1 1484.3h0M750.4 1478.2h0M752.1 1479.5h0M754.3 1486.2h0M756.6 1470.3h0M758.5 1471.5h0M760.3 1486.4h0M762.5 1486.3h0M764.6 1493.1h0M766.7 1492.2h0M768.4 1488.2h0M770.7 1496.8h0M772.2 1500.6h0M774.7 1489.8h0M776.3 1494.7h0M778.9 1498.1h0M780.2 1496.1h0M782.3 1495.3h0M784.6 1498.5h0M786.8 1493.8h0M789.1 1487.9h0M790.6 1497.8h0M793.1 1488.3h0M794.4 1485.6h0M796.5 1480.7h0M798.9 1478.9h0M800.8 1485.7h0M802.5 1488.6h0M804.6 1487.9h0M806.8 1486.5h0M809.2 1496.9h0M811.3 1482.2h0M813.3 1489.5h0M815.4 1489.8h0M816.7 1493h0M819.3 1498.1h0M821.2 1500.5h0M823.3 1507.6h0M825.2 1501.5h0M826.8 1497.2h0M829.5 1506.4h0M831.5 1507h0M833 1505.4h0M835.7 1499.7h0M837.7 1510.5h0M839 1510.7h0M841 1515.3h0M843.3 1514.3h0M845.3 1509.8h0M847.4 1509.1h0M849.2 1502.4h0M851.3 1500.6h0M853.9 1500h0M855.7 1494.6h0M857.3 1504.8h0M859.4 1505.9h0M861.7 1510.9h0M863.7 1515h0M865.6 1511.7h0M867.4 1506.1h0M870 1506.8h0M871.7 1509.2h0M873.8 1509.6h0M876 1502.6h0M878.2 1507.3h0M880 1506.7h0M882 1512.2h0M883.7 1522.6h0M886.1 1528h0M888.3 1526.9h0M889.7 1525.6h0M892.4 1518.8h0M894.4 1527.3h0M896 1539.1h0M897.8 1550.2h0M899.9 1535.7h0M902.3 1530.2h0M904.2 1533.2h0M906.1 1527.9h0M907.9 1526.4h0M910.3 1544.6h0M912.1 1542h0M914.3 1540.9h0M916.2 1552.5h0M918.7 1547.5h0M920.3 1546.8h0M922.6 1543.9h0M924.6 1550.7h0M926.5 1552h0M714 1455h0M360 1281h0" stroke="#f5821f" stroke-width="5.2" stroke-linecap="round" fill="none"/>
<path d="M126.3 1236.9h0M127 1229.7h0M127.1 1217.3h0M128 1219.9h0M128.3 1221.2h0M129.7 1220.9h0M130 1215.4h0M130.1 1216.7h0M130.9 1214.6h0M131.5 1213.3h0M132.5 1213.5h0M132.6 1209.4h0M133.6 1219.6h0M133.9 1226.4h0M134.8 1221.4h0M135.8 1227.7h0M135.8 1225.7h0M136.3 1217.4h0M136.9 1219.5h0M138.2 1217.7h0M138.2 1223.9h0M139.4 1217.3h0M140.1 1224.6h0M140.3 1224.4h0M141.1 1231.3h0M141.9 1236.4h0M142.3 1228.6h0M142.5 1232.9h0M143.8 1247.1h0M144.2 1244.9h0M144.6 1239.7h0M145.3 1230.9h0M146.2 1243.1h0M146.6 1248.7h0M147 1246.1h0M147.4 1252h0M148.6 1243.4h0M148.6 1235.8h0M149.9 1235.1h0M150.6 1233.3h0M150.8 1229.8h0M151.7 1237.7h0M152.4 1244.6h0M152.8 1240.1h0M153.2 1239.9h0M153.9 1249.6h0M154.7 1241.1h0M154.8 1238.9h0M155.6 1245.1h0M156 1236h0M157.4 1234.8h0M157.8 1242.1h0M158.5 1228.9h0M159 1237.6h0M159.7 1241h0M160.1 1229.1h0M160.5 1251.9h0M161.6 1246.7h0M161.7 1239.1h0M162.6 1242.2h0M162.8 1244.8h0M163.6 1248.6h0M164.5 1244.5h0M165.3 1241.3h0M165.5 1232.3h0M166.6 1222h0M166.8 1232h0M167.2 1233.9h0M167.8 1238.8h0M168.4 1239.2h0M169.6 1245.4h0M169.8 1237.7h0M170.7 1227.8h0M171.4 1243.3h0M171.7 1233.5h0M172.2 1231h0M173.1 1233h0M173.9 1225.8h0M174.5 1240h0M174.6 1253h0M175.8 1242.4h0M176.5 1244.3h0M176.8 1252h0M177 1261.6h0M177.9 1257.5h0M178.8 1257.6h0M179.6 1249.5h0M179.9 1257.6h0M180.7 1258.8h0M181.4 1248h0M181.9 1254h0M182 1243.9h0M182.9 1256.5h0M183.8 1258.8h0M184.1 1250.7h0M184.4 1246.3h0M185.6 1253.6h0M186.3 1253.1h0M186.4 1267.2h0M187.4 1251.6h0M187.5 1260h0M188.8 1255.2h0M189.4 1253.8h0M189.9 1242.8h0M190.4 1252.1h0M191 1248.3h0M191.1 1252.2h0M192.3 1261.6h0M193.1 1253.2h0M193.4 1260h0M194.2 1260.1h0M194.4 1266.2h0M195.3 1269.8h0M195.5 1267.4h0M196.2 1258.8h0M197.3 1261.3h0M197.9 1259.7h0M198.1 1264.4h0M198.7 1264.3h0M199.4 1263.5h0M199.9 1268.6h0M200.8 1270h0M201 1261.9h0M202.2 1264.2h0M202.4 1254.6h0M203 1257.4h0M203.6 1260.4h0M204.5 1261.7h0M204.9 1264h0M205.3 1264.5h0M206.5 1270.8h0M206.9 1260.8h0M207.5 1259.9h0M207.8 1257.8h0M208.7 1255.2h0M209.1 1247.1h0M210.3 1250h0M210.8 1244.6h0M211.4 1250.5h0M212.1 1257.6h0M212.2 1261.6h0M213 1266.9h0M213.9 1257.5h0M214.5 1267.7h0M215 1266.1h0M215.4 1269.3h0M216.5 1267.8h0M216.6 1263.2h0M217.4 1254.5h0M218.3 1259.6h0M218.8 1248h0M219.2 1243.4h0M219.5 1242.5h0M220.6 1246.5h0M221.5 1255.8h0M221.7 1250.5h0M222.1 1254.6h0M222.6 1259h0M223.5 1257.3h0M223.9 1261.6h0M224.9 1266.6h0M225.1 1260.2h0M225.8 1262.2h0M226.6 1257.3h0M226.9 1260.2h0M227.7 1270.5h0M228.3 1254.6h0M228.7 1256.3h0M230.1 1258.4h0M230.4 1262.7h0M231.2 1277.4h0M231.2 1260.8h0M231.8 1263.4h0M232.9 1256.9h0M233.2 1246h0M234.1 1252.2h0M234.9 1257.5h0M235 1255.6h0M235.7 1257h0M236.8 1251.5h0M236.9 1247h0M237.4 1268.4h0M238.7 1269.4h0M239.3 1261.4h0M239.5 1254.3h0M239.9 1253.9h0M240.8 1253.1h0M241.7 1274.4h0M242 1254.7h0M242.4 1258.3h0M243.7 1267.6h0M244 1278.6h0M244.8 1282.6h0M245.4 1284.5h0M245.8 1272.8h0M246.4 1275.8h0M247.2 1274.5h0M247.8 1267h0M248.4 1264.2h0M249.1 1262.9h0M249.7 1256h0M250.2 1261.3h0M250.9 1254h0M251 1259.2h0M251.9 1263.2h0M252.8 1266.8h0M253.1 1274.3h0M253.6 1281.2h0M254.5 1276.8h0M255.2 1272.7h0M255.4 1268.5h0M256.6 1269.9h0M257.1 1269h0M257.2 1274.2h0M257.7 1268.9h0M258.7 1277.2h0M259.1 1278.8h0M259.6 1279.9h0M260.9 1275.9h0M261.4 1292.7h0M261.5 1282h0M262.5 1287.3h0M263.1 1281.9h0M263.6 1277.7h0M264.5 1265.8h0M265.1 1272.1h0M265.2 1266.7h0M265.8 1280.7h0M266.3 1269.4h0M267.3 1261.2h0M268 1248.3h0M268.6 1268.8h0M268.9 1255.8h0M269.5 1273.4h0M270.5 1265.9h0M271 1257.3h0M271.6 1262.1h0M272.3 1259.7h0M272.5 1272.9h0M273.1 1272.7h0M273.7 1269.9h0M274.7 1267.6h0M275.5 1265h0M275.9 1259.4h0M276.6 1267.3h0M276.8 1262.4h0M277.9 1262.7h0M278 1266.4h0M279.1 1263.2h0M279.3 1272.1h0M280.1 1269.7h0M281.2 1264.5h0M281.7 1266.3h0M281.9 1269.4h0M282.4 1273.4h0M283.1 1272.1h0M284 1279.5h0M284.7 1293.3h0M285.4 1281.1h0M285.5 1274.4h0M286.7 1270.8h0M287.2 1281.2h0M287.4 1278.8h0M288 1281.3h0M289 1276h0M289.4 1270h0M290.4 1273.7h0M290.5 1279.5h0M291 1264.2h0M292.1 1284.1h0M292.7 1275.1h0M293.2 1281.8h0M294.1 1283.1h0M294.1 1273.8h0M294.7 1277.5h0M295.8 1278h0M296.1 1275.5h0M296.8 1267.9h0M297.8 1270.8h0M298.4 1261.9h0M299 1265.9h0M299.4 1270.7h0M299.6 1268.7h0M300.4 1266.6h0M300.9 1267.9h0M301.9 1275.1h0M302.1 1278.9h0M302.9 1272.5h0M303.7 1284.2h0M304.4 1279.1h0M305.2 1285.3h0M305.4 1285.1h0M306.2 1290.2h0M306.8 1283h0M307.6 1277.1h0M307.6 1287.8h0M308.4 1286h0M308.9 1292.8h0M310.1 1280.9h0M310.6 1289.2h0M311.2 1286.9h0M311.8 1298.1h0M312.6 1286.8h0M313.1 1295.4h0M313.2 1276.8h0M314.5 1270.3h0M314.6 1274.7h0M315.1 1272.8h0M315.6 1273.8h0M316.7 1290.6h0M317.5 1293h0M317.9 1288.2h0M318.7 1297h0M319 1295.4h0M319.6 1287.6h0M320.5 1290h0M321 1290h0M321.9 1285.5h0M321.8 1300.9h0M322.4 1286.4h0M323.7 1299.6h0M323.6 1309.4h0M324.7 1320.9h0M325.3 1316.6h0M325.9 1320.2h0M326.2 1306.3h0M326.7 1324.8h0M327.6 1305.2h0M328 1309.4h0M328.9 1311.7h0M329.3 1307.1h0M329.7 1299.3h0M331 1305.6h0M331.4 1300h0M332.2 1299.8h0M332.4 1294.8h0M332.9 1289.6h0M334 1309.3h0M334.6 1291.7h0M335.3 1304.5h0M335.5 1316.4h0M336.6 1314.4h0M337.2 1319.8h0M337.3 1312.3h0M338 1310.1h0M338.7 1304h0M339.1 1298.8h0M340.3 1293.5h0M340.3 1301.6h0M340.8 1306.1h0M341.7 1315.5h0M342.1 1312.1h0M343.5 1313.5h0M343.7 1303.9h0M344.3 1312h0M344.7 1309.1h0M345.8 1296.7h0M346.2 1292.5h0M346.4 1303.2h0M347.7 1301.4h0M347.7 1305h0M348.7 1317.3h0M349.1 1316.2h0M349.5 1299.1h0M350.2 1293.7h0M350.7 1297.9h0M351.6 1290.8h0M352 1295.4h0M352.9 1293.6h0M353.3 1290.6h0M354.5 1284.8h0M354.8 1289.9h0M355.1 1295.2h0M355.8 1303.9h0M356.3 1300.4h0M357.4 1306h0M357.6 1287.3h0M358.8 1301.1h0M359.1 1307.7h0M359.3 1309.9h0M360.6 1312.8h0M360.9 1313h0M361.5 1308.1h0M361.9 1306h0M362.9 1298.4h0M363 1289.7h0M363.6 1303.6h0M364.9 1302.9h0M365 1299.9h0M365.6 1299.6h0M366.9 1306.4h0M367.1 1305.5h0M367.3 1305.7h0M368 1307.3h0M368.7 1300.1h0M369.3 1289.2h0M369.8 1298.6h0M370.8 1301.6h0M371.5 1297.3h0M372.2 1292.6h0M373 1299.3h0M373.4 1307.1h0M374.2 1308.5h0M374.8 1300.1h0M375.4 1306.1h0M375.5 1305.9h0M376.3 1308.2h0M377.2 1308.5h0M377.3 1305.9h0M378 1298.9h0M378.6 1315.6h0M379.8 1313.5h0M380 1306h0M381 1307.1h0M381 1307h0M382.2 1311.3h0M382.6 1304.6h0M382.9 1309h0M383.8 1305.4h0M384 1309.8h0M384.7 1308.7h0M385.9 1294.9h0M385.9 1307.5h0M387.1 1288.3h0M387.5 1302.5h0M388.4 1310h0M388.3 1308.3h0M388.9 1311h0M389.8 1305.1h0M390.2 1311.5h0M390.7 1304.4h0M391.9 1307.3h0M392.3 1306.7h0M393.1 1311.7h0M394 1305.9h0M394.4 1300.2h0M394.6 1321.6h0M395.6 1308.5h0M396.1 1310.6h0M397 1301.7h0M397.3 1308.4h0M398.1 1307.9h0M398.4 1305.8h0M398.9 1306.8h0M399.6 1309.4h0M400.6 1309.6h0M401.1 1323.2h0M401.2 1330.8h0M402.2 1332.5h0M402.5 1319.7h0M403.2 1309.3h0M403.9 1312.7h0M404.3 1317.8h0M405.7 1310.2h0M406.2 1317.7h0M406.7 1313.4h0M407.1 1315.1h0M407.6 1322.6h0M408.1 1326.3h0M408.7 1320.9h0M409.5 1323.7h0M410.2 1333.1h0M410.8 1339.7h0M411.7 1336.3h0M412.2 1340.7h0M412.7 1322.2h0M412.9 1326.8h0M413.8 1335.3h0M414.4 1342.6h0M414.9 1329.3h0M415.4 1336.2h0M416.2 1332.1h0M417.4 1324.2h0M417.8 1334.9h0M418.6 1324.2h0M418.5 1327.3h0M419.7 1327.4h0M419.9 1322.9h0M421 1322.3h0M421.2 1335.5h0M421.9 1331.9h0M422.8 1331h0M423.4 1323.1h0M423.9 1328.5h0M424.3 1316.8h0M425.2 1318.7h0M425.8 1330.7h0M426.2 1339.5h0M426.9 1330.3h0M427.8 1325.6h0M427.7 1337.3h0M428.5 1341.5h0M429.3 1344h0M429.9 1334.1h0M430.8 1341h0M431.5 1335.2h0M432 1334.9h0M432.4 1344.1h0M432.9 1337.5h0M434 1337.2h0M434.6 1327.2h0M434.8 1342.1h0M435.5 1350.2h0M436.1 1348.3h0M436.8 1342.7h0M437.3 1335.5h0M438 1337h0M438.6 1333.7h0M439.3 1341.4h0M440.1 1337.5h0M440.8 1329.1h0M441.4 1334.1h0M441.4 1342.8h0M442 1346.5h0M442.5 1352.2h0M443.5 1341.9h0M443.9 1338h0M444.4 1330.3h0M445.6 1338.2h0M446.2 1343h0M446.6 1351.5h0M446.8 1342.9h0M447.7 1351.8h0M448.4 1338.2h0M448.6 1349.9h0M449.3 1335.5h0M450.5 1338.6h0M450.8 1330.8h0M451.5 1336h0M452.1 1336.2h0M453 1340.6h0M453.7 1358.5h0M454 1343.2h0M454.4 1354.9h0M454.9 1341.9h0M455.9 1336.3h0M456.4 1325.6h0M456.8 1331.9h0M457.8 1331.2h0M458.3 1345.5h0M459.3 1343.1h0M459.4 1345.9h0M459.8 1343h0M460.6 1341.7h0M461.5 1342.9h0M461.6 1356.3h0M462.4 1340.8h0M463.1 1345.8h0M463.6 1345.3h0M464 1358h0M464.8 1356.3h0M465.7 1356.2h0M466.1 1353.3h0M467.1 1356.6h0M467.8 1360.3h0M468.1 1351.4h0M468.4 1341.5h0M469.4 1358.2h0M470.2 1365.7h0M470.2 1355h0M471.4 1357.2h0M471.4 1345.4h0M472.4 1353.1h0M473.3 1345.6h0M473.9 1346.1h0M474.1 1348.8h0M474.7 1344.5h0M475.6 1346.8h0M476.5 1352.1h0M476.9 1343h0M477.7 1353.4h0M478.1 1342.5h0M478.4 1351.7h0M479.3 1351.6h0M479.5 1347.3h0M480.6 1355.2h0M480.7 1357.3h0M481.7 1356.4h0M482 1355h0M483 1347.9h0M483.2 1362.9h0M484.3 1354.1h0M484.8 1354.5h0M485.5 1354.8h0M485.7 1349.8h0M486.7 1347.1h0M487.4 1346.3h0M487.6 1344.9h0M488.1 1357.3h0M489.1 1354.4h0M489.7 1345.7h0M490.4 1365.3h0M490.8 1376.6h0M491.5 1371.3h0M492 1357.9h0M492.5 1365.2h0M493 1348.3h0M493.8 1376.7h0M494.8 1370h0M495.6 1377.7h0M495.6 1379.5h0M496.4 1376.5h0M497.1 1369.9h0M497.9 1360.4h0M498.5 1363.2h0M499.3 1356.2h0M499.7 1364.7h0M500.4 1355.8h0M501.1 1368.9h0M501 1373.9h0M501.7 1350.9h0M502.5 1352.4h0M503.1 1360.2h0M504.1 1355.4h0M504.1 1364.3h0M505 1363.7h0M505.4 1359.7h0M506.1 1363.8h0M506.8 1368h0M507.9 1372.2h0M508 1368.7h0M508.6 1364.1h0M509.3 1376.5h0M510.4 1366.2h0M510.4 1373.8h0M511.6 1354.9h0M512 1365.6h0M512.6 1365.2h0M513 1366.6h0M513.5 1361.4h0M514.6 1377.3h0M514.7 1370.9h0M515.2 1376.8h0M516.3 1368.9h0M516.4 1370.9h0M517.5 1362.8h0M517.7 1362.2h0M518.9 1365.5h0M519.2 1370.1h0M519.8 1368.4h0M520.6 1363.5h0M521.1 1357.9h0M521.9 1359.3h0M522.6 1362.5h0M522.7 1361.9h0M523.8 1383.3h0M524.4 1382.4h0M524.5 1375.7h0M525.2 1385h0M526.2 1378.2h0M526.5 1385.7h0M527.6 1377.5h0M528 1378.5h0M528.7 1389.3h0M529.2 1382.9h0M529.8 1380.7h0M530.5 1375.3h0M530.9 1370.9h0M531.5 1367h0M531.9 1373.6h0M532.9 1369.3h0M533.1 1369.9h0M534.2 1386.6h0M535.1 1372.5h0M535.6 1379.4h0M536 1374.4h0M536.7 1373.8h0M537.2 1373h0M537.8 1374h0M538.1 1381.2h0M538.6 1370.5h0M539.4 1386.9h0M540.5 1370.6h0M540.6 1369.2h0M541.3 1381h0M542.3 1368.4h0M542.4 1370h0M543 1374.1h0M544.3 1375h0M544.6 1379.9h0M545 1377.2h0M545.6 1382.8h0M546.8 1373h0M546.8 1375.9h0M547.9 1379.7h0M548.3 1384.6h0M548.8 1374.6h0M549.6 1383.8h0M550.1 1386.7h0M551.1 1384h0M551 1387.6h0M552 1381.7h0M552.7 1379.2h0M553.5 1393.5h0M553.5 1399.1h0M554.7 1403h0M554.9 1411.8h0M555.3 1407.3h0M556.1 1407.7h0M556.7 1402.9h0M557.4 1402.7h0M558.2 1405.4h0M558.5 1399.9h0M559.6 1392.9h0M560.1 1401.2h0M560.6 1404.4h0M561.4 1408.6h0M562.1 1403.3h0M562.1 1389.4h0M562.6 1404.5h0M563.4 1402.7h0M564.1 1390.5h0M565 1402.4h0M565.3 1396.9h0M566 1396.2h0M566.7 1388.7h0M567.5 1394.6h0M568.1 1395.4h0M568.2 1392.9h0M569.4 1392.8h0M569.6 1393.2h0M570.6 1397.5h0M571.4 1389h0M571.7 1391.6h0M572.6 1405.2h0M572.5 1412.2h0M573.6 1403.3h0M573.9 1393.3h0M574.9 1400.6h0M575.3 1405.9h0M576.3 1399.9h0M576.8 1398h0M577.3 1403h0M578.1 1401.9h0M578.2 1391.7h0M579 1395h0M579.5 1399.4h0M580.5 1390.1h0M580.9 1393.4h0M581.6 1399.1h0M582 1403.9h0M582.6 1410.1h0M583.1 1405.2h0M584.2 1391.9h0M584.8 1409.6h0M584.8 1399.4h0M585.5 1413.4h0M586.6 1406h0M587 1416.7h0M587.9 1401.4h0M588 1409.4h0M588.5 1409.1h0M589.7 1406.2h0M589.8 1412.1h0M590.9 1410.7h0M591.6 1417.1h0M591.7 1419.5h0M592.8 1410.4h0M593.2 1408.7h0M593.7 1407.4h0M594.5 1396.4h0M594.7 1396h0M595.8 1419.1h0M596.2 1408.2h0M596.9 1404.7h0M597.8 1414h0M597.8 1421h0M598.9 1421.3h0M599 1412.3h0M600.1 1422.3h0M600.3 1425.4h0M601.1 1432.2h0M601.8 1425.1h0M602.2 1419.8h0M603.1 1430.7h0M603.6 1428.3h0M604.3 1428h0M605 1419.7h0M605.2 1433.1h0M606.3 1429.7h0M606.9 1426.8h0M607.5 1427.7h0M608.2 1432.4h0M609 1427h0M608.9 1427.9h0M610 1420.7h0M610.5 1421.9h0M611.2 1419.1h0M611.8 1421.9h0M612.3 1423.2h0M613.2 1417.7h0M613.3 1404.5h0M614.2 1411h0M614.7 1420.6h0M615.2 1421.4h0M615.6 1418.7h0M616.8 1424.4h0M617.6 1418.6h0M617.6 1418.6h0M618.7 1418.5h0M619 1422.7h0M619.7 1419.2h0M620.5 1422.6h0M621.1 1438.9h0M621.2 1422.1h0M622 1426.2h0M623 1427.7h0M623.7 1418.4h0M624.3 1428.8h0M625 1428.5h0M625.2 1432h0M625.8 1438.6h0M626.5 1436h0M627.1 1434.9h0M627.5 1441.7h0M628.7 1429.5h0M629.1 1424.8h0M629.4 1423.2h0M629.8 1419.1h0M630.4 1435.6h0M631.7 1424.7h0M632.2 1423.8h0M632.5 1429.6h0M633.5 1447.2h0M633.5 1433.8h0M634.3 1437h0M635.2 1440.7h0M635.6 1447.5h0M636.3 1448.4h0M637.2 1431.8h0M637.7 1426.8h0M638.1 1436.5h0M639 1433.3h0M639.2 1434.9h0M640.4 1422.3h0M640.8 1434.1h0M641.5 1432.2h0M641.8 1444h0M642.6 1440.2h0M642.8 1445h0M643.9 1443.6h0M644.1 1444.2h0M644.8 1442.4h0M645.8 1445.1h0M646 1446.6h0M647.2 1453.6h0M647.8 1449.2h0M647.8 1456.2h0M648.9 1447h0M649.6 1446h0M649.5 1456.7h0M650.7 1447.4h0M651.4 1445.1h0M651.7 1446h0M652.2 1444.4h0M653.2 1437.6h0M653.6 1438.2h0M654.3 1451h0M654.7 1457.4h0M655.6 1453.4h0M656.3 1466.9h0M656.7 1448.1h0M656.9 1455.6h0M657.8 1454.4h0M658.6 1458.4h0M659.5 1457.4h0M659.4 1455h0M660 1455.7h0M661.2 1462.4h0M661.8 1461.7h0M662.5 1466.5h0M662.7 1463.2h0M663.1 1447.8h0M663.7 1454.3h0M665 1456.5h0M665.5 1464.1h0M665.8 1451.6h0M666.8 1451.1h0M667.3 1464.4h0M668.1 1451.1h0M668.6 1457.9h0M669 1454.1h0M670 1465.4h0M670 1469.7h0M670.9 1468.4h0M671.3 1465.2h0M672.4 1457.7h0M672.5 1465h0M673.6 1468.6h0M673.7 1468.1h0M674.6 1462h0M675 1472.2h0M675.5 1461.3h0M676.3 1472.3h0M676.9 1470.7h0M677.7 1466.2h0M678.5 1454h0M678.7 1448.9h0M679.3 1466.3h0M680.1 1455.7h0M681 1470.4h0M681.7 1449.3h0M682 1466.8h0M682.9 1456.9h0M682.8 1452.8h0M683.7 1451.6h0M684 1452.7h0M685 1452.9h0M685.5 1464.8h0M686.1 1458.8h0M686.8 1476.7h0M687.5 1458.1h0M688.2 1462.6h0M688.7 1464.2h0M689.5 1460.1h0M689.9 1455.2h0M690.7 1465.2h0M691.1 1481.2h0M691.5 1473.7h0M692.7 1470.8h0M692.8 1465.9h0M693.4 1470.4h0M693.9 1482.7h0M695.1 1474.1h0M695.2 1486.6h0M695.9 1490.3h0M696.4 1487.2h0M697.1 1473.4h0M697.9 1468.1h0M698.4 1476.2h0M699.1 1469.9h0M699.4 1471.5h0M700.3 1471.2h0M701.2 1477.3h0M701.6 1474.9h0M702.6 1487h0M702.6 1489.6h0M703.2 1487h0M704.5 1486.5h0M704.9 1487.2h0M705.3 1476.1h0M705.5 1476.3h0M706.9 1472.6h0M707.5 1468.7h0M707.4 1474.8h0M708.4 1463.8h0M709.1 1475.8h0M710 1477.5h0M710.6 1482.4h0M710.6 1478.5h0M711.8 1484.6h0M711.8 1479.7h0M713.1 1483.3h0M713 1472.4h0M713.8 1476.6h0M714.3 1474.6h0M715.2 1493.5h0M715.8 1484.2h0M716.7 1487.4h0M716.9 1472.8h0M717.3 1468.9h0M718 1467.6h0M718.9 1470.2h0M719.9 1471.5h0M720.1 1473.2h0M720.8 1476.3h0M721.2 1480.5h0M721.7 1475.8h0M722.5 1480.6h0M723 1492.5h0M723.6 1490.4h0M724.2 1487.6h0M725.4 1482.5h0M725.3 1484.5h0M726 1483h0M726.7 1491.4h0M727.4 1482.8h0M728.4 1486.1h0M728.6 1485.3h0M729 1487.1h0M729.9 1478.8h0M730.3 1493.6h0M731.1 1485h0M732.1 1477.5h0M732.5 1484.7h0M732.8 1468.7h0M733.9 1467h0M734 1473.5h0M734.6 1487.8h0M735.6 1478.5h0M736.5 1483.3h0M737 1483h0M737.2 1487.8h0M737.7 1479.9h0M738.2 1487h0M739.3 1502.2h0M740.1 1494.5h0M740.1 1487.1h0M741.2 1484.8h0M741.8 1494.6h0M742 1483.8h0M742.6 1485.3h0M743.6 1477.9h0M743.9 1478.6h0M744.6 1480.2h0M745.5 1493.7h0M746.1 1484.4h0M746.8 1493.9h0M746.8 1501.2h0M747.4 1499h0M748.5 1491h0M749.1 1505.7h0M749.3 1498.9h0M750.4 1499h0M750.9 1511.9h0M751.6 1509.3h0M752.5 1516.9h0M752.8 1515.6h0M753.1 1514.8h0M754.1 1509.5h0M754.5 1509.2h0M755.5 1478.3h0M755.5 1487.4h0M756.3 1485.7h0M757.3 1476.2h0M757.6 1480.3h0M758.3 1481.2h0M759 1487.8h0M759.6 1486.7h0M760.2 1490.5h0M760.6 1498.6h0M761.3 1497h0M762 1493.5h0M762.7 1479.9h0M763.4 1483.4h0M763.8 1486.2h0M764.5 1483.6h0M764.8 1486.4h0M765.6 1497.5h0M766.6 1492h0M767.1 1500.2h0M767.3 1497.7h0M768.4 1506.7h0M768.9 1500.5h0M769.7 1503.4h0M770 1494h0M770.5 1488.4h0M771.1 1499.9h0M771.9 1510.6h0M772.6 1506.3h0M772.8 1503.5h0M773.4 1507.3h0M774.2 1506.5h0M775.2 1515.1h0M775.9 1498.4h0M776.2 1500.3h0M776.8 1493.5h0M777.8 1493.9h0M778.1 1503.7h0M778.9 1501.5h0M779.3 1500.5h0M780.1 1501.5h0M780.4 1491.2h0M781 1489.2h0M781.4 1489.9h0M781.9 1494.9h0M782.8 1493.9h0M783.6 1501.5h0M784.2 1516.5h0M784.5 1506.1h0M785 1529.1h0M786.1 1506.6h0M786.7 1491.9h0M786.9 1500.4h0M787.5 1485.7h0M788.3 1479.4h0M788.8 1500.5h0M789.7 1482.3h0M790.1 1488.3h0M791.3 1503.4h0M791.7 1490h0M791.8 1501.3h0M793.2 1500.2h0M793.6 1500.6h0M794.1 1493.8h0M794.8 1502.7h0M795.5 1497.9h0M795.7 1519.1h0M796.3 1508.5h0M797.1 1514.5h0M797.5 1517.1h0M798.2 1502.5h0M799.1 1500.2h0M799.8 1496.9h0M800.1 1500.1h0M800.6 1497.4h0M801.5 1508.9h0M801.9 1508.3h0M802.8 1504h0M803.4 1498h0M803.8 1511.3h0M804.5 1512h0M805.2 1510.4h0M806 1522.8h0M806 1517.7h0M806.8 1511h0M807.5 1498.7h0M807.9 1504.4h0M808.7 1506.5h0M809.7 1490.4h0M810.1 1510.6h0M810.6 1508.4h0M811.5 1500.7h0M811.9 1500h0M812.9 1497.9h0M812.9 1502.4h0M814 1514.2h0M814.7 1522h0M815 1531.7h0M815.6 1523.1h0M816 1519.2h0M816.8 1509.8h0M817.4 1510.6h0M818.2 1515.8h0M819 1508.7h0M819.1 1521.3h0M820 1505.1h0M820.7 1506.8h0M820.9 1511.9h0M821.6 1502.2h0M822.6 1511h0M823 1511h0M823.7 1516.2h0M823.9 1520.1h0M824.8 1523.9h0M825.6 1514.7h0M825.9 1515.5h0M826.4 1511.7h0M827.6 1502h0M827.8 1508.8h0M828.8 1513.3h0M828.8 1513.2h0M829.6 1508h0M830.4 1510.5h0M831.1 1502.5h0M831.5 1502.4h0M832 1514.7h0M833 1508.1h0M833.7 1498.3h0M834.2 1519.2h0M834.6 1512.8h0M835.2 1515.4h0M835.6 1531h0M836.9 1517.6h0M836.9 1521.6h0M838 1519.1h0M838.4 1513.7h0M839.1 1505.3h0M840 1513.5h0M839.9 1511.8h0M840.6 1511.8h0M841.4 1512.4h0M842.2 1510.2h0M843.1 1501.3h0M843.2 1509.7h0M844.1 1512.9h0M844.7 1502.9h0M845.5 1508.6h0M845.8 1512.4h0M846.1 1514.7h0M847.3 1516.6h0M848 1514.5h0M848.6 1511.3h0M849.1 1500.7h0M849.6 1513.2h0M850.2 1508.5h0M850.5 1508h0M851.4 1497.9h0M851.9 1501.5h0M852.4 1492h0M853.2 1500.9h0M853.8 1506.1h0M854.3 1515.9h0M855 1514.1h0M855.7 1512.4h0M856.3 1506.9h0M856.5 1496.8h0M857.7 1511.8h0M858.2 1509.9h0M858.3 1516.2h0M859.5 1518.9h0M859.8 1516.2h0M860.9 1513.9h0M861.5 1503.3h0M862.1 1511.4h0M862.1 1506.5h0M863.2 1517h0M863.4 1521.3h0M864.2 1526.7h0M864.8 1506.6h0M865.2 1511.5h0M866.3 1512.6h0M866.4 1520.6h0M867.7 1520.2h0M868.2 1517.2h0M868.9 1518.3h0M868.9 1525.5h0M870.2 1527.6h0M870.3 1532.7h0M871.2 1520.5h0M871.5 1509.5h0M872.4 1514.2h0M872.6 1502.3h0M873.6 1515.5h0M874.5 1510.4h0M875.1 1519.3h0M875.4 1525.3h0M875.6 1514.9h0M876.8 1519.4h0M877 1519.6h0M878 1517h0M878.4 1527.7h0M879.1 1531.9h0M879.9 1528.1h0M880.4 1518.9h0M880.6 1523.3h0M881.3 1535.9h0M882 1529.9h0M882.4 1528h0M883.5 1525.4h0M884.2 1518.9h0M884.3 1525.4h0M885 1517.9h0M886.1 1512.6h0M886.6 1526.5h0M886.8 1527.3h0M887.7 1537.4h0M887.9 1542.2h0M889.1 1537.6h0M889.5 1528.5h0M890 1526.8h0M890.6 1520.8h0M891.2 1532.3h0M892.2 1520.9h0M892.6 1527.6h0M892.8 1539.1h0M893.7 1542.7h0M894.7 1536.1h0M894.8 1531.7h0M895.8 1542.7h0M896.6 1544.2h0M896.6 1553.2h0M897.2 1542.2h0M898.3 1545.4h0M898.7 1530.4h0M899.6 1538.2h0M899.7 1543.4h0M900.5 1538.7h0M901.3 1538.8h0M902 1535.6h0M902.6 1523.1h0M903.2 1535.5h0M903.5 1533.9h0M904.3 1529.6h0M904.6 1534.4h0M905.7 1546.2h0M906 1538.2h0M906.7 1543.6h0M907.5 1550.9h0M907.7 1549.5h0M908.8 1550.3h0M909.1 1542.5h0M910.3 1548.4h0M910.7 1546.3h0M911.1 1545h0M911.4 1561.9h0M912.6 1549h0M912.8 1557.5h0M913.3 1547.5h0M913.8 1545.9h0M915 1550.4h0M915.6 1548.7h0M916.2 1536.9h0M916.5 1551.1h0M917.6 1548.3h0M918 1560.1h0M918.6 1563.7h0M919.3 1565.4h0M919.4 1546.5h0M920.7 1552.7h0M921.2 1558.9h0M921.8 1555.2h0M921.8 1550.6h0M922.5 1553.5h0M923.6 1546.8h0M924 1545.8h0M924.6 1548h0M924.9 1539.6h0M926.1 1547.2h0M926.8 1552h0M847.5 1538h0M848 1544h0M847 1549h0M848.5 1553h0M848 1558h0" stroke="#2ca02c" stroke-width="5.2" stroke-linecap="round" fill="none"/>
<path d="M126.3 1211.1h0M127.2 1216.1h0M127.8 1219.3h0M127.9 1213h0M129 1219.4h0M129.6 1220.2h0M129.5 1218.3h0M130.8 1211.6h0M131 1222.2h0M131.7 1225h0M132.7 1217.9h0M132.6 1222.8h0M134 1224.6h0M133.8 1220.6h0M134.8 1228h0M135.6 1231.7h0M136.5 1220.4h0M136.5 1229.5h0M137.3 1221.8h0M137.8 1233.2h0M138.5 1222.5h0M139 1222.2h0M139.7 1221.8h0M140.2 1226.7h0M141.1 1231.7h0M141.9 1226.1h0M141.8 1226.1h0M143.2 1242.1h0M143.8 1243.8h0M144.2 1245.6h0M144.5 1235.9h0M145.3 1237.8h0M146.2 1230.7h0M146.5 1232.1h0M146.8 1225.6h0M147.8 1241.5h0M148.7 1237.6h0M149.2 1227.6h0M149.3 1226.9h0M150.3 1234h0M151.1 1247h0M151.8 1241.8h0M151.9 1242.9h0M152.5 1247.3h0M153 1242.2h0M153.8 1249.5h0M154.4 1248.4h0M154.8 1251.3h0M155.6 1251.8h0M156.1 1244.5h0M157 1243.5h0M157.5 1248.6h0M158 1240.1h0M158.8 1238.2h0M159.3 1233h0M160.3 1241.3h0M160.5 1237h0M161.3 1233.3h0M162 1241.5h0M162.2 1241h0M163 1258.8h0M163.5 1253.5h0M164.4 1255.3h0M165.1 1250.7h0M165.6 1260h0M166.3 1253h0M167 1246.8h0M167.2 1258.1h0M167.9 1256.7h0M168.7 1243.9h0M169.1 1248.1h0M169.9 1251.1h0M170.5 1247h0M170.9 1244h0M171.9 1244.4h0M172.5 1242.3h0M172.8 1237.7h0M173.5 1244.4h0M173.9 1241.2h0M174.7 1243.6h0M175.9 1244.6h0M176.1 1252.9h0M176.5 1249.7h0M177.7 1256.5h0M178 1243h0M178.8 1250h0M178.9 1252.8h0M179.8 1243.8h0M180.5 1250.1h0M181.3 1252.1h0M181.9 1245.9h0M182.1 1251.8h0M183 1248.1h0M183.9 1255.1h0M184.5 1248.3h0M184.8 1252h0M185.3 1243.7h0M185.7 1251.8h0M186.4 1250.5h0M186.8 1255.2h0M188.1 1236.1h0M188.1 1235.7h0M189.2 1242.2h0M189.6 1238.7h0M189.9 1241.5h0M190.8 1247.5h0M191.6 1251.8h0M192.1 1249.2h0M192.6 1260.1h0M193.6 1256.7h0M193.9 1257.2h0M194.8 1256.9h0M194.9 1249.6h0M195.6 1248.8h0M196.3 1266.2h0M197.4 1262.2h0M197.8 1271.6h0M198.2 1265.4h0M198.7 1267.8h0M199.6 1251.6h0M200.4 1250.2h0M201 1249.2h0M201.2 1247.4h0M201.7 1264.1h0M202.9 1261.1h0M203.5 1261.7h0M203.8 1264.1h0M204.4 1257.4h0M205.4 1275.2h0M205.5 1276.5h0M206.4 1259.5h0M207 1266.6h0M207.6 1253.8h0M207.9 1255.2h0M208.7 1257h0M209.2 1265.4h0M210 1256h0M210.4 1246.2h0M211.1 1241.6h0M211.6 1241.7h0M212.4 1245.4h0M213.1 1251.9h0M213.4 1264.5h0M214.2 1266.7h0M214.8 1260.1h0M215.7 1265.2h0M216.3 1256h0M217.1 1258.9h0M217.1 1246.3h0M217.8 1247h0M219 1247.3h0M218.9 1240.4h0M220.1 1259.9h0M220.2 1254.7h0M220.9 1254.7h0M221.9 1246.3h0M222.5 1258.7h0M223.1 1255.5h0M223.4 1256.6h0M223.9 1258.1h0M224.8 1261.2h0M225.6 1256.6h0M226.3 1270.9h0M226.9 1271h0M227.1 1270.5h0M227.7 1276.5h0M228.5 1267.1h0M229.1 1274.1h0M229.8 1268.4h0M230.6 1267.5h0M230.8 1264.9h0M231.8 1273.6h0M232.6 1258.4h0M232.8 1263.4h0M233.1 1251.6h0M234.4 1255.2h0M234.8 1258.9h0M235.5 1254.2h0M236.1 1258h0M236.1 1249.5h0M237.2 1259h0M237.8 1254.7h0M238.4 1251h0M239.1 1263h0M239.7 1264.9h0M239.9 1269.5h0M241 1265.1h0M241.7 1273.2h0M242.1 1271h0M242.6 1258.3h0M243.5 1261.4h0M243.6 1255.1h0M244.5 1265.3h0M245.3 1273.1h0M245.4 1275.1h0M246.2 1279h0M247.3 1276.3h0M247.9 1268.3h0M248.2 1259.8h0M249.2 1259.5h0M249.8 1257.2h0M250.4 1262.8h0M250.4 1261.7h0M251.1 1260.9h0M251.9 1257h0M252.1 1256.2h0M253.2 1249.1h0M253.5 1264.2h0M254.4 1262.3h0M254.9 1264.5h0M255.9 1262.8h0M256.1 1275.4h0M256.8 1268h0M257.6 1268.6h0M258.3 1265.1h0M258.9 1258.1h0M259.4 1246.7h0M259.6 1257.8h0M260.9 1264.8h0M261.1 1264.2h0M261.6 1260.2h0M262.3 1261h0M263 1268.1h0M263.9 1264.9h0M264.3 1257.1h0M264.9 1267.8h0M265.7 1272h0M266.4 1279.7h0M266.8 1282.9h0M267.6 1276.1h0M267.9 1268.6h0M268.5 1257.5h0M269.1 1271.4h0M270.1 1260.9h0M270.7 1261.3h0M271 1263.6h0M271.5 1260.7h0M272.4 1253.4h0M272.6 1263.7h0M273.1 1266h0M274 1250h0M274.6 1271.2h0M275.6 1266.3h0M276.1 1265.1h0M276.3 1263.2h0M277.2 1250.9h0M278.1 1267.3h0M278.4 1261.3h0M279 1257h0M279.9 1270.6h0M280.2 1260.6h0M280.8 1265h0M281.1 1261.6h0M282.3 1265.9h0M282.3 1256.7h0M283.4 1256.6h0M284.1 1266.1h0M284.7 1262.9h0M284.9 1270.7h0M286 1280.4h0M286.1 1278.2h0M287 1287.3h0M287.9 1277.5h0M288.6 1284.8h0M289 1271.9h0M289.3 1271.6h0M290.3 1285.9h0M290.5 1276.6h0M291.3 1280h0M292.3 1269.1h0M292.5 1273.7h0M293.1 1266.5h0M294.2 1276.2h0M294.1 1278.2h0M294.8 1269.6h0M295.7 1278.9h0M295.9 1272.4h0M296.6 1277.3h0M297.7 1274.3h0M298.4 1276.4h0M299.1 1271.1h0M299 1271h0M300 1280.9h0M300.4 1274.6h0M301 1271.4h0M301.9 1273.5h0M302 1280h0M303.1 1270.8h0M303.7 1263.6h0M304.3 1292.4h0M304.8 1278.9h0M305.8 1281.5h0M305.8 1277.2h0M306.7 1266.6h0M307.6 1277.5h0M308.3 1271.1h0M308.3 1284.1h0M308.9 1279.7h0M309.4 1277.7h0M310.1 1281.8h0M311 1276.3h0M311.8 1283.5h0M312.4 1287.9h0M313.2 1294.8h0M313.6 1292.5h0M313.7 1297.5h0M314.7 1286.4h0M315.2 1300.5h0M316.3 1296.1h0M316.4 1296.4h0M317.2 1284.4h0M317.4 1280h0M318.6 1287.4h0M319 1281.6h0M320 1291.3h0M320.4 1294.6h0M320.6 1292h0M321.8 1296.6h0M322.2 1296.2h0M323 1295.3h0M323 1294.9h0M324 1290.2h0M324.8 1297.3h0M324.9 1294.4h0M325.4 1300.8h0M326.3 1304.1h0M327.2 1308.8h0M327.6 1306.1h0M328.6 1312.5h0M329.2 1308.9h0M329.4 1306.5h0M330 1306.6h0M330.9 1306.1h0M331 1311.1h0M331.9 1309.3h0M332.7 1309.6h0M333 1314.2h0M333.5 1298.2h0M334.2 1312.8h0M335.1 1305.3h0M335.8 1297.6h0M335.9 1301.5h0M337.2 1306.4h0M337.9 1300.3h0M338.2 1303.8h0M338.9 1297.6h0M339.6 1294.7h0M340.4 1298.8h0M340.3 1294.7h0M340.9 1296.1h0M342.1 1289h0M342.8 1295.3h0M343.4 1284.4h0M343.4 1287.7h0M344.4 1295.5h0M344.9 1295.2h0M345.2 1305.2h0M346 1290.4h0M346.8 1302.5h0M347.1 1294.7h0M348 1298.6h0M348.5 1293.3h0M349 1293.9h0M350.1 1296h0M350.7 1304.4h0M351.2 1299.9h0M351.5 1294.5h0M351.9 1302h0M352.9 1283.2h0M353.2 1286.1h0M354.5 1298.4h0M354.5 1307.8h0M355.1 1309h0M356.4 1305.5h0M356.9 1304.8h0M357 1302.6h0M358.1 1304.6h0M358.1 1304.9h0M359.3 1310.1h0M359.7 1308.4h0M360.5 1307.3h0M361 1302.2h0M361.8 1304.7h0M362.5 1313.6h0M362.9 1308.7h0M363.7 1305.9h0M364 1308h0M365 1310.4h0M365.4 1301.8h0M366 1304.9h0M366.5 1307.7h0M366.8 1315.7h0M367.9 1311.9h0M368.6 1320.2h0M368.8 1317.6h0M369.4 1310.6h0M370.1 1313.6h0M371.1 1309h0M371.7 1319.4h0M372.1 1309.4h0M373 1313.7h0M373.5 1303.7h0M374.2 1304.5h0M374.8 1304.2h0M375.4 1316.1h0M375.8 1314.8h0M376 1312.1h0M376.6 1311.8h0M377.9 1311.7h0M377.9 1313.6h0M378.5 1307h0M379.4 1306h0M380.3 1298.2h0M381 1303.9h0M381 1317.3h0M382.1 1312.5h0M382.2 1315.5h0M383.1 1314.4h0M383.6 1320.7h0M384.7 1315.2h0M384.9 1314h0M385.7 1310.3h0M385.8 1301.5h0M386.7 1302.5h0M387.3 1301h0M387.8 1309.2h0M388.6 1309.7h0M389.6 1310.6h0M389.9 1305.9h0M390.5 1305.7h0M390.8 1306h0M391.8 1301.5h0M392.7 1308.5h0M393.3 1298.9h0M393.3 1304.3h0M394.4 1308.2h0M394.5 1316.9h0M395.4 1304.9h0M396.3 1304.8h0M396.7 1310.4h0M396.9 1311.7h0M397.9 1320.8h0M398.5 1313.6h0M398.8 1319.9h0M400 1306h0M400.4 1315.2h0M401.3 1314.6h0M401.4 1305.2h0M402.4 1314.4h0M402.4 1313.8h0M403.2 1316.3h0M404.2 1314.2h0M404.5 1314.5h0M405.5 1312.8h0M406.3 1318.1h0M406.5 1313.8h0M407.2 1313.1h0M407.5 1307.3h0M408.2 1304h0M408.9 1318.9h0M409.4 1311.8h0M410 1314h0M410.8 1313.3h0M411.8 1321.8h0M412.3 1329h0M412.4 1324.5h0M413.7 1332.5h0M413.9 1328.2h0M414.3 1330h0M414.8 1321.2h0M415.6 1328.6h0M416.5 1329.9h0M417.2 1334.9h0M417.9 1329.1h0M418.5 1330.3h0M418.6 1334.6h0M419.7 1320.9h0M420.3 1328.3h0M420.5 1317.2h0M421.3 1320h0M421.6 1325.3h0M422.3 1317.2h0M423.3 1316.4h0M423.5 1328.4h0M424.3 1326.3h0M425.1 1327.2h0M425.3 1332.2h0M426 1326.3h0M426.5 1326.5h0M427.8 1325h0M428.1 1325.2h0M428.8 1323.9h0M429.6 1339.4h0M430 1343.6h0M430.8 1339.9h0M431.4 1338.2h0M431.6 1340.6h0M432.1 1338.5h0M432.7 1349.5h0M433.6 1353h0M434.1 1346.9h0M435.2 1334.5h0M435.1 1328h0M435.9 1329.7h0M436.6 1329.1h0M437.6 1325.1h0M437.9 1328h0M438.8 1330.3h0M439.5 1340.2h0M439.9 1341.6h0M440.3 1338.4h0M441.3 1333.5h0M441.7 1344h0M442.6 1339.2h0M442.6 1337.5h0M443.4 1346.4h0M444.4 1338.5h0M445 1348h0M445.3 1345.7h0M446 1331.7h0M446.8 1354.7h0M447.2 1343.8h0M447.8 1338.8h0M448.2 1346.5h0M448.7 1357.5h0M449.9 1331.7h0M450.6 1339.6h0M451.1 1348.4h0M451.5 1339.4h0M452.2 1322.1h0M452.3 1331.1h0M453.4 1330.7h0M454.1 1341.8h0M454.5 1343.1h0M454.9 1339.2h0M456.1 1353.5h0M456.5 1349.6h0M456.7 1351.8h0M457.7 1352.3h0M458.4 1349.8h0M458.6 1346.6h0M459.6 1349.1h0M460.5 1344.6h0M460.4 1354h0M461.3 1357h0M461.9 1355.8h0M462.3 1347.7h0M463.5 1366.1h0M463.6 1365.5h0M464.1 1357.7h0M464.9 1348.4h0M465.8 1355h0M466.1 1357.6h0M467 1358.6h0M467.4 1365.5h0M468 1366h0M469 1353.8h0M469 1349.1h0M470.3 1355.8h0M470.4 1358.4h0M471 1356.4h0M471.9 1356.2h0M472.7 1355h0M472.9 1348.4h0M473.3 1357.7h0M474 1349.3h0M475 1344.2h0M475.7 1341.5h0M476.5 1343.3h0M476.8 1347.5h0M477.6 1352.7h0M478.2 1359.2h0M478.6 1342.6h0M479.2 1354.6h0M479.5 1361.1h0M480.8 1339.6h0M480.9 1343h0M482 1355.3h0M482.6 1347.8h0M483.2 1366.7h0M483.5 1360.1h0M484 1372.8h0M485 1371.6h0M485.6 1363.1h0M485.6 1344.2h0M486.5 1344.2h0M487.5 1351.4h0M488.2 1352.8h0M488.8 1349.7h0M489.4 1346h0M489.7 1350.3h0M490.7 1360.4h0M491 1357.5h0M491.8 1365.6h0M491.8 1360.9h0M492.6 1364.9h0M493.6 1365.7h0M494.1 1373h0M494.8 1376.6h0M495.6 1387.1h0M495.6 1362.1h0M496.5 1367.5h0M496.7 1364.6h0M497.4 1362.4h0M498.4 1357.4h0M498.7 1362.2h0M499.3 1369.3h0M499.8 1365.1h0M501.1 1360.2h0M501.4 1363.6h0M501.6 1363.1h0M502.3 1374.8h0M503.6 1367.9h0M503.9 1365.9h0M504.6 1376.5h0M505.2 1365.3h0M505.7 1372.7h0M506.4 1368.1h0M506.6 1368.5h0M507.3 1355h0M508.5 1350.8h0M508.6 1354h0M509.1 1363.1h0M509.7 1371.8h0M510.4 1369.5h0M511.5 1368.4h0M512.1 1360.3h0M512.7 1359h0M513.2 1352.6h0M513.8 1370.3h0M514.2 1365.1h0M515.3 1370.7h0M515.6 1371.4h0M516.2 1372.6h0M517 1375.7h0M517.1 1377.2h0M517.7 1371.8h0M518.3 1370h0M519.4 1368.9h0M520.1 1370.4h0M520.7 1361.7h0M520.8 1362.4h0M521.7 1375.9h0M522.5 1374.3h0M523.4 1375h0M523.5 1373.4h0M524.2 1360.2h0M524.5 1367.5h0M525.7 1373.7h0M525.7 1373.9h0M526.3 1371h0M527 1367.7h0M528 1375.4h0M528.6 1379.6h0M529.5 1380.6h0M529.6 1379.1h0M530.6 1374.3h0M530.8 1369.6h0M531.2 1370.2h0M532.2 1373.6h0M532.4 1381.3h0M533.7 1380h0M534.2 1386.7h0M534.5 1379.7h0M535.2 1379.9h0M536.1 1379.3h0M536.5 1377h0M537.1 1380.3h0M537.4 1377.6h0M538.2 1374.4h0M538.9 1360.5h0M539.6 1374.9h0M540.5 1372.2h0M540.9 1379h0M541.5 1371.2h0M541.9 1371.5h0M543.1 1368.5h0M543.2 1378.9h0M543.8 1380.5h0M544.4 1380.1h0M545.5 1385.1h0M545.6 1384.4h0M546.1 1393.3h0M547.3 1382.2h0M547.7 1385.3h0M548.1 1379.7h0M548.8 1388.8h0M549.7 1377.1h0M550.2 1386.2h0M550.6 1385h0M551.7 1397.1h0M552.3 1381.9h0M552.7 1388.6h0M553 1384.4h0M553.7 1383.2h0M554.2 1390.1h0M554.8 1386.5h0M555.5 1398.3h0M556.5 1394.6h0M557.1 1406.7h0M557.1 1400.8h0M558 1391.8h0M558.8 1384.7h0M559.3 1401.2h0M559.7 1390.8h0M560.7 1398.2h0M561.1 1396.4h0M562.1 1401.8h0M562.5 1400.8h0M563.4 1399.9h0M563.5 1400.5h0M564.1 1398.2h0M564.7 1380h0M565.6 1382.9h0M566.3 1386.5h0M566.5 1379.9h0M567.2 1391.5h0M568 1400.6h0M568.2 1398.1h0M569.1 1401.3h0M570 1409.1h0M570.8 1404.9h0M571.1 1401.2h0M571.8 1406h0M572 1407.6h0M573.1 1416h0M573.6 1400.9h0M574 1397.2h0M574.7 1394.4h0M575.3 1386.7h0M575.9 1391.1h0M576.3 1397.2h0M577.4 1403.5h0M578.2 1404.2h0M578.6 1404.8h0M578.7 1401.2h0M579.3 1397h0M580.4 1392.2h0M580.5 1396.8h0M581.8 1403.3h0M582.1 1406.3h0M582.4 1405.2h0M583 1403h0M584.3 1406.5h0M584.6 1409.9h0M584.9 1410.5h0M586.2 1408.1h0M586.8 1401.5h0M586.8 1417.1h0M588 1409.3h0M588.2 1408.1h0M588.5 1393.9h0M589.1 1403.1h0M589.7 1406.3h0M590.5 1401.7h0M591.5 1407.5h0M591.8 1402.3h0M592.5 1405.4h0M593.4 1404.3h0M593.8 1415.2h0M594.8 1419.4h0M595.4 1416.2h0M595.7 1423.7h0M596.4 1408.5h0M596.9 1414.8h0M597.2 1424.7h0M598 1430.4h0M598.7 1429h0M599.5 1436.5h0M600 1424.1h0M600.7 1435.3h0M600.9 1437.9h0M601.8 1432.2h0M602.1 1436.9h0M603.1 1426.7h0M603.4 1430h0M603.9 1420.2h0M605 1423.2h0M605.5 1427.6h0M606.1 1418.6h0M606.9 1422.7h0M607.3 1419.3h0M608.2 1423.9h0M608.5 1424.6h0M609.3 1432.1h0M609.5 1424.4h0M610.3 1430.7h0M611.2 1428.6h0M611.9 1429.5h0M612.1 1422.5h0M612.6 1414.3h0M613.4 1421.2h0M614.3 1417.4h0M614.5 1421.8h0M615.7 1422.6h0M616 1415.5h0M616.6 1418h0M617.4 1429.4h0M617.5 1423.8h0M618.2 1413.2h0M619.2 1411.3h0M619.4 1417.1h0M620 1418.7h0M620.8 1411.5h0M621.3 1421.9h0M622.3 1417.3h0M623.1 1421.6h0M623.3 1425.8h0M624 1417.7h0M624.4 1420.7h0M625.3 1413.1h0M625.9 1429.8h0M626.7 1431.6h0M627.5 1435h0M627.8 1443.9h0M628 1439.3h0M629.2 1438.4h0M629.4 1435.7h0M630 1431.4h0M631.1 1438.1h0M631 1432.2h0M632.1 1437.5h0M632.5 1434.7h0M633 1426h0M634.2 1426.6h0M634.7 1415.8h0M634.7 1409.1h0M635.7 1429.4h0M636 1433.9h0M637.3 1436.3h0M637.9 1427.3h0M637.9 1436.9h0M638.4 1444.7h0M639.7 1446h0M640 1439.1h0M640.6 1448.9h0M641.5 1448.1h0M642.1 1446.9h0M642.9 1450h0M642.7 1460.2h0M643.4 1459.6h0M644.4 1452.4h0M644.9 1451.4h0M645.2 1449.5h0M645.8 1444.3h0M646.4 1445.1h0M647 1433h0M648.4 1454h0M648.6 1443.9h0M649.2 1456.1h0M650 1446.2h0M650.9 1447.4h0M651 1450.4h0M651.9 1456h0M652.6 1447.2h0M653.3 1448.4h0M653.2 1446.6h0M654.4 1442.3h0M655 1452.5h0M655.2 1453h0M655.6 1460.6h0M656.3 1457.1h0M657.4 1465.6h0M657.6 1460.2h0M658.7 1460.9h0M659.5 1456.9h0M659.6 1454.9h0M660.4 1443.4h0M661.3 1459.9h0M661.5 1455.7h0M662.3 1458.2h0M663.2 1457.9h0M663.5 1462.4h0M664.1 1467.5h0M664.5 1446.6h0M665.6 1458.5h0M666 1468.8h0M666.9 1457.8h0M666.7 1453.6h0M667.9 1461.5h0M668.5 1457.7h0M669.3 1457.2h0M669.8 1459.3h0M670 1449.4h0M670.5 1456h0M671.2 1461h0M671.7 1463.9h0M672.6 1457.8h0M673.1 1458.4h0M673.6 1461.7h0M674.6 1467.5h0M675.1 1451.5h0M675.5 1466.4h0M676.2 1458.9h0M676.7 1467h0M677.6 1461h0M677.9 1462.3h0M678.9 1466.7h0M679.5 1457h0M680.1 1472.8h0M680.9 1469.4h0M681.1 1468.4h0M681.8 1476.5h0M682.8 1468.5h0M682.9 1461.4h0M683.7 1462.3h0M684.2 1457.3h0M685.1 1456.9h0M685.9 1450.9h0M686.1 1445.8h0M686.9 1452.8h0M687.4 1464h0M688.2 1463.7h0M688.6 1452.9h0M689.3 1465.1h0M689.6 1482h0M690.6 1471.1h0M691.5 1471.7h0M691.9 1472.7h0M692.4 1461.6h0M693.4 1470.5h0M693.5 1478.2h0M694.4 1467.2h0M694.9 1469.8h0M695.4 1479h0M696.4 1478.9h0M696.7 1483h0M697.3 1487.3h0M697.8 1473h0M698.5 1471.9h0M698.9 1470.1h0M699.8 1478.1h0M700.4 1478.5h0M700.7 1480.6h0M701.8 1478h0M701.9 1473.6h0M702.6 1477.9h0M703.5 1483.8h0M703.9 1478h0M705.1 1477h0M705.6 1465.7h0M705.7 1484.3h0M706.8 1490.6h0M707.5 1489.5h0M708.1 1483.9h0M708.7 1485h0M708.7 1494.1h0M709.4 1492.2h0M710.6 1489.5h0M710.8 1480.8h0M711.2 1481.1h0M712.4 1485.2h0M712.9 1480.1h0M713 1487.6h0M713.6 1495.1h0M714.4 1482.9h0M715.5 1482.6h0M716.2 1482.1h0M716.5 1482.6h0M717.4 1481.8h0M717.8 1495.6h0M718.4 1488h0M718.5 1492h0M719.5 1494.9h0M720 1481.3h0M720.8 1485h0M721 1482.4h0M721.9 1483.7h0M723 1486.1h0M723.1 1490.6h0M723.8 1493.9h0M724.5 1494h0M724.9 1483.9h0M725.4 1488.8h0M726.4 1486.1h0M726.7 1496.5h0M727.5 1490.3h0M727.8 1487.8h0M728.6 1485.3h0M729.5 1470.5h0M730.1 1490.7h0M730.5 1479h0M731.3 1480.6h0M731.6 1487.1h0M732.5 1482.7h0M733.4 1488.4h0M733.9 1487.8h0M734.1 1490.3h0M734.8 1492.8h0M735.7 1476h0M736.4 1470.7h0M737.1 1478.4h0M737 1480h0M738.1 1481.5h0M738.2 1479.4h0M739.2 1494.2h0M740.1 1490.1h0M740.2 1482.3h0M740.8 1475.3h0M741.5 1472.2h0M742.5 1470.5h0M742.6 1477h0M743.6 1481.5h0M744.1 1482.6h0M744.5 1483.9h0M745.6 1483.6h0M746.1 1493h0M746.2 1489.1h0M747 1493.2h0M748 1492.7h0M748.1 1486.4h0M749.2 1491.7h0M749.4 1506.6h0M750.2 1502.6h0M750.7 1508.9h0M751.4 1505.8h0M752.2 1508.8h0M753.1 1500.4h0M753.7 1495.9h0M754.1 1488.7h0M754.5 1494h0M755.5 1486.9h0M756.2 1497.4h0M756.7 1494.7h0M757.1 1501h0M758 1496.9h0M758.3 1492.6h0M758.6 1500.1h0M759.4 1506.9h0M760.5 1495.6h0M760.5 1483.9h0M761.1 1495.5h0M762.4 1501h0M762.7 1501.6h0M762.9 1502.4h0M763.8 1506.3h0M764.7 1510.8h0M764.9 1505.9h0M765.4 1500.9h0M766.5 1498.6h0M766.6 1493h0M767.8 1497.2h0M767.8 1492.4h0M768.8 1503.9h0M769.3 1503.8h0M769.9 1503.7h0M770.8 1508.9h0M771.3 1500.1h0M771.7 1506.1h0M772.4 1498.9h0M773.3 1500.4h0M773.6 1503h0M774.3 1495.5h0M774.7 1492.4h0M775.2 1494.1h0M776 1496.1h0M777.1 1497.1h0M777.7 1495.4h0M777.7 1510.9h0M778.9 1511.2h0M779 1512.8h0M779.8 1510.8h0M780.1 1509.3h0M780.9 1508.2h0M781.7 1497.5h0M782.1 1497.6h0M783 1494.5h0M783.5 1501.9h0M784 1489.1h0M784.7 1504.1h0M785.6 1504.7h0M786.1 1490.7h0M786.8 1502.5h0M787.6 1506.8h0M787.7 1508.6h0M788.7 1500.9h0M789.5 1498h0M789.6 1504.1h0M790.7 1504.5h0M790.8 1493.5h0M791.4 1495.5h0M792.5 1498.1h0M792.9 1494.5h0M793.2 1505.4h0M793.8 1503.1h0M794.8 1500.9h0M795.6 1502.4h0M795.8 1501.4h0M796.3 1496h0M797.2 1504.2h0M797.9 1503.5h0M798 1498.9h0M798.9 1506.2h0M799.5 1495h0M799.9 1505.6h0M801 1501.2h0M801.8 1495.2h0M802 1504.1h0M802.9 1512.3h0M803.1 1508.3h0M803.6 1505.2h0M804.4 1499.2h0M805.2 1507.1h0M806 1494.9h0M806.1 1512.1h0M807.3 1501.1h0M807.2 1505h0M808.5 1494.2h0M808.6 1504.5h0M809.1 1511.6h0M810.4 1501.5h0M810.4 1507.5h0M811.1 1513.6h0M812.3 1513.9h0M812.9 1508.9h0M813.3 1502.9h0M813.8 1509.8h0M814.2 1498.1h0M814.9 1504.1h0M815.4 1502.2h0M816.4 1506.1h0M816.7 1517.7h0M817.1 1513.8h0M818.1 1515.9h0M818.5 1507.1h0M819.1 1502.8h0M820.3 1500.7h0M820.8 1508.3h0M821.1 1513.1h0M821.8 1509.7h0M822.3 1506.6h0M822.8 1507.6h0M823.4 1509.3h0M824.5 1519h0M824.7 1504.8h0M825.4 1513.7h0M825.7 1514.2h0M826.5 1508.3h0M827.5 1507.7h0M828.1 1511.4h0M828.7 1506.5h0M829 1504.7h0M829.9 1508.3h0M830.1 1494.7h0M831.3 1502.3h0M831.8 1512.3h0M832.3 1504.9h0M833 1516.9h0M833.3 1514h0M834.1 1507.6h0M834.8 1518h0M835.4 1514.3h0M836.2 1510.1h0M836.8 1509.6h0M837.2 1508.6h0M838 1513.5h0M838.8 1516.1h0M839.3 1514.9h0M839.5 1523.3h0M840.1 1520.2h0M840.9 1514.2h0M841.2 1516.5h0M842 1518.2h0M843 1502.7h0M843.4 1507.9h0M844.1 1502.1h0M844.9 1507.4h0M844.8 1507.5h0M845.6 1513.9h0M846.2 1498.8h0M846.7 1509.4h0M847.6 1495.9h0M848 1508.2h0M849.2 1503.2h0M849.2 1496.7h0M850.3 1498h0M850.9 1501.2h0M851.6 1498.5h0M851.6 1496.8h0M852.7 1508.9h0M852.9 1520.3h0M853.9 1516.3h0M854.3 1515.2h0M854.7 1513.9h0M855.9 1507.8h0M856.5 1514.1h0M856.5 1499.1h0M857.9 1507.2h0M858 1511.1h0M858.9 1514.9h0M859.5 1513.3h0M860 1516.2h0M860.5 1516h0M861.2 1513.4h0M861.9 1503.4h0M862.4 1508.9h0M863 1506.8h0M863.5 1532.2h0M864.4 1514.9h0M864.5 1510.2h0M865.2 1506.4h0M865.8 1508.2h0M866.6 1505.5h0M867.4 1507.3h0M867.6 1508.5h0M868.4 1514.5h0M869.2 1515.8h0M870.2 1519.5h0M870.8 1519.8h0M870.7 1534.6h0M872 1531.6h0M872.7 1520.7h0M873.1 1516.8h0M873.7 1523.9h0M873.9 1511.2h0M874.4 1519.5h0M875.6 1512.1h0M875.7 1515.8h0M876.8 1530.9h0M877.3 1524.9h0M877.6 1526.9h0M878.3 1539.4h0M879.4 1536.7h0M879.6 1529.9h0M880.6 1526h0M881.2 1531.6h0M881.8 1522.7h0M882 1520.2h0M882.6 1529.4h0M883.6 1527.6h0M884 1521h0M884.6 1521.6h0M884.9 1529.7h0M885.8 1529.4h0M886.6 1522.8h0M886.8 1533.3h0M887.8 1532.9h0M888.1 1543.4h0M888.7 1533.3h0M889.3 1539h0M890.3 1535.6h0M890.5 1542.2h0M891 1544.6h0M891.8 1541.6h0M892.8 1537.8h0M893.5 1531.4h0M893.6 1543.1h0M894.1 1547.5h0M895.1 1538.8h0M895.9 1549.8h0M896.7 1533.8h0M896.7 1539.2h0M897.3 1538.4h0M897.9 1545.5h0M898.4 1542h0M899.4 1540.4h0M899.9 1543.3h0M900.8 1546.7h0M900.9 1546.3h0M901.9 1546.2h0M902.6 1554.6h0M903.1 1545.7h0M903.5 1537.6h0M904.5 1535.3h0M904.9 1534.2h0M905.5 1524.7h0M906.1 1535.6h0M906.8 1536.1h0M907 1535.1h0M908.2 1539.2h0M909 1529.6h0M909.6 1540.8h0M909.9 1536.2h0M910.7 1545.4h0M911 1547h0M911.8 1544.7h0M912.2 1555.5h0M913.2 1550h0M913.4 1542.8h0M914.4 1542.1h0M915 1552.8h0M915.7 1557.1h0M915.8 1559.5h0M916.4 1562h0M917 1548.9h0M917.7 1566.8h0M918.2 1561.2h0M918.8 1560.3h0M919.6 1550.4h0M920.5 1561.3h0M921 1549.4h0M921.3 1557.5h0M922.2 1555.9h0M922.9 1562.4h0M923.4 1557.8h0M923.9 1560.5h0M924.7 1565.5h0M925.6 1556.7h0M925.7 1559.4h0M926.4 1561.5h0" stroke="#dc282d" stroke-width="5.2" stroke-linecap="round" fill="none"/>
<path d="M126 1217.2h0M127.9 1215.2h0M130.6 1215.8h0M132.6 1208.4h0M134.2 1205h0M136.7 1209h0M138.1 1224.5h0M140.2 1221.2h0M142.4 1243.2h0M144.3 1232.4h0M146.2 1246.7h0M148.8 1242.7h0M150.8 1228.1h0M152.6 1231.8h0M154.6 1235.7h0M156.5 1230.6h0M158.4 1237.9h0M161 1238.7h0M162.9 1238.4h0M165 1233h0M166.7 1234.1h0M168.9 1241.4h0M170.7 1228.4h0M172.7 1241.3h0M174.8 1236h0M176.8 1245.6h0M178.9 1254.5h0M181.1 1261.7h0M182.5 1267.6h0M184.7 1263.9h0M187.2 1255.9h0M189.2 1255.7h0M191.4 1250.9h0M193.3 1253.5h0M194.9 1262.2h0M196.7 1260.1h0M199.1 1262.3h0M201.6 1248.3h0M203.5 1253.4h0M205.4 1254.4h0M207.1 1253.3h0M209.3 1248.7h0M211.3 1253.3h0M213.1 1256.4h0M215 1264.1h0M217.3 1262.2h0M219.1 1256.2h0M221.5 1263.3h0M223.4 1259.4h0M225.6 1266.8h0M227.4 1267.9h0M229.5 1264.7h0M231.8 1263h0M233.5 1257.3h0M235.3 1263.4h0M237.9 1269.4h0M239.9 1254.8h0M241.5 1263.4h0M243.8 1255.1h0M245.9 1248.8h0M247.9 1251.7h0M249.8 1252.6h0M251.6 1248.4h0M254.1 1267.3h0M255.6 1255.3h0M257.6 1268.6h0M260.2 1261.5h0M261.6 1262.7h0M263.9 1261.3h0M266 1257.8h0M267.7 1259.8h0M269.7 1258.4h0M272.3 1250.8h0M274 1268.5h0M276.4 1244.8h0M278.3 1260.5h0M279.8 1256.9h0M282.1 1261.5h0M284.6 1270.6h0M286.3 1263h0M288.3 1264.9h0M290.5 1262.8h0M292.2 1257.4h0M294.2 1255.5h0M296.1 1257.5h0M298.8 1260.4h0M300.2 1253.6h0M302.3 1264.7h0M304.9 1269.7h0M306.6 1271.8h0M308.7 1285h0M310.6 1290.3h0M312.6 1282h0M315 1281.2h0M316.5 1287.7h0M318.6 1290.5h0M320.7 1294h0M322.8 1296.6h0M324.5 1305.9h0M326.7 1304.6h0M328.9 1312h0M331.1 1304.8h0M333 1300.2h0M334.6 1311.3h0M336.8 1298.2h0M338.7 1288.6h0M341.2 1298h0M342.8 1286.9h0M344.7 1302h0M347.2 1304.6h0M348.9 1304h0M350.7 1304.4h0M352.9 1293.3h0M355.4 1294.9h0M357 1294.4h0M358.9 1301.6h0M360.8 1305.1h0M363 1308.9h0M365.5 1307.2h0M367.5 1312.1h0M369.7 1317.9h0M371.5 1308.7h0M373.5 1307.6h0M375.8 1314.1h0M377.7 1308.6h0M379.6 1296.2h0M381.5 1307.3h0M383.2 1299.9h0M385.5 1293h0M387.5 1291.9h0M389.9 1296.7h0M391.5 1298.6h0M393.7 1297.9h0M395.9 1304.4h0M397.8 1314.2h0M399.6 1303.4h0M401.5 1305.5h0M403.7 1310.3h0M405.4 1307.8h0M408 1315.1h0M409.9 1314.7h0M411.6 1315.9h0M414.1 1320.2h0M415.8 1333h0M417.6 1330h0M419.8 1327.2h0M422 1327.4h0M424.3 1319.8h0M426.3 1312.2h0M428 1328.7h0M430.3 1328.2h0M432.4 1324.9h0M434 1328.8h0M436.1 1327.5h0M438.1 1323.2h0M439.9 1327h0M442.6 1329.4h0M444.5 1330.3h0M446.5 1330.6h0M448.2 1326.3h0M450.3 1314.9h0M452.1 1324.8h0M454.2 1321.7h0M456.4 1330.6h0M458.5 1334.8h0M460.7 1329.8h0M462.2 1342h0M464.3 1343.8h0M466.2 1337.6h0M468.7 1345h0M470.5 1336.2h0M472.6 1331.9h0M474.9 1343.8h0M476.6 1349.6h0M478.8 1351.6h0M480.5 1359.8h0M482.8 1352.8h0M484.5 1354.5h0M487 1347.7h0M489 1349h0M490.9 1353.1h0M493.3 1369.6h0M495.1 1372.7h0M496.9 1363.3h0M498.9 1368.9h0M501.2 1360.7h0M502.7 1358.6h0M505.2 1361.7h0M507.2 1368.8h0M509 1374.2h0M511.2 1353.4h0M512.8 1362.3h0M515.5 1364.1h0M516.8 1356.6h0M519 1362.2h0M521.4 1356.7h0M523.1 1370.9h0M525.6 1380.6h0M527.1 1383.1h0M529.3 1365.3h0M531.6 1371.4h0M533.1 1359.8h0M535.1 1362.2h0M537.2 1370h0M539.2 1367.1h0M541.5 1373.7h0M543.2 1369.2h0M545.8 1388h0M547.4 1393.6h0M549.4 1385h0M551.4 1381.9h0M554 1390.5h0M555.7 1393.5h0M558 1394.2h0M559.9 1387.9h0M562 1395.9h0M563.7 1399.6h0M566.1 1398.9h0M567.7 1398.3h0M569.6 1395.6h0M572.1 1409.4h0M573.8 1404h0M576.1 1400.9h0M577.9 1402.5h0M580.3 1402.1h0M581.7 1388h0M584.4 1394.9h0M585.8 1396.9h0M588.4 1392.3h0M590.5 1390h0M592.2 1387.3h0M593.9 1397.3h0M595.9 1401.8h0M598.2 1404.5h0M600.4 1420.1h0M602.3 1420.9h0M604.1 1421.5h0M606.4 1424.1h0M608.6 1414.6h0M610.6 1424h0M612.1 1419.7h0M614.6 1417.6h0M616.5 1422.5h0M618.2 1418.3h0M620.3 1418.1h0M622.8 1418.5h0M624.9 1425.8h0M627 1421.6h0M628.3 1421.8h0M630.3 1425.2h0M633 1429.5h0M635.1 1421h0M636.9 1427.3h0M639.1 1424.9h0M640.9 1435.1h0M642.7 1450.2h0M644.8 1440.6h0M647.3 1443.8h0M649.3 1444.1h0M650.9 1445.5h0M653.2 1441h0M654.8 1437.7h0M657.3 1435.5h0M659.2 1444.6h0M661.4 1449.1h0M663.4 1447.7h0M664.9 1456.5h0M666.8 1463.8h0M669 1458.9h0M670.8 1464.8h0M673.2 1453.3h0M675.5 1461.7h0M677.6 1452.2h0M679.1 1461.4h0M681.6 1453.9h0M683.6 1461.9h0M685.5 1457.4h0M687.1 1460.5h0M689.2 1463.2h0M691.7 1464.1h0M693.4 1480.8h0M695.5 1479.4h0M697.4 1481.9h0M699.4 1483.1h0M701.9 1477.6h0M703.3 1483.9h0M706 1470h0M707.9 1470.1h0M709.7 1465.8h0M711.7 1465.4h0M713.9 1474h0M716.1 1469.6h0M718.1 1471.6h0M720.1 1480.9h0M722.2 1475.8h0M723.7 1475.3h0M725.9 1496h0M728.2 1487.5h0M730.3 1482.8h0M732.3 1485.2h0M734.3 1480.1h0M736.4 1477.5h0M738.4 1486.5h0M740.3 1482.2h0M741.8 1489.4h0M744.3 1494.9h0M746.1 1494.5h0M747.9 1502.9h0M750 1502.4h0M752.6 1492.9h0M754.3 1493.9h0M756 1480.6h0M758.6 1492.2h0M760.1 1494.5h0M762.2 1491.8h0M764.4 1490.6h0M766.7 1494.4h0M768.8 1489.6h0M770.3 1501.6h0M772.3 1498.3h0M774.2 1492.6h0M776.8 1498.3h0M778.4 1497.7h0M780.9 1496.1h0M782.5 1492.7h0M785 1490.4h0M786.4 1498h0M788.7 1492.9h0M790.9 1496.8h0M792.7 1494.1h0M794.5 1503.1h0M797.2 1508.1h0M798.6 1501.8h0M800.7 1497.5h0M802.9 1494.5h0M804.8 1488.1h0M807 1483h0M809.2 1492.6h0M811.2 1499.6h0M812.7 1501.8h0M815 1498.1h0M817.5 1510.9h0M819 1514h0M821.1 1510.7h0M823.1 1511.8h0M825 1505.2h0M827.4 1503.6h0M829.2 1512.5h0M831 1501.3h0M833.7 1500.4h0M835.4 1507.1h0M837.1 1516.7h0M839.1 1506.8h0M841.2 1520.5h0M843.1 1508.9h0M845.7 1511.8h0M847.4 1507.4h0M849.4 1499.4h0M851.7 1500.6h0M853.2 1497.8h0M855.6 1504.8h0M857.3 1516.8h0M859.4 1512.3h0M861.9 1510.7h0M864 1510h0M865.6 1508.1h0M867.6 1514.2h0M870 1512.5h0M871.9 1521.1h0M873.6 1519.2h0M876 1517.1h0M878.1 1509.9h0M879.9 1516.2h0M882.2 1522.4h0M883.6 1523.9h0M886.3 1527h0M887.6 1535.4h0M889.9 1535.3h0M892 1537.6h0M893.9 1536.9h0M896.1 1535.9h0M897.8 1550.7h0M900.4 1543.3h0M901.9 1542.9h0M904 1538.4h0M906.1 1536.8h0M908.5 1543.3h0M910.7 1547.9h0M912.6 1550.1h0M914.7 1560.2h0M916.2 1558.1h0M918.2 1568.4h0M920.1 1563.3h0M922.1 1564.4h0M924.6 1551.7h0M926.6 1554h0M420 1357h0M424 1349h0M414 1352h0" stroke="#1874cd" stroke-width="5.2" stroke-linecap="round" fill="none"/>
<g>
<path d="M1010 383.3h0M1021 369.4h0M1030.5 362h0M1041.9 370.4h0M1051.6 377.6h0M1062.2 369.7h0M1073.1 360.8h0M1083 363.9h0M1093.7 358h0M1103.5 354.5h0M1114.8 348h0M1125 362h0M1135.2 336.5h0M1146.2 312.3h0M1156.1 356.9h0M1166.7 348.7h0M1176.8 355.3h0M1187.5 364.7h0M1197.7 373.8h0M1208.3 367.1h0M1219.3 360.6h0M1229.2 377h0M1239.9 382h0M1250.9 333.5h0M1261.4 315.9h0M1271.5 331h0M1281.7 381.5h0M1291.9 382.8h0M1302.2 379.2h0M1313.6 372.6h0M1323.5 368.4h0M1333.5 363h0M1344.5 366.5h0M1355.2 373.1h0M1365.4 374.4h0M1376.3 375.9h0M1385.6 368h0M1396.7 361.9h0M1407.1 368.6h0M1417 374.2h0M1428.2 369.1h0M1438.9 367.3h0M1449 363.7h0M1459.1 369.6h0M1470.2 373.2h0M1480.3 371.7h0M1197 447.2h0M1227.8 428.7h0" stroke="#f5821f" stroke-width="7.9" stroke-linecap="round" fill="none"/>
<path d="M1006.4 372h0M1009.4 371.2h0M1012.9 348.6h0M1014.9 334.1h0M1018.4 346.8h0M1021.5 349.4h0M1023.7 352.1h0M1026.5 355.8h0M1029.6 355.6h0M1033 355.8h0M1035.8 354.6h0M1038.2 359.9h0M1041.4 362h0M1044.6 360.7h0M1047.2 366h0M1050.4 360.8h0M1053.7 350.6h0M1056.2 352.3h0M1058.8 344.9h0M1061.4 347.4h0M1064.5 345.2h0M1067.6 342.7h0M1071 345.8h0M1073.7 350.8h0M1076.1 351.4h0M1079.7 354.5h0M1082.1 351.1h0M1085.2 346.9h0M1087.4 347.7h0M1090.3 343h0M1093.3 354.2h0M1097.1 360.7h0M1099.7 363h0M1102.8 366.7h0M1105.5 360.9h0M1108.1 352.2h0M1111.1 338.3h0M1114.1 328.9h0M1117.3 329.6h0M1119.7 316.9h0M1123.2 319.3h0M1125.7 312.7h0M1128.9 312.5h0M1131.4 303.8h0M1134.5 305.9h0M1137 301.7h0M1140.1 294.9h0M1142.7 292.7h0M1145.4 300.1h0M1148.2 312.6h0M1151.9 325.3h0M1154.5 334h0M1158 335h0M1160.8 339.3h0M1163.2 340.2h0M1166.8 341.8h0M1169.2 339.4h0M1172.3 344.6h0M1174.8 344.5h0M1177.4 337.1h0M1180.3 360.4h0M1183.2 372.2h0M1186.6 378.3h0M1188.9 380.2h0M1191.7 384.2h0M1195.6 381.4h0M1197.6 363.7h0M1200.9 345.4h0M1203.9 344.8h0M1206.9 336.9h0M1209.7 333.9h0M1213.1 339.7h0M1215.8 345.5h0M1218.5 349.7h0M1221.4 352h0M1224.2 365.5h0M1227.7 380.9h0M1238.2 376.9h0M1241.4 379.7h0M1245 343.4h0M1247.7 330.1h0M1249.7 322.9h0M1253 305.2h0M1255.5 297.1h0M1259.4 292.3h0M1261.4 295.4h0M1264.3 298.9h0M1268.3 299.5h0M1270.5 306.6h0M1273.3 309.8h0M1275.9 344.2h0M1279.2 366.6h0M1282 382h0M1285.1 402h0M1287.4 388.6h0M1290.5 359.5h0M1293.5 358.1h0M1296.6 360.9h0M1299.4 358.3h0M1302.6 365.2h0M1305.1 364.4h0M1308.8 370.5h0M1311.8 372.6h0M1313.6 375.5h0M1316.7 367.9h0M1320 361.8h0M1323.1 357.9h0M1325.2 353.3h0M1328.2 350h0M1331.4 347.9h0M1334.6 348.6h0M1337.8 343.6h0M1340.6 341.9h0M1343.5 345.6h0M1345.5 343.1h0M1349.5 346.5h0M1351.9 337.7h0M1354.2 333.3h0M1357.3 348.6h0M1360.6 358.6h0M1363.3 354.6h0M1366.2 363h0M1369.6 367h0M1372.5 366.6h0M1375.1 365.3h0M1378.3 357.4h0M1380.7 353h0M1384.3 345h0M1386.7 359.8h0M1390.1 360.6h0M1391.9 373.3h0M1395.8 379.3h0M1398.3 376.5h0M1401.4 368.4h0M1403.6 362.1h0M1407 360.8h0M1409.5 361.4h0M1412.2 364.1h0M1415 362.2h0M1419 362.6h0M1421.6 359.8h0M1423.9 366.6h0M1426.9 370.4h0M1430.1 370.4h0M1433.4 376.5h0M1435.4 378.9h0M1439.4 390.4h0M1442.2 392.7h0M1444.3 382.5h0M1447.7 374.6h0M1450.2 365.5h0M1453.5 360h0M1455.7 362h0M1459.1 366h0M1462.1 369h0M1465.1 376.8h0M1468 378.9h0M1471.2 366.2h0M1473.3 368.5h0M1476.1 366.7h0M1479.3 360.8h0M1234.7 415.7h0M1231.6 438h0M1228.9 446.5h0M1230.6 442.4h0M1226.8 389.4h0M1239.8 379.8h0" stroke="#2ca02c" stroke-width="7.9" stroke-linecap="round" fill="none"/>
<path d="M1005 347.2h0M1008.1 342h0M1011.7 341.3h0M1014.3 343h0M1016.6 344.5h0M1019.9 349.5h0M1022.9 340.1h0M1025.4 349.2h0M1029 344h0M1031.1 344.7h0M1034.4 348.6h0M1037.4 353h0M1040.2 356.6h0M1043.3 357.7h0M1046.4 363.2h0M1049.5 355.6h0M1051.6 354.1h0M1055 354.9h0M1057.9 348.4h0M1060.4 354h0M1062.9 348h0M1067 349h0M1069.1 340.9h0M1072 342.8h0M1075.6 347.3h0M1078.1 351.9h0M1080.9 347.7h0M1084.1 348.8h0M1086.1 345.8h0M1089.8 348.9h0M1092.3 340.3h0M1094.9 348.5h0M1098.5 346.8h0M1101.7 349.2h0M1103.7 351.1h0M1107.2 347.5h0M1109.7 349.7h0M1113.1 358.1h0M1116 361.3h0M1118.3 368.5h0M1121.9 374.2h0M1124.6 369.6h0M1127.5 368.9h0M1130.6 367h0M1133 365.1h0M1136.3 374.3h0M1139.4 365.5h0M1141.3 369.1h0M1145.1 362.7h0M1147.5 359.1h0M1150.5 348.6h0M1153 341.7h0M1156.5 346.4h0M1159 344.8h0M1162.5 348.2h0M1164.7 353.2h0M1168 357h0M1170.7 354.7h0M1173.8 350.4h0M1176.2 350.3h0M1179.1 349.7h0M1182.7 361h0M1185.6 363.2h0M1188.3 370.4h0M1191.6 365.8h0M1193.6 351.6h0M1197.3 357.2h0M1199.4 355.8h0M1203.3 352.4h0M1205.7 356.5h0M1208.6 352.8h0M1212 349.4h0M1214.6 354.6h0M1217.5 355.7h0M1219.6 357.2h0M1222.8 353.7h0M1225.4 358.2h0M1228.4 357.5h0M1231.4 350.7h0M1235 351.1h0M1237.1 349.3h0M1240.2 340.3h0M1243.3 339.7h0M1246.6 337h0M1249.7 351.3h0M1252.2 367.5h0M1254.6 378.6h0M1257.9 384.1h0M1260.9 373.8h0M1263.1 371.8h0M1266.7 373.9h0M1269.2 373.4h0M1272.4 381.5h0M1275.4 375.9h0M1278.3 382.6h0M1281 383.7h0M1284 386.7h0M1286.4 382.8h0M1289.7 393.2h0M1292.2 344h0M1295.5 338.4h0M1298.4 335.1h0M1301.6 335.3h0M1304.1 338.8h0M1306.5 351.2h0M1310 364.9h0M1312.5 367.5h0M1316.1 367.1h0M1318.6 366.1h0M1321.5 366.3h0M1325 363.4h0M1327.3 359.1h0M1330.1 359.5h0M1333 361h0M1336.1 361.7h0M1338.5 363.8h0M1342 370.9h0M1345.3 370.2h0M1347.8 357.6h0M1350.9 351.7h0M1354 348h0M1356.8 356.4h0M1359.6 351.6h0M1362.6 362.5h0M1365.5 369.7h0M1367.7 368.5h0M1370.9 380.2h0M1373.6 379.7h0M1376.4 366.8h0M1379.7 359.4h0M1382.3 344.5h0M1385.5 348.1h0M1388.4 362.1h0M1390.7 360.7h0M1394 375.1h0M1396.9 369.8h0M1400.1 373.5h0M1402.3 371.1h0M1405.3 361.3h0M1408.6 360.5h0M1411.4 357h0M1414.6 347.2h0M1417.1 343.8h0M1419.8 350.2h0M1423.6 348.4h0M1425.7 346.6h0M1428.5 350.9h0M1431.5 357.8h0M1434.5 363.4h0M1437.3 377.3h0M1440.5 388.8h0M1443.9 383.7h0M1445.9 371.9h0M1449.1 363.1h0M1452.3 358.7h0M1455.5 357.7h0M1458.5 357.9h0M1460.4 360.8h0M1463.7 359.9h0M1467.1 364.5h0M1469 365.1h0M1472.5 368.4h0M1474.9 368.4h0M1478.5 365.5h0" stroke="#dc282d" stroke-width="7.9" stroke-linecap="round" fill="none"/>
<path d="M1008 360.6h0M1018 359.9h0M1029 359.2h0M1038.3 350.8h0M1049.4 356.6h0M1059.6 349.5h0M1070.6 342.4h0M1080.3 351.4h0M1091.5 360h0M1101.6 362.2h0M1112.5 362.7h0M1122.4 369.8h0M1132.8 360.7h0M1143.7 355.2h0M1154.4 359.7h0M1164.1 362.7h0M1175.3 355.2h0M1185.7 367h0M1195.2 379.5h0M1206.2 366.5h0M1216.7 359.2h0M1227.5 372.1h0M1237.6 394.7h0M1247.4 391.9h0M1258.3 375.2h0M1268.7 368h0M1279.2 384.3h0M1290.2 387.8h0M1299.9 367.7h0M1310.2 371.6h0M1321 370.7h0M1331.6 374.1h0M1342.4 373.6h0M1352.4 374.3h0M1362.5 360.9h0M1373.8 367.2h0M1383.7 361.4h0M1394.4 355.2h0M1404.6 360h0M1414.7 364.9h0M1425.7 351.1h0M1436.3 353.2h0M1446 354.3h0M1456.8 352.3h0M1467.1 360.8h0M1477.4 377.1h0" stroke="#1874cd" stroke-width="7.9" stroke-linecap="round" fill="none"/>
</g>
<g>
<path d="M1017.4 859.7h0M1035.7 861h0M1055 858.9h0M1074.1 863.2h0M1092.8 861.3h0M1111.6 866.5h0M1130.7 869.8h0M1149.6 862h0M1168.2 868.4h0M1187.2 867.1h0M1206.3 868.2h0M1224.4 862.9h0M1244 870.3h0M1263 868.6h0M1281.5 871.9h0M1300.5 865.5h0M1319.1 872.3h0M1338.5 873.4h0M1357.8 870h0M1375.9 872.2h0M1395 872h0M1414.4 871.6h0M1432.9 876.6h0M1451.6 875h0M1470.8 879.1h0M1010.5 855.2h0M1087.5 857h0M1279.9 862.1h0M1183.4 963.7h0M1202.9 1009.3h0M1222 916.5h0M1241.5 924.4h0" stroke="#f5821f" stroke-width="7.9" stroke-linecap="round" fill="none"/>
<path d="M1006.2 855.2h0M1011.6 856.5h0M1015.3 857.6h0M1019.9 858.2h0M1024.7 859.9h0M1029.2 858.4h0M1034.3 858.1h0M1038.2 859.5h0M1043.8 862.2h0M1048.3 858.8h0M1051.9 860.5h0M1057.1 857.6h0M1061.2 862.7h0M1066 861.9h0M1070.8 862.9h0M1075.4 860.7h0M1080.1 859.1h0M1085.2 862.2h0M1089 862h0M1093.5 859.6h0M1098.7 859.3h0M1103.6 863h0M1108.2 862.6h0M1112.8 868.3h0M1116.4 864.9h0M1122 866.8h0M1126.3 868.2h0M1131.1 865.7h0M1135.2 865.9h0M1139.6 867.1h0M1144.9 861.4h0M1149.3 861h0M1154 861.5h0M1157.9 866h0M1162.5 867h0M1167.8 867.3h0M1171.5 867.2h0M1177.2 868.6h0M1180.9 868.3h0M1186 866.1h0M1190.4 867.8h0M1194.9 862.9h0M1259.5 867.1h0M1264.5 868.8h0M1269 867.9h0M1273.8 866.9h0M1277.4 866.5h0M1283 868.1h0M1287.1 868.2h0M1291.6 867h0M1296.5 862.9h0M1301 864.1h0M1305.4 866.3h0M1309.8 868.5h0M1315.2 869.3h0M1319.7 870.1h0M1323.4 871h0M1328.4 871h0M1333.4 868.8h0M1338.2 870.7h0M1342.9 869.9h0M1346.6 867.7h0M1352 868.6h0M1356.3 873.7h0M1360.2 867.7h0M1365 865h0M1369.5 868.1h0M1374 872.4h0M1379.3 870.8h0M1383.5 872.4h0M1388.5 871.1h0M1392.4 871.3h0M1397.9 873.2h0M1402.3 872.2h0M1407 870.2h0M1411.4 871.2h0M1415.8 871h0M1420.1 869.4h0M1425.6 871.4h0M1429.3 872.5h0M1434.3 872.2h0M1438.4 875.1h0M1443 872.7h0M1448.3 871.7h0M1453.2 869.9h0M1457.3 871.5h0M1462.3 876.9h0M1466.9 873.5h0M1471.1 876.7h0M1197 888.4h0M1199.4 885h0M1203.9 905.6h0M1209 924.4h0M1214.2 929.5h0M1217.6 909.7h0M1222.7 911.7h0M1226.1 909.7h0M1229.6 908.3h0M1234.7 907.3h0M1238.1 938.1h0M1243.3 922.7h0M1248.4 904.5h0M1253.5 886.7h0M1258.7 878.9h0M1128.6 876.5h0M1364.7 879.9h0M1369.9 880.9h0" stroke="#2ca02c" stroke-width="7.9" stroke-linecap="round" fill="none"/>
<path d="M1004.1 859.3h0M1009.1 859.7h0M1013.8 860.3h0M1017.7 859.9h0M1022.5 860.8h0M1028 862.4h0M1031.6 861.3h0M1036.3 860.3h0M1041.8 863h0M1046 862.6h0M1050.3 864.4h0M1055.1 863h0M1059.9 862.9h0M1064 862.4h0M1068.5 865h0M1073.8 866.1h0M1078.3 863.1h0M1082.7 863.2h0M1087.7 864.3h0M1092 863.1h0M1097.1 864.1h0M1100.7 864.7h0M1105.8 865.8h0M1110.3 867.4h0M1114.7 868.1h0M1119.6 870.7h0M1123.8 871h0M1129.1 871.6h0M1133.7 869.4h0M1137.5 867.4h0M1142.5 866.5h0M1146.8 863.7h0M1151.2 866.4h0M1156.8 867.9h0M1160.8 869.7h0M1165.1 870.2h0M1170.3 871.3h0M1174.3 871.2h0M1179.8 870.3h0M1183.6 869.8h0M1187.9 869.5h0M1192.7 868.5h0M1197.5 868.6h0M1202.3 868.5h0M1207.4 868.4h0M1211.7 866.9h0M1215.9 864.2h0M1220.1 864.5h0M1224.9 864.9h0M1230.5 867.7h0M1234.5 869.3h0M1239.3 869.4h0M1243.2 869.8h0M1247.7 872.8h0M1253.3 872.2h0M1257.6 873.6h0M1261.9 873.7h0M1266.5 870.9h0M1270.8 871.8h0M1275.5 871.7h0M1279.9 871.5h0M1285.5 871.3h0M1289.7 870.3h0M1293.9 868.9h0M1299.2 866.1h0M1303.1 868.1h0M1307.6 868.8h0M1312.8 870.8h0M1317.8 871.1h0M1321.3 872.6h0M1326.9 873.2h0M1330.7 873.2h0M1335.2 873.7h0M1339.7 873.9h0M1344.7 873.9h0M1349.8 874.6h0M1354.1 873.4h0M1359.1 873.2h0M1363 872h0M1367.7 872.1h0M1372.2 871.3h0M1377.7 874.3h0M1382.2 873.7h0M1386.1 874h0M1390.8 874.3h0M1395.3 873.8h0M1400.4 874.4h0M1404.1 873.1h0M1408.8 872.1h0M1413.8 871.7h0M1418.2 873.4h0M1423.5 873.4h0M1428 873.5h0M1432.4 875.8h0M1437.1 874.9h0M1441.7 877.7h0M1446.4 874.4h0M1451.2 876h0M1454.9 876.6h0M1460.1 875.7h0M1464.1 878.2h0M1469 879.8h0M1474 879.7h0" stroke="#dc282d" stroke-width="7.9" stroke-linecap="round" fill="none"/>
<path d="M1011.4 865.6h0M1030.3 865.7h0M1049.2 867.9h0M1067.4 866.9h0M1086.1 869.1h0M1106 868.1h0M1124.5 875.7h0M1142.7 870.4h0M1162.7 873h0M1181.7 874.3h0M1199.7 886h0M1219.3 875.7h0M1237.3 874.8h0M1256.6 892.9h0M1276 875h0M1294.4 883.5h0M1313.4 875.6h0M1331.8 875.6h0M1351.6 877.9h0M1370.1 883.3h0M1388.7 879.3h0M1408.2 877.4h0M1427.4 878.8h0M1445.7 880.1h0M1464.9 881.3h0" stroke="#1874cd" stroke-width="7.9" stroke-linecap="round" fill="none"/>
</g>
<g>
<path d="M1010.5 1444.8h0M1021.5 1434.5h0M1031.8 1446.5h0M1042 1430.4h0M1073.2 1453.3h0M1083.4 1433.8h0M1094.4 1422.5h0M1114.9 1439.6h0M1125.9 1434.5h0M1136.1 1444.8h0M1167.3 1444.8h0M1177.9 1424.2h0M1188.5 1434.5h0M1198.8 1412.2h0M1209.4 1425.2h0M1251.5 1509.1h0M1272.3 1432.8h0M1293.6 1424.2h0M1303.8 1411.2h0M1314.4 1437.9h0M1324.7 1431.1h0M1335.3 1433.8h0M1366.8 1463.6h0M1377.1 1431.8h0M1387.7 1475.6h0M1397.9 1455h0M1408.5 1478.3h0M1418.8 1466h0M1429.4 1479h0M1440 1475.6h0M1450.3 1479.7h0M1460.9 1484.1h0M1471.9 1502.3h0" stroke="#f5821f" stroke-width="7.9" stroke-linecap="round" fill="none"/>
<path d="M1005.3 1481.8h0M1008.5 1478.7h0M1011.8 1463.8h0M1015.9 1476.2h0M1019.1 1478h0M1023.1 1488.8h0M1026.3 1494.4h0M1029.7 1483.6h0M1032.2 1483.4h0M1036.2 1478.7h0M1039.6 1479.1h0M1042.4 1485.4h0M1046.3 1480.8h0M1049.5 1480.6h0M1052.8 1500h0M1056.9 1482.9h0M1059.8 1488.2h0M1062.8 1488.5h0M1066.5 1482.5h0M1070.6 1493.2h0M1073.4 1489.6h0M1076.5 1478.3h0M1079.8 1473.5h0M1083.7 1466.9h0M1087.3 1454.4h0M1090.4 1460h0M1094.3 1448.2h0M1097.3 1448.2h0M1101.1 1458.8h0M1104.2 1465.2h0M1107.6 1460.1h0M1110.8 1472.5h0M1113.8 1474.8h0M1117.9 1466.1h0M1121.5 1464.1h0M1124.8 1464.7h0M1127.8 1462.2h0M1130.8 1460.7h0M1134.3 1468.9h0M1138.2 1470.1h0M1141.7 1465.7h0M1144.3 1470.8h0M1148.8 1474.2h0M1152 1478.2h0M1155.4 1481h0M1159.1 1482.4h0M1162 1496.6h0M1165.3 1491.8h0M1168.4 1495.4h0M1172.3 1505.6h0M1175.7 1490.7h0M1179.4 1473h0M1182.8 1445.6h0M1185.7 1453h0M1189.5 1463.4h0M1193 1462.5h0M1195.8 1459.9h0M1199.4 1459.3h0M1202.8 1468.7h0M1206.1 1462.3h0M1209.5 1471.4h0M1212.6 1476.7h0M1215.9 1481.1h0M1219.5 1489.6h0M1223.2 1499.6h0M1226.7 1500.7h0M1230.3 1489.6h0M1233 1489.7h0M1236.7 1481.9h0M1264.3 1483.9h0M1267.8 1468.4h0M1270.5 1461h0M1274.3 1449.2h0M1277.3 1457.3h0M1280.7 1468.1h0M1284.7 1488.6h0M1288 1475.2h0M1291.4 1471.2h0M1294 1463.1h0M1298.5 1454.6h0M1301.5 1454h0M1304.7 1468.3h0M1308.6 1462.3h0M1311 1476.3h0M1314.7 1468.7h0M1317.9 1457.8h0M1321.5 1455.5h0M1325.4 1453h0M1328.1 1446.6h0M1332.2 1459.5h0M1335.4 1458.5h0M1338.5 1461.6h0M1342.5 1456.5h0M1345 1456.6h0M1348.6 1443.2h0M1352.3 1449.2h0M1355.6 1449.8h0M1359 1468h0M1363.1 1481.4h0M1366 1483.2h0M1369.5 1489.7h0M1372.6 1487.2h0M1375.7 1489h0M1379 1477.1h0M1383.2 1475.6h0M1386.6 1482.6h0M1390.3 1485.8h0M1392.8 1488h0M1396.4 1499.9h0M1399.8 1520.1h0M1403.4 1518.7h0M1406.2 1529.3h0M1410.5 1526h0M1413.8 1525.4h0M1416.4 1515.3h0M1420.6 1517.4h0M1423.5 1507.8h0M1427 1506.4h0M1430.1 1512h0M1434.1 1529.4h0M1437.4 1512.8h0M1440.1 1509.4h0M1443.7 1517.1h0M1447.8 1514.1h0M1450.5 1513.2h0M1454.3 1525.3h0M1457.9 1519.7h0M1460.7 1534.7h0M1464.5 1529.4h0M1467.8 1539.1h0M1470.9 1527.8h0M1243.3 1511.5h0M1260.4 1508.8h0M1246.7 1537.8h0M1256.9 1535.4h0M1249.1 1557.7h0M1255.2 1563.9h0M1250.8 1569.7h0M1253.5 1566.2h0M1241.5 1492.7h0M1245 1485.8h0" stroke="#2ca02c" stroke-width="7.9" stroke-linecap="round" fill="none"/>
<path d="M1005.3 1476h0M1007.4 1460h0M1009.9 1465.6h0M1011.4 1467.8h0M1014.4 1463.9h0M1017.1 1465.9h0M1018.7 1484.7h0M1020.6 1492.2h0M1023.9 1493.5h0M1025.9 1477.5h0M1027.6 1488h0M1030.5 1477.5h0M1033.2 1468.6h0M1034.6 1466.7h0M1037.6 1461.7h0M1039.7 1473h0M1041.5 1469.7h0M1043.7 1466.3h0M1046.9 1472h0M1048.5 1469.2h0M1050.9 1454.9h0M1053.5 1459.2h0M1055.5 1452.6h0M1057.3 1439.7h0M1059.9 1449.4h0M1062.5 1461.3h0M1065.1 1459.4h0M1067.2 1477.4h0M1069.3 1484.2h0M1071.3 1476.1h0M1074.3 1477.5h0M1075.9 1480.5h0M1078.9 1459h0M1080.9 1449h0M1083.3 1445.8h0M1085.4 1433.3h0M1087.4 1431.6h0M1089.7 1440.6h0M1092.6 1435.3h0M1094.4 1438.5h0M1096.4 1439.8h0M1098.9 1432.8h0M1102.1 1437.7h0M1104.2 1438.4h0M1106.3 1436.9h0M1108.4 1440.4h0M1111.2 1452.8h0M1112.8 1454.7h0M1115.6 1462.7h0M1117.1 1471.9h0M1120.2 1476.9h0M1122.9 1460.4h0M1124.9 1459.2h0M1126.4 1460.2h0M1129.3 1459.8h0M1131.3 1462.2h0M1134.3 1447h0M1135.5 1449.3h0M1137.8 1452.6h0M1140.2 1457.8h0M1142.8 1457.6h0M1145.8 1441h0M1147.7 1445h0M1150.1 1440h0M1151.7 1454.8h0M1154.1 1459.8h0M1156.7 1462.3h0M1159.3 1468.3h0M1161.7 1479h0M1163.8 1468.6h0M1165.7 1442.2h0M1167.9 1434.2h0M1170.5 1449.5h0M1172.6 1461.3h0M1175.5 1475.8h0M1178 1474.3h0M1180.2 1477.3h0M1181.6 1467.8h0M1184.7 1482.2h0M1186.1 1489.1h0M1188.6 1466.2h0M1191.5 1462.9h0M1193.4 1460.2h0M1196.3 1440.7h0M1198.4 1416.7h0M1200.7 1436.1h0M1202.9 1422.7h0M1205.6 1444.4h0M1207.8 1435.1h0M1209.1 1437.8h0M1212.6 1446h0M1214.2 1447.7h0M1216.4 1453.5h0M1219.3 1454.6h0M1221.7 1452.1h0M1223.8 1463.4h0M1226.1 1461.1h0M1227.5 1459.5h0M1230.1 1459.7h0M1233.1 1459.4h0M1235.6 1460.7h0M1237 1469.4h0M1239.9 1476.4h0M1241.4 1481.9h0M1244.5 1496.5h0M1246.3 1484h0M1248.3 1478.2h0M1250.7 1470.6h0M1253.5 1447.4h0M1255.7 1445.4h0M1258.2 1461.2h0M1260.1 1447.3h0M1262.7 1464.3h0M1264.8 1454.2h0M1267.5 1469.1h0M1268.9 1464.9h0M1271.9 1473.1h0M1274.2 1479.9h0M1275.9 1475.6h0M1279 1482.6h0M1281.2 1478.3h0M1283.8 1475.3h0M1285.2 1467.8h0M1287.8 1473.8h0M1290.6 1464.3h0M1293 1454.1h0M1295 1439.6h0M1296.9 1445.3h0M1299.7 1439.5h0M1301.6 1441.8h0M1304 1453.7h0M1306.5 1461.9h0M1309.1 1461.9h0M1310.3 1469.4h0M1313.4 1469.9h0M1316 1471.6h0M1317.6 1469.3h0M1319.8 1468.7h0M1322.5 1471.9h0M1324.1 1479.9h0M1327.4 1485.1h0M1329.3 1467h0M1331.8 1462h0M1334.2 1477.3h0M1335.6 1484h0M1338.1 1480.5h0M1340.7 1479.6h0M1343.2 1464.8h0M1345.2 1468.5h0M1347.4 1463.8h0M1349.4 1474.4h0M1352.2 1482.3h0M1355.1 1482.9h0M1356.3 1497h0M1359.3 1484.9h0M1361.1 1498.6h0M1364.4 1507.1h0M1366.5 1509.3h0M1368.1 1507.6h0M1371.3 1493.2h0M1372.8 1500.9h0M1375.5 1492.4h0M1377.3 1482h0M1379.7 1480.1h0M1381.7 1468.2h0M1384.3 1455.7h0M1386.7 1468.6h0M1388.5 1471.1h0M1390.8 1481.7h0M1393.1 1484.3h0M1396.5 1499.7h0M1398.2 1525.2h0M1401.1 1529.8h0M1402.9 1536.9h0M1405.3 1527h0M1407.3 1529.8h0M1410.1 1529.4h0M1411.9 1522.1h0M1414.8 1510.6h0M1416.6 1510.9h0M1418.6 1499.2h0M1421.2 1498.8h0M1423 1502h0M1425.8 1495.7h0M1428.1 1498.7h0M1430.7 1510.4h0M1433.4 1501h0M1434.7 1507.8h0M1437.5 1498.6h0M1440.1 1490.9h0M1442.2 1496h0M1444 1491.3h0M1446.5 1478.3h0M1449.4 1482.6h0M1451.2 1495h0M1453.7 1514.7h0M1455.6 1508.9h0M1458.5 1519.8h0M1460.5 1531.5h0M1463 1536.7h0M1464.7 1535.8h0M1467 1546.6h0M1469.2 1542h0M1472 1515.3h0M1473.7 1535h0" stroke="#dc282d" stroke-width="7.9" stroke-linecap="round" fill="none"/>
<path d="M1011.2 1448.9h0M1021.5 1454.3h0M1031.8 1449.9h0M1042 1442h0M1052.6 1443.7h0M1062.9 1422.5h0M1073.2 1430.4h0M1083.4 1468h0M1094.4 1469.4h0M1104.6 1453.3h0M1114.9 1467h0M1125.9 1468h0M1136.1 1448.2h0M1146.7 1444.1h0M1157 1425.9h0M1167.3 1425.2h0M1177.9 1412.2h0M1188.5 1443h0M1198.8 1437.9h0M1209.4 1404.4h0M1220 1455h0M1230.6 1472.1h0M1240.9 1479h0M1251.5 1473.2h0M1262.1 1473.8h0M1272.3 1447.5h0M1283 1445.4h0M1293.6 1429.4h0M1303.8 1456.7h0M1314.4 1449.9h0M1324.7 1447.5h0M1335.3 1453.3h0M1345.9 1454.3h0M1356.2 1453.3h0M1366.8 1508.1h0M1377.1 1511.5h0M1387.7 1524.2h0M1397.9 1521.8h0M1408.5 1502.3h0M1418.8 1486.5h0M1429.4 1511.5h0M1440 1500.2h0M1450.3 1480.7h0M1460.9 1513.9h0M1471.9 1490.3h0" stroke="#1874cd" stroke-width="7.9" stroke-linecap="round" fill="none"/>
</g>
<path d="M280.5 198.5L1003 283.2" stroke="#111" stroke-width="2.4" stroke-dasharray="21 8.7" stroke-dashoffset="8" fill="none"/>
<path d="M731.5 899L1002 841" stroke="#111" stroke-width="2.4" stroke-dasharray="21 8.7" stroke-dashoffset="2.3" fill="none"/>
<path d="M900.5 1506L1001.5 1444.4" stroke="#111" stroke-width="2.6" stroke-dasharray="18.5 19" fill="none"/>
<rect x="126" y="54" width="799.3" height="398.3" fill="none" stroke="#000" stroke-width="4.0"/>
<path d="M132 454.3v8.4M132 52v-8.4M230.4 454.3v8.4M230.4 52v-8.4M328.9 454.3v8.4M328.9 52v-8.4M427.4 454.3v8.4M427.4 52v-8.4M525.8 454.3v8.4M525.8 52v-8.4M624.2 454.3v8.4M624.2 52v-8.4M722.7 454.3v8.4M722.7 52v-8.4M821.1 454.3v8.4M821.1 52v-8.4M919.6 454.3v8.4M919.6 52v-8.4M124 447.9h-8.4M927.3 447.9h8.4M124 362.3h-8.4M927.3 362.3h8.4M124 276.8h-8.4M927.3 276.8h8.4M124 191.2h-8.4M927.3 191.2h8.4M124 105.6h-8.4M927.3 105.6h8.4" stroke="#000" stroke-width="3.4" fill="none"/>
<text x="132.8" y="501.6" font-size="30" text-anchor="middle" fill="#1c1c1c">16</text>
<text x="231.2" y="501.6" font-size="30" text-anchor="middle" fill="#1c1c1c">16.1</text>
<text x="329.7" y="501.6" font-size="30" text-anchor="middle" fill="#1c1c1c">16.2</text>
<text x="428.2" y="501.6" font-size="30" text-anchor="middle" fill="#1c1c1c">16.3</text>
<text x="526.6" y="501.6" font-size="30" text-anchor="middle" fill="#1c1c1c">16.4</text>
<text x="625" y="501.6" font-size="30" text-anchor="middle" fill="#1c1c1c">16.5</text>
<text x="723.5" y="501.6" font-size="30" text-anchor="middle" fill="#1c1c1c">16.6</text>
<text x="821.9" y="501.6" font-size="30" text-anchor="middle" fill="#1c1c1c">16.7</text>
<text x="920.4" y="501.6" font-size="30" text-anchor="middle" fill="#1c1c1c">16.8</text>
<text x="107" y="459.2" font-size="30" text-anchor="end" fill="#1c1c1c">1.5</text>
<text x="107" y="373.6" font-size="30" text-anchor="end" fill="#1c1c1c">2</text>
<text x="107" y="288.1" font-size="30" text-anchor="end" fill="#1c1c1c">2.5</text>
<text x="107" y="202.5" font-size="30" text-anchor="end" fill="#1c1c1c">3</text>
<text x="107" y="116.9" font-size="30" text-anchor="end" fill="#1c1c1c">3.5</text>
<rect x="125.5" y="616.2" width="799.1" height="405.3" fill="none" stroke="#000" stroke-width="3.6"/>
<path d="M189.7 1023.3v8.6M189.7 614.4v-8.6M312.2 1023.3v8.6M312.2 614.4v-8.6M434.7 1023.3v8.6M434.7 614.4v-8.6M557.2 1023.3v8.6M557.2 614.4v-8.6M679.7 1023.3v8.6M679.7 614.4v-8.6M802.2 1023.3v8.6M802.2 614.4v-8.6M924.7 1023.3v8.6M924.7 614.4v-8.6M123.7 1004.3h-8.6M926.4 1004.3h8.6M123.7 903.7h-8.6M926.4 903.7h8.6M123.7 801.8h-8.6M926.4 801.8h8.6M123.7 701.9h-8.6M926.4 701.9h8.6" stroke="#000" stroke-width="3.2" fill="none"/>
<text x="190.5" y="1070.3" font-size="29.2" text-anchor="middle" fill="#1c1c1c">16</text>
<text x="313" y="1070.3" font-size="29.2" text-anchor="middle" fill="#1c1c1c">16.2</text>
<text x="435.5" y="1070.3" font-size="29.2" text-anchor="middle" fill="#1c1c1c">16.4</text>
<text x="558" y="1070.3" font-size="29.2" text-anchor="middle" fill="#1c1c1c">16.6</text>
<text x="680.5" y="1070.3" font-size="29.2" text-anchor="middle" fill="#1c1c1c">16.8</text>
<text x="803" y="1070.3" font-size="29.2" text-anchor="middle" fill="#1c1c1c">17</text>
<text x="925.5" y="1070.3" font-size="29.2" text-anchor="middle" fill="#1c1c1c">17.2</text>
<text x="106.3" y="1015.6" font-size="29.2" text-anchor="end" fill="#1c1c1c">0</text>
<text x="106.3" y="915" font-size="29.2" text-anchor="end" fill="#1c1c1c">2</text>
<text x="106.3" y="813.1" font-size="29.2" text-anchor="end" fill="#1c1c1c">4</text>
<text x="106.3" y="713.2" font-size="29.2" text-anchor="end" fill="#1c1c1c">6</text>
<rect x="125.2" y="1182.7" width="799.8" height="400.3" fill="none" stroke="#000" stroke-width="3.4"/>
<path d="M244 1584.7v8.6M244 1181v-8.6M379 1584.7v8.6M379 1181v-8.6M514 1584.7v8.6M514 1181v-8.6M649 1584.7v8.6M649 1181v-8.6M784 1584.7v8.6M784 1181v-8.6M919 1584.7v8.6M919 1181v-8.6M123.5 1197.8h-8.6M926.7 1197.8h8.6M123.5 1262.2h-8.6M926.7 1262.2h8.6M123.5 1327.8h-8.6M926.7 1327.8h8.6M123.5 1392.3h-8.6M926.7 1392.3h8.6M123.5 1455.4h-8.6M926.7 1455.4h8.6M123.5 1520.5h-8.6M926.7 1520.5h8.6" stroke="#000" stroke-width="3.0" fill="none"/>
<text x="244.8" y="1633" font-size="29.2" text-anchor="middle" fill="#1c1c1c">16.2</text>
<text x="379.8" y="1633" font-size="29.2" text-anchor="middle" fill="#1c1c1c">16.4</text>
<text x="514.8" y="1633" font-size="29.2" text-anchor="middle" fill="#1c1c1c">16.6</text>
<text x="649.8" y="1633" font-size="29.2" text-anchor="middle" fill="#1c1c1c">16.8</text>
<text x="784.8" y="1633" font-size="29.2" text-anchor="middle" fill="#1c1c1c">17</text>
<text x="919.8" y="1633" font-size="29.2" text-anchor="middle" fill="#1c1c1c">17.2</text>
<text x="106.3" y="1209.8" font-size="29.2" text-anchor="end" fill="#1c1c1c">1.5</text>
<text x="106.3" y="1274.2" font-size="29.2" text-anchor="end" fill="#1c1c1c">1</text>
<text x="106.3" y="1339.8" font-size="29.2" text-anchor="end" fill="#1c1c1c">0.5</text>
<text x="106.3" y="1404.3" font-size="29.2" text-anchor="end" fill="#1c1c1c">0</text>
<text x="106.3" y="1467.4" font-size="29.2" text-anchor="end" fill="#1c1c1c">-0.5</text>
<text x="106.3" y="1532.5" font-size="29.2" text-anchor="end" fill="#1c1c1c">-1</text>
<path d="M114.9 1454.4H124M926.5 1454.4H935.5" stroke="#000" stroke-width="5"/>
<rect x="1002.7" y="275.8" width="478.8" height="189" fill="none" stroke="#000" stroke-width="3.2"/>
<path d="M1008 466.4v5.6M1008 274.2v-5.6M1188.5 466.4v5.6M1188.5 274.2v-5.6M1368.5 466.4v5.6M1368.5 274.2v-5.6M1001.1 313.4h-5.6M1483.1 313.4h5.6M1001.1 381.5h-5.6M1483.1 381.5h5.6M1001.1 449.3h-5.6M1483.1 449.3h5.6" stroke="#000" stroke-width="2.4" fill="none"/>
<text x="1008.8" y="509.8" font-size="29.5" text-anchor="middle" fill="#1c1c1c">16</text>
<text x="1189.3" y="509.8" font-size="29.5" text-anchor="middle" fill="#1c1c1c">16.05</text>
<text x="1369.3" y="509.8" font-size="29.5" text-anchor="middle" fill="#1c1c1c">16.1</text>
<text x="987.5" y="324.7" font-size="29.5" text-anchor="end" fill="#1c1c1c">3.6</text>
<text x="987.5" y="392.8" font-size="29.5" text-anchor="end" fill="#1c1c1c">3.2</text>
<text x="987.5" y="460.6" font-size="29.5" text-anchor="end" fill="#1c1c1c">2.8</text>
<rect x="1001.8" y="835.9" width="475.2" height="190.5" fill="none" stroke="#000" stroke-width="3.4"/>
<path d="M1018.5 1028.1v5.6M1018.5 834.2v-5.6M1151 1028.1v5.6M1151 834.2v-5.6M1283.7 1028.1v5.6M1283.7 834.2v-5.6M1416.4 1028.1v5.6M1416.4 834.2v-5.6M1000.1 870.6h-5.6M1478.7 870.6h5.6M1000.1 919.4h-5.6M1478.7 919.4h5.6M1000.1 965.2h-5.6M1478.7 965.2h5.6M1000.1 1011.2h-5.6M1478.7 1011.2h5.6" stroke="#000" stroke-width="2.4" fill="none"/>
<text x="1019.3" y="1070.3" font-size="29.5" text-anchor="middle" fill="#1c1c1c">16.8</text>
<text x="1151.8" y="1070.3" font-size="29.5" text-anchor="middle" fill="#1c1c1c">16.82</text>
<text x="1284.5" y="1070.3" font-size="29.5" text-anchor="middle" fill="#1c1c1c">16.84</text>
<text x="1417.2" y="1070.3" font-size="29.5" text-anchor="middle" fill="#1c1c1c">16.86</text>
<text x="988" y="881.9" font-size="29.5" text-anchor="end" fill="#1c1c1c">4</text>
<text x="988" y="930.7" font-size="29.5" text-anchor="end" fill="#1c1c1c">3</text>
<text x="988" y="976.5" font-size="29.5" text-anchor="end" fill="#1c1c1c">2</text>
<text x="988" y="1022.5" font-size="29.5" text-anchor="end" fill="#1c1c1c">1</text>
<rect x="1002.7" y="1402.3" width="472" height="186.4" fill="none" stroke="#000" stroke-width="3.2"/>
<path d="M1057.4 1590.3v5.6M1057.4 1400.7v-5.6M1202.4 1590.3v5.6M1202.4 1400.7v-5.6M1347.6 1590.3v5.6M1347.6 1400.7v-5.6M1001.1 1432.4h-5.6M1476.3 1432.4h5.6M1001.1 1489.6h-5.6M1476.3 1489.6h5.6M1001.1 1547.8h-5.6M1476.3 1547.8h5.6" stroke="#000" stroke-width="2.4" fill="none"/>
<text x="1058.2" y="1632.8" font-size="28.6" text-anchor="middle" fill="#1c1c1c">17.04</text>
<text x="1203.2" y="1632.8" font-size="28.6" text-anchor="middle" fill="#1c1c1c">17.08</text>
<text x="1348.4" y="1632.8" font-size="28.6" text-anchor="middle" fill="#1c1c1c">17.12</text>
<text x="987.5" y="1443.7" font-size="28.6" text-anchor="end" fill="#1c1c1c">-0.8</text>
<text x="987.5" y="1500.9" font-size="28.6" text-anchor="end" fill="#1c1c1c">-1</text>
<text x="987.5" y="1559.1" font-size="28.6" text-anchor="end" fill="#1c1c1c">-1.2</text>
<path d="M132.8 61.9H279V239.6M132.8 61.9V239.6H279" fill="none" stroke="#111" stroke-width="3.0" stroke-dasharray="11.8 6.2" stroke-linecap="butt"/>
<path d="M677.7 767H730V976.2M677.7 767V976.2H730" fill="none" stroke="#111" stroke-width="2.6" stroke-dasharray="10.5 6" stroke-linecap="butt"/>
<path d="M824 1461.6H898.8V1574.2M824 1461.6V1574.2H898.8" fill="none" stroke="#111" stroke-width="2.6" stroke-dasharray="10.5 6" stroke-linecap="butt"/>
<rect x="617.8" y="74" width="288.2" height="161.6" fill="#fff" stroke="#303030" stroke-width="3.2"/>
<circle cx="642" cy="95.1" r="2.6" fill="#f5821f"/>
<text transform="translate(685 106.9) scale(1 1.07)" font-size="29" text-anchor="start" fill="#1c1c1c">UFSAR</text>
<circle cx="642" cy="134.3" r="2.6" fill="#2ca02c"/>
<text transform="translate(685 146.1) scale(1 1.07)" font-size="29" text-anchor="start" fill="#1c1c1c">FFSAR_CORAL</text>
<circle cx="642" cy="173.2" r="2.6" fill="#dc282d"/>
<text transform="translate(685 185) scale(1 1.07)" font-size="29" text-anchor="start" fill="#1c1c1c">FFSAR_WIDA</text>
<circle cx="642" cy="212.3" r="2.6" fill="#1874cd"/>
<text transform="translate(685 224.1) scale(1 1.07)" font-size="29" text-anchor="start" fill="#1c1c1c">UFSAR_WIDA</text>
<rect x="140.5" y="846" width="287.5" height="163" fill="#fff" stroke="#303030" stroke-width="3.2"/>
<circle cx="162.7" cy="868.3" r="2.6" fill="#f5821f"/>
<text transform="translate(207 880.1) scale(1 1.07)" font-size="29" text-anchor="start" fill="#1c1c1c">UFSAR</text>
<circle cx="162.7" cy="908.9" r="2.6" fill="#2ca02c"/>
<text transform="translate(207 920.7) scale(1 1.07)" font-size="29" text-anchor="start" fill="#1c1c1c">FFSAR_CORAL</text>
<circle cx="162.7" cy="947.9" r="2.6" fill="#dc282d"/>
<text transform="translate(207 959.7) scale(1 1.07)" font-size="29" text-anchor="start" fill="#1c1c1c">FFSAR_WIDA</text>
<circle cx="162.7" cy="987.2" r="2.6" fill="#1874cd"/>
<text transform="translate(207 999) scale(1 1.07)" font-size="29" text-anchor="start" fill="#1c1c1c">UFSAR_WIDA</text>
<rect x="618" y="1202.2" width="288" height="163.4" fill="#fff" stroke="#303030" stroke-width="3.2"/>
<circle cx="641.8" cy="1225.1" r="2.6" fill="#f5821f"/>
<text transform="translate(685 1236.9) scale(1 1.07)" font-size="29" text-anchor="start" fill="#1c1c1c">UFSAR</text>
<circle cx="641.8" cy="1263.6" r="2.6" fill="#2ca02c"/>
<text transform="translate(685 1275.4) scale(1 1.07)" font-size="29" text-anchor="start" fill="#1c1c1c">FFSAR_CORAL</text>
<circle cx="641.8" cy="1303" r="2.6" fill="#dc282d"/>
<text transform="translate(685 1314.8) scale(1 1.07)" font-size="29" text-anchor="start" fill="#1c1c1c">FFSAR_WIDA</text>
<circle cx="641.8" cy="1341.6" r="2.6" fill="#1874cd"/>
<text transform="translate(685 1353.4) scale(1 1.07)" font-size="29" text-anchor="start" fill="#1c1c1c">UFSAR_WIDA</text>
<text x="526" y="32.6" font-size="32.2" text-anchor="middle" fill="#1c1c1c">(a1) S3A 203</text>
<text x="524.8" y="594.4" font-size="32" text-anchor="middle" fill="#1c1c1c">(b1) S3B 138</text>
<text x="522.3" y="1163.3" font-size="32" text-anchor="middle" fill="#1c1c1c">(c1) S3B 203</text>
<text x="526" y="543.5" font-size="32.8" text-anchor="middle" fill="#1c1c1c">Latitude (°N)</text>
<text x="525.4" y="1109.3" font-size="29.5" text-anchor="middle" fill="#1c1c1c">Latitude (°N)</text>
<text x="526" y="1670.9" font-size="29.5" text-anchor="middle" fill="#1c1c1c">Latitude (°N)</text>
<text x="1253.3" y="545.2" font-size="32.5" text-anchor="middle" fill="#1c1c1c">Latitude (°N)</text>
<text x="1250.3" y="1111.8" font-size="32.5" text-anchor="middle" fill="#1c1c1c">Latitude (°N)</text>
<text x="1250.3" y="1675" font-size="32.5" text-anchor="middle" fill="#1c1c1c">Latitude (°N)</text>
<text transform="translate(49.8 252.5) rotate(-90) scale(1 1.08)" font-size="32.3" text-anchor="middle" fill="#1c1c1c">SSH (m)</text>
<text transform="translate(76.3 817.8) rotate(-90) scale(1 1.07)" font-size="29.6" text-anchor="middle" fill="#1c1c1c">SSH (m)</text>
<text transform="translate(39.5 1383.5) rotate(-90) scale(1 1.07)" font-size="29.6" text-anchor="middle" fill="#1c1c1c">SSH (m)</text>
<text transform="translate(1014 314.6) scale(1 1.03)" font-size="31" text-anchor="start" fill="#1c1c1c">(a3)</text>
<text transform="translate(1014 881.4) scale(1 1.08)" font-size="31" text-anchor="start" fill="#1c1c1c">(b3)</text>
<text x="1013" y="1437" font-size="31" text-anchor="start" fill="#1c1c1c">(c3)</text>
<rect x="0" y="1678" width="1505" height="5" fill="#eeeeef"/>
</svg></body></html>
